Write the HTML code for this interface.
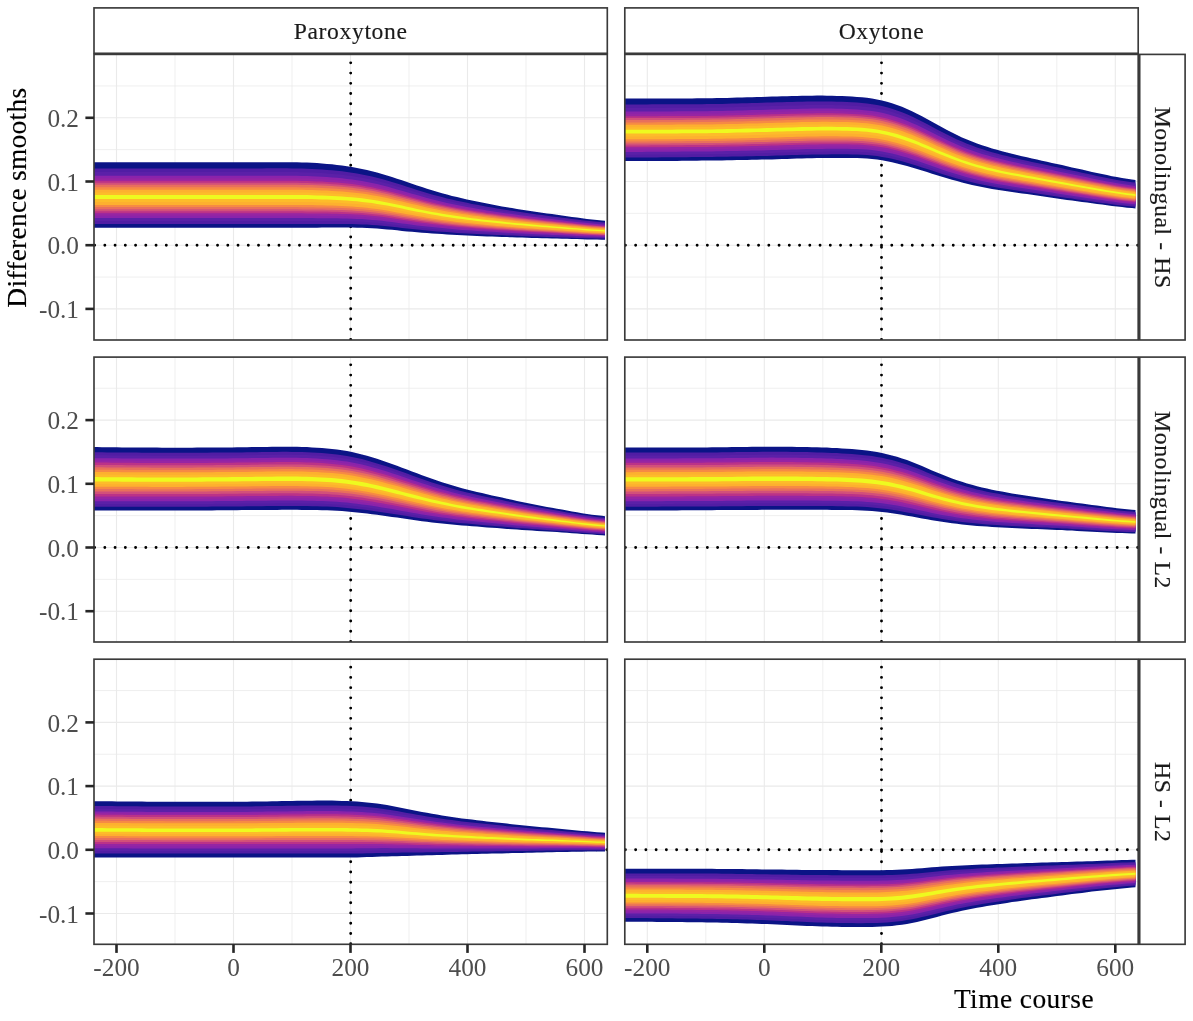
<!DOCTYPE html>
<html><head><meta charset="utf-8"><title>Difference smooths</title>
<style>html,body{margin:0;padding:0;background:#fff}svg{display:block;will-change:transform}text{font-family:"Liberation Serif",serif;stroke-width:0.15px}</style></head>
<body>
<svg width="1193" height="1021" viewBox="0 0 1193 1021">
<rect width="1193" height="1021" fill="#fff"/>
<defs>
<clipPath id="c00"><rect x="94.0" y="54.4" width="513.3" height="285.6"/></clipPath>
<clipPath id="c01"><rect x="624.8" y="54.4" width="513.4" height="285.6"/></clipPath>
<clipPath id="c10"><rect x="94.0" y="357.1" width="513.3" height="284.9"/></clipPath>
<clipPath id="c11"><rect x="624.8" y="357.1" width="513.4" height="284.9"/></clipPath>
<clipPath id="c20"><rect x="94.0" y="659.2" width="513.3" height="285.1"/></clipPath>
<clipPath id="c21"><rect x="624.8" y="659.2" width="513.4" height="285.1"/></clipPath>
</defs>
<g clip-path="url(#c00)">
<line x1="175" x2="175" y1="54.4" y2="340.0" stroke="#EAEAEA" stroke-width="0.75"/>
<line x1="292" x2="292" y1="54.4" y2="340.0" stroke="#EAEAEA" stroke-width="0.75"/>
<line x1="409" x2="409" y1="54.4" y2="340.0" stroke="#EAEAEA" stroke-width="0.75"/>
<line x1="526" x2="526" y1="54.4" y2="340.0" stroke="#EAEAEA" stroke-width="0.75"/>
<line x1="94.0" x2="607.3" y1="277.05" y2="277.05" stroke="#EAEAEA" stroke-width="0.75"/>
<line x1="94.0" x2="607.3" y1="213.35" y2="213.35" stroke="#EAEAEA" stroke-width="0.75"/>
<line x1="94.0" x2="607.3" y1="149.65" y2="149.65" stroke="#EAEAEA" stroke-width="0.75"/>
<line x1="94.0" x2="607.3" y1="85.95" y2="85.95" stroke="#EAEAEA" stroke-width="0.75"/>
<line x1="116.5" x2="116.5" y1="54.4" y2="340.0" stroke="#EAEAEA" stroke-width="1.1"/>
<line x1="233.5" x2="233.5" y1="54.4" y2="340.0" stroke="#EAEAEA" stroke-width="1.1"/>
<line x1="350.5" x2="350.5" y1="54.4" y2="340.0" stroke="#EAEAEA" stroke-width="1.1"/>
<line x1="467.5" x2="467.5" y1="54.4" y2="340.0" stroke="#EAEAEA" stroke-width="1.1"/>
<line x1="584.5" x2="584.5" y1="54.4" y2="340.0" stroke="#EAEAEA" stroke-width="1.1"/>
<line x1="94.0" x2="607.3" y1="308.9" y2="308.9" stroke="#EAEAEA" stroke-width="1.1"/>
<line x1="94.0" x2="607.3" y1="245.2" y2="245.2" stroke="#EAEAEA" stroke-width="1.1"/>
<line x1="94.0" x2="607.3" y1="181.5" y2="181.5" stroke="#EAEAEA" stroke-width="1.1"/>
<line x1="94.0" x2="607.3" y1="117.8" y2="117.8" stroke="#EAEAEA" stroke-width="1.1"/>
<line x1="350.7" x2="350.7" y1="339.45" y2="51.4" stroke="#000" stroke-width="2.9" stroke-linecap="round" stroke-dasharray="0 10.245"/>
<line x1="94.6" x2="610.3" y1="245.2" y2="245.2" stroke="#000" stroke-width="2.9" stroke-linecap="round" stroke-dasharray="0 10.245"/>
<path d="M92,162.3 L97,162.3 L102,162.3 L107,162.3 L112,162.3 L117,162.3 L122,162.3 L127,162.3 L132,162.3 L137,162.3 L142,162.3 L147,162.3 L152,162.3 L157,162.3 L162,162.3 L167,162.3 L172,162.3 L177,162.3 L182,162.3 L187,162.3 L192,162.3 L197,162.3 L202,162.3 L207,162.3 L212,162.3 L217,162.3 L222,162.3 L227,162.3 L232,162.3 L237,162.3 L242,162.3 L247,162.3 L252,162.2 L257,162.2 L262,162.2 L267,162.2 L272,162.2 L277,162.2 L282,162.2 L287,162.2 L292,162.2 L297,162.3 L302,162.4 L307,162.6 L312,162.8 L317,163.1 L322,163.5 L327,163.9 L332,164.3 L337,164.9 L342,165.5 L347,166.2 L352,167 L357,167.9 L362,168.9 L367,170 L372,171.2 L377,172.5 L382,173.9 L387,175.4 L392,177 L397,178.7 L402,180.3 L407,182 L412,183.8 L417,185.5 L422,187.1 L427,188.8 L432,190.3 L437,191.8 L442,193.3 L447,194.6 L452,195.9 L457,197.1 L462,198.3 L467,199.4 L472,200.5 L477,201.6 L482,202.6 L487,203.6 L492,204.6 L497,205.5 L502,206.4 L507,207.2 L512,208.1 L517,208.9 L522,209.7 L527,210.4 L532,211.2 L537,211.9 L542,212.7 L547,213.4 L552,214.1 L557,214.8 L562,215.5 L567,216.2 L572,216.9 L577,217.6 L582,218.2 L587,218.9 L592,219.5 L597,220 L602,220.4 L605,220.8 L605,239.7 L602,239.7 L597,239.6 L592,239.5 L587,239.4 L582,239.3 L577,239.1 L572,239 L567,238.8 L562,238.7 L557,238.6 L552,238.4 L547,238.3 L542,238.2 L537,238 L532,237.9 L527,237.8 L522,237.6 L517,237.4 L512,237.3 L507,237.1 L502,236.9 L497,236.7 L492,236.5 L487,236.4 L482,236.2 L477,236 L472,235.8 L467,235.6 L462,235.3 L457,235.1 L452,234.8 L447,234.5 L442,234.1 L437,233.8 L432,233.4 L427,233.1 L422,232.7 L417,232.3 L412,231.8 L407,231.4 L402,230.9 L397,230.3 L392,229.8 L387,229.4 L382,228.9 L377,228.5 L372,228.2 L367,228 L362,227.8 L357,227.7 L352,227.6 L347,227.5 L342,227.5 L337,227.5 L332,227.6 L327,227.6 L322,227.6 L317,227.7 L312,227.7 L307,227.7 L302,227.7 L297,227.7 L292,227.7 L287,227.7 L282,227.7 L277,227.7 L272,227.7 L267,227.7 L262,227.7 L257,227.7 L252,227.7 L247,227.7 L242,227.7 L237,227.7 L232,227.7 L227,227.7 L222,227.7 L217,227.7 L212,227.7 L207,227.7 L202,227.7 L197,227.7 L192,227.7 L187,227.7 L182,227.7 L177,227.7 L172,227.7 L167,227.7 L162,227.7 L157,227.7 L152,227.7 L147,227.7 L142,227.7 L137,227.7 L132,227.7 L127,227.7 L122,227.7 L117,227.7 L112,227.7 L107,227.7 L102,227.7 L97,227.7 L92,227.7Z" fill="#0B1486"/>
<path d="M92,168.4 L97,168.4 L102,168.4 L107,168.4 L112,168.4 L117,168.4 L122,168.4 L127,168.4 L132,168.4 L137,168.4 L142,168.4 L147,168.4 L152,168.4 L157,168.4 L162,168.4 L167,168.4 L172,168.4 L177,168.4 L182,168.4 L187,168.4 L192,168.4 L197,168.4 L202,168.4 L207,168.4 L212,168.4 L217,168.4 L222,168.4 L227,168.4 L232,168.4 L237,168.4 L242,168.4 L247,168.4 L252,168.4 L257,168.4 L262,168.4 L267,168.3 L272,168.3 L277,168.3 L282,168.3 L287,168.3 L292,168.4 L297,168.5 L302,168.6 L307,168.7 L312,168.9 L317,169.2 L322,169.5 L327,169.9 L332,170.3 L337,170.8 L342,171.3 L347,171.9 L352,172.7 L357,173.5 L362,174.4 L367,175.4 L372,176.6 L377,177.8 L382,179.1 L387,180.5 L392,182 L397,183.5 L402,185.1 L407,186.7 L412,188.3 L417,189.9 L422,191.4 L427,192.9 L432,194.4 L437,195.8 L442,197.1 L447,198.4 L452,199.6 L457,200.7 L462,201.8 L467,202.8 L472,203.9 L477,204.8 L482,205.8 L487,206.7 L492,207.6 L497,208.4 L502,209.2 L507,210 L512,210.8 L517,211.6 L522,212.3 L527,213 L532,213.7 L537,214.4 L542,215.1 L547,215.7 L552,216.4 L557,217 L562,217.7 L567,218.3 L572,219 L577,219.6 L582,220.2 L587,220.8 L592,221.3 L597,221.8 L602,222.3 L605,222.6 L605,238.6 L602,238.6 L597,238.5 L592,238.3 L587,238.2 L582,238.1 L577,237.9 L572,237.7 L567,237.5 L562,237.4 L557,237.2 L552,237 L547,236.9 L542,236.7 L537,236.5 L532,236.4 L527,236.2 L522,236 L517,235.8 L512,235.6 L507,235.4 L502,235.1 L497,234.9 L492,234.7 L487,234.5 L482,234.2 L477,234 L472,233.8 L467,233.5 L462,233.2 L457,232.9 L452,232.5 L447,232.1 L442,231.8 L437,231.4 L432,230.9 L427,230.5 L422,230 L417,229.6 L412,229.1 L407,228.5 L402,227.9 L397,227.3 L392,226.8 L387,226.2 L382,225.7 L377,225.3 L372,224.9 L367,224.6 L362,224.4 L357,224.2 L352,224.1 L347,224 L342,223.9 L337,223.9 L332,223.9 L327,223.9 L322,223.9 L317,223.9 L312,223.9 L307,223.9 L302,223.9 L297,223.9 L292,223.9 L287,223.9 L282,223.9 L277,223.9 L272,223.9 L267,223.9 L262,223.9 L257,223.9 L252,223.9 L247,223.9 L242,223.9 L237,223.9 L232,223.9 L227,223.9 L222,223.9 L217,223.9 L212,223.9 L207,223.9 L202,223.9 L197,223.9 L192,223.9 L187,223.9 L182,223.9 L177,223.9 L172,223.9 L167,223.9 L162,223.9 L157,223.9 L152,223.9 L147,223.9 L142,223.9 L137,223.9 L132,223.9 L127,223.9 L122,223.9 L117,223.9 L112,223.9 L107,223.9 L102,223.9 L97,223.9 L92,223.9Z" fill="#511DA4"/>
<path d="M92,172.1 L97,172.1 L102,172.1 L107,172.1 L112,172.1 L117,172.1 L122,172.1 L127,172.1 L132,172.1 L137,172.1 L142,172.1 L147,172.1 L152,172.1 L157,172.1 L162,172.1 L167,172.1 L172,172.1 L177,172.1 L182,172.1 L187,172.1 L192,172.1 L197,172.1 L202,172.1 L207,172.1 L212,172.1 L217,172.1 L222,172.1 L227,172.1 L232,172.1 L237,172.1 L242,172.1 L247,172.1 L252,172.1 L257,172.1 L262,172.1 L267,172 L272,172 L277,172 L282,172 L287,172 L292,172.1 L297,172.1 L302,172.3 L307,172.4 L312,172.6 L317,172.8 L322,173.1 L327,173.5 L332,173.9 L337,174.3 L342,174.8 L347,175.4 L352,176.1 L357,176.9 L362,177.7 L367,178.7 L372,179.8 L377,181 L382,182.2 L387,183.6 L392,185 L397,186.4 L402,187.9 L407,189.5 L412,191 L417,192.5 L422,194 L427,195.4 L432,196.8 L437,198.2 L442,199.4 L447,200.6 L452,201.8 L457,202.9 L462,203.9 L467,204.9 L472,205.8 L477,206.8 L482,207.7 L487,208.5 L492,209.4 L497,210.2 L502,211 L507,211.7 L512,212.5 L517,213.2 L522,213.9 L527,214.6 L532,215.2 L537,215.9 L542,216.5 L547,217.1 L552,217.8 L557,218.4 L562,219 L567,219.6 L572,220.2 L577,220.8 L582,221.4 L587,221.9 L592,222.5 L597,222.9 L602,223.3 L605,223.6 L605,237.8 L602,237.7 L597,237.6 L592,237.5 L587,237.3 L582,237.1 L577,236.9 L572,236.7 L567,236.5 L562,236.3 L557,236.1 L552,235.9 L547,235.7 L542,235.6 L537,235.4 L532,235.2 L527,235 L522,234.7 L517,234.5 L512,234.3 L507,234 L502,233.8 L497,233.5 L492,233.3 L487,233 L482,232.8 L477,232.5 L472,232.2 L467,231.9 L462,231.5 L457,231.2 L452,230.8 L447,230.4 L442,229.9 L437,229.5 L432,229 L427,228.5 L422,228 L417,227.5 L412,226.9 L407,226.3 L402,225.7 L397,225 L392,224.4 L387,223.8 L382,223.3 L377,222.8 L372,222.4 L367,222 L362,221.8 L357,221.5 L352,221.4 L347,221.2 L342,221.2 L337,221.1 L332,221.1 L327,221.1 L322,221.1 L317,221 L312,221 L307,221 L302,221 L297,221 L292,221 L287,221 L282,221 L277,221 L272,221 L267,221 L262,221 L257,221 L252,221 L247,221 L242,221 L237,221 L232,221 L227,221 L222,221 L217,221 L212,221 L207,221 L202,221 L197,221 L192,221 L187,221 L182,221 L177,221 L172,221 L167,221 L162,221 L157,221 L152,221 L147,221 L142,221 L137,221 L132,221 L127,221 L122,221 L117,221 L112,221 L107,221 L102,221 L97,221 L92,221Z" fill="#5B20A8"/>
<path d="M92,175.8 L97,175.8 L102,175.8 L107,175.8 L112,175.8 L117,175.8 L122,175.8 L127,175.8 L132,175.8 L137,175.8 L142,175.8 L147,175.8 L152,175.8 L157,175.8 L162,175.8 L167,175.8 L172,175.8 L177,175.8 L182,175.8 L187,175.8 L192,175.8 L197,175.8 L202,175.8 L207,175.8 L212,175.8 L217,175.8 L222,175.8 L227,175.8 L232,175.8 L237,175.8 L242,175.8 L247,175.8 L252,175.8 L257,175.8 L262,175.8 L267,175.7 L272,175.7 L277,175.7 L282,175.7 L287,175.7 L292,175.8 L297,175.8 L302,175.9 L307,176.1 L312,176.3 L317,176.5 L322,176.7 L327,177.1 L332,177.4 L337,177.8 L342,178.3 L347,178.9 L352,179.5 L357,180.2 L362,181.1 L367,182 L372,183 L377,184.1 L382,185.3 L387,186.6 L392,188 L397,189.4 L402,190.8 L407,192.3 L412,193.7 L417,195.1 L422,196.6 L427,197.9 L432,199.3 L437,200.5 L442,201.7 L447,202.9 L452,204 L457,205 L462,206 L467,206.9 L472,207.8 L477,208.7 L482,209.6 L487,210.4 L492,211.2 L497,211.9 L502,212.7 L507,213.4 L512,214.1 L517,214.8 L522,215.4 L527,216.1 L532,216.7 L537,217.3 L542,218 L547,218.6 L552,219.1 L557,219.7 L562,220.3 L567,220.9 L572,221.5 L577,222 L582,222.6 L587,223.1 L592,223.6 L597,224.1 L602,224.4 L605,224.7 L605,236.9 L602,236.8 L597,236.7 L592,236.6 L587,236.4 L582,236.2 L577,236 L572,235.7 L567,235.5 L562,235.3 L557,235.1 L552,234.9 L547,234.6 L542,234.4 L537,234.2 L532,234 L527,233.7 L522,233.5 L517,233.2 L512,233 L507,232.7 L502,232.4 L497,232.1 L492,231.8 L487,231.6 L482,231.3 L477,230.9 L472,230.6 L467,230.3 L462,229.9 L457,229.5 L452,229.1 L447,228.6 L442,228.1 L437,227.6 L432,227.1 L427,226.6 L422,226 L417,225.4 L412,224.8 L407,224.1 L402,223.4 L397,222.7 L392,222.1 L387,221.4 L382,220.8 L377,220.3 L372,219.9 L367,219.5 L362,219.1 L357,218.9 L352,218.7 L347,218.5 L342,218.4 L337,218.3 L332,218.3 L327,218.2 L322,218.2 L317,218.2 L312,218.1 L307,218.1 L302,218.1 L297,218.1 L292,218.1 L287,218.1 L282,218.1 L277,218.1 L272,218.1 L267,218.1 L262,218.1 L257,218.1 L252,218.1 L247,218.1 L242,218.1 L237,218.1 L232,218.1 L227,218.1 L222,218.1 L217,218.1 L212,218.1 L207,218.1 L202,218.1 L197,218.1 L192,218.1 L187,218.1 L182,218.1 L177,218.1 L172,218.1 L167,218.1 L162,218.1 L157,218.1 L152,218.1 L147,218.1 L142,218.1 L137,218.1 L132,218.1 L127,218.1 L122,218.1 L117,218.1 L112,218.1 L107,218.1 L102,218.1 L97,218.1 L92,218.1Z" fill="#8A23AB"/>
<path d="M92,178.3 L97,178.3 L102,178.3 L107,178.3 L112,178.3 L117,178.3 L122,178.3 L127,178.3 L132,178.3 L137,178.3 L142,178.3 L147,178.3 L152,178.3 L157,178.3 L162,178.3 L167,178.3 L172,178.3 L177,178.3 L182,178.3 L187,178.3 L192,178.3 L197,178.3 L202,178.3 L207,178.3 L212,178.3 L217,178.3 L222,178.3 L227,178.3 L232,178.3 L237,178.3 L242,178.3 L247,178.3 L252,178.3 L257,178.3 L262,178.2 L267,178.2 L272,178.2 L277,178.2 L282,178.2 L287,178.2 L292,178.3 L297,178.3 L302,178.4 L307,178.6 L312,178.7 L317,178.9 L322,179.2 L327,179.5 L332,179.8 L337,180.2 L342,180.7 L347,181.2 L352,181.8 L357,182.5 L362,183.3 L367,184.2 L372,185.2 L377,186.3 L382,187.4 L387,188.6 L392,190 L397,191.3 L402,192.7 L407,194.1 L412,195.5 L417,196.9 L422,198.3 L427,199.6 L432,200.9 L437,202.1 L442,203.3 L447,204.4 L452,205.4 L457,206.4 L462,207.4 L467,208.3 L472,209.2 L477,210 L482,210.8 L487,211.6 L492,212.4 L497,213.1 L502,213.9 L507,214.5 L512,215.2 L517,215.9 L522,216.5 L527,217.1 L532,217.7 L537,218.3 L542,218.9 L547,219.5 L552,220.1 L557,220.6 L562,221.2 L567,221.7 L572,222.3 L577,222.8 L582,223.4 L587,223.9 L592,224.4 L597,224.8 L602,225.2 L605,225.4 L605,236.2 L602,236.1 L597,236 L592,235.8 L587,235.6 L582,235.4 L577,235.2 L572,234.9 L567,234.7 L562,234.4 L557,234.2 L552,234 L547,233.7 L542,233.5 L537,233.3 L532,233 L527,232.8 L522,232.5 L517,232.2 L512,231.9 L507,231.6 L502,231.3 L497,231 L492,230.7 L487,230.4 L482,230 L477,229.7 L472,229.3 L467,229 L462,228.5 L457,228.1 L452,227.6 L447,227.1 L442,226.6 L437,226.1 L432,225.5 L427,224.9 L422,224.3 L417,223.7 L412,223 L407,222.3 L402,221.6 L397,220.9 L392,220.1 L387,219.5 L382,218.8 L377,218.3 L372,217.8 L367,217.3 L362,217 L357,216.7 L352,216.5 L347,216.3 L342,216.1 L337,216 L332,216 L327,215.9 L322,215.9 L317,215.8 L312,215.8 L307,215.7 L302,215.7 L297,215.7 L292,215.7 L287,215.7 L282,215.7 L277,215.7 L272,215.7 L267,215.7 L262,215.7 L257,215.7 L252,215.7 L247,215.7 L242,215.7 L237,215.7 L232,215.7 L227,215.7 L222,215.7 L217,215.7 L212,215.7 L207,215.7 L202,215.7 L197,215.7 L192,215.7 L187,215.7 L182,215.7 L177,215.7 L172,215.7 L167,215.7 L162,215.7 L157,215.7 L152,215.7 L147,215.7 L142,215.7 L137,215.7 L132,215.7 L127,215.7 L122,215.7 L117,215.7 L112,215.7 L107,215.7 L102,215.7 L97,215.7 L92,215.7Z" fill="#9625A3"/>
<path d="M92,180.8 L97,180.8 L102,180.8 L107,180.8 L112,180.8 L117,180.8 L122,180.8 L127,180.8 L132,180.8 L137,180.8 L142,180.8 L147,180.8 L152,180.8 L157,180.8 L162,180.8 L167,180.8 L172,180.8 L177,180.8 L182,180.8 L187,180.8 L192,180.8 L197,180.8 L202,180.8 L207,180.8 L212,180.8 L217,180.8 L222,180.8 L227,180.8 L232,180.8 L237,180.8 L242,180.8 L247,180.8 L252,180.8 L257,180.8 L262,180.7 L267,180.7 L272,180.7 L277,180.7 L282,180.7 L287,180.7 L292,180.8 L297,180.8 L302,180.9 L307,181 L312,181.2 L317,181.4 L322,181.6 L327,181.9 L332,182.2 L337,182.6 L342,183 L347,183.5 L352,184.1 L357,184.8 L362,185.5 L367,186.4 L372,187.3 L377,188.4 L382,189.5 L387,190.7 L392,192 L397,193.3 L402,194.6 L407,196 L412,197.4 L417,198.7 L422,200 L427,201.3 L432,202.5 L437,203.7 L442,204.8 L447,205.9 L452,206.9 L457,207.9 L462,208.8 L467,209.7 L472,210.5 L477,211.3 L482,212.1 L487,212.9 L492,213.6 L497,214.3 L502,215 L507,215.7 L512,216.3 L517,217 L522,217.6 L527,218.2 L532,218.8 L537,219.3 L542,219.9 L547,220.4 L552,221 L557,221.5 L562,222.1 L567,222.6 L572,223.1 L577,223.7 L582,224.2 L587,224.7 L592,225.1 L597,225.5 L602,225.9 L605,226.1 L605,235.6 L602,235.4 L597,235.3 L592,235.1 L587,234.9 L582,234.6 L577,234.4 L572,234.1 L567,233.9 L562,233.6 L557,233.3 L552,233.1 L547,232.8 L542,232.6 L537,232.3 L532,232 L527,231.8 L522,231.5 L517,231.2 L512,230.8 L507,230.5 L502,230.2 L497,229.9 L492,229.5 L487,229.2 L482,228.8 L477,228.4 L472,228 L467,227.6 L462,227.2 L457,226.7 L452,226.2 L447,225.7 L442,225.1 L437,224.6 L432,224 L427,223.3 L422,222.7 L417,222 L412,221.3 L407,220.5 L402,219.7 L397,219 L392,218.2 L387,217.5 L382,216.8 L377,216.2 L372,215.7 L367,215.2 L362,214.8 L357,214.5 L352,214.2 L347,214 L342,213.9 L337,213.8 L332,213.7 L327,213.6 L322,213.5 L317,213.5 L312,213.4 L307,213.4 L302,213.3 L297,213.3 L292,213.3 L287,213.3 L282,213.3 L277,213.3 L272,213.3 L267,213.3 L262,213.3 L257,213.3 L252,213.3 L247,213.3 L242,213.3 L237,213.3 L232,213.3 L227,213.3 L222,213.3 L217,213.3 L212,213.3 L207,213.3 L202,213.3 L197,213.3 L192,213.3 L187,213.3 L182,213.3 L177,213.3 L172,213.3 L167,213.3 L162,213.3 L157,213.3 L152,213.3 L147,213.3 L142,213.3 L137,213.3 L132,213.3 L127,213.3 L122,213.3 L117,213.3 L112,213.3 L107,213.3 L102,213.3 L97,213.3 L92,213.3Z" fill="#BB3288"/>
<path d="M92,182.8 L97,182.8 L102,182.8 L107,182.8 L112,182.8 L117,182.8 L122,182.8 L127,182.8 L132,182.8 L137,182.8 L142,182.8 L147,182.8 L152,182.8 L157,182.8 L162,182.8 L167,182.8 L172,182.8 L177,182.8 L182,182.8 L187,182.8 L192,182.8 L197,182.8 L202,182.8 L207,182.8 L212,182.8 L217,182.8 L222,182.8 L227,182.8 L232,182.8 L237,182.8 L242,182.8 L247,182.8 L252,182.8 L257,182.7 L262,182.7 L267,182.7 L272,182.7 L277,182.7 L282,182.7 L287,182.7 L292,182.8 L297,182.8 L302,182.9 L307,183 L312,183.2 L317,183.4 L322,183.6 L327,183.8 L332,184.2 L337,184.5 L342,184.9 L347,185.4 L352,186 L357,186.6 L362,187.3 L367,188.2 L372,189.1 L377,190.1 L382,191.2 L387,192.3 L392,193.6 L397,194.9 L402,196.2 L407,197.5 L412,198.8 L417,200.1 L422,201.4 L427,202.7 L432,203.9 L437,205 L442,206.1 L447,207.1 L452,208.1 L457,209 L462,209.9 L467,210.8 L472,211.6 L477,212.4 L482,213.1 L487,213.9 L492,214.6 L497,215.3 L502,215.9 L507,216.6 L512,217.2 L517,217.8 L522,218.4 L527,219 L532,219.6 L537,220.1 L542,220.7 L547,221.2 L552,221.7 L557,222.3 L562,222.8 L567,223.3 L572,223.8 L577,224.3 L582,224.8 L587,225.3 L592,225.7 L597,226.1 L602,226.5 L605,226.7 L605,235 L602,234.9 L597,234.7 L592,234.5 L587,234.3 L582,234 L577,233.7 L572,233.5 L567,233.2 L562,232.9 L557,232.6 L552,232.3 L547,232.1 L542,231.8 L537,231.5 L532,231.2 L527,230.9 L522,230.6 L517,230.3 L512,230 L507,229.6 L502,229.3 L497,228.9 L492,228.5 L487,228.2 L482,227.8 L477,227.4 L472,227 L467,226.5 L462,226.1 L457,225.6 L452,225 L447,224.5 L442,223.9 L437,223.3 L432,222.6 L427,222 L422,221.3 L417,220.6 L412,219.8 L407,219 L402,218.2 L397,217.4 L392,216.6 L387,215.8 L382,215.1 L377,214.5 L372,214 L367,213.5 L362,213 L357,212.7 L352,212.4 L347,212.2 L342,212 L337,211.8 L332,211.7 L327,211.6 L322,211.6 L317,211.5 L312,211.4 L307,211.4 L302,211.3 L297,211.3 L292,211.3 L287,211.3 L282,211.3 L277,211.3 L272,211.3 L267,211.3 L262,211.3 L257,211.3 L252,211.3 L247,211.3 L242,211.3 L237,211.3 L232,211.3 L227,211.3 L222,211.3 L217,211.3 L212,211.3 L207,211.3 L202,211.3 L197,211.3 L192,211.3 L187,211.3 L182,211.3 L177,211.3 L172,211.3 L167,211.3 L162,211.3 L157,211.3 L152,211.3 L147,211.3 L142,211.3 L137,211.3 L132,211.3 L127,211.3 L122,211.3 L117,211.3 L112,211.3 L107,211.3 L102,211.3 L97,211.3 L92,211.3Z" fill="#D2507A"/>
<path d="M92,184.8 L97,184.8 L102,184.8 L107,184.8 L112,184.8 L117,184.8 L122,184.8 L127,184.8 L132,184.8 L137,184.8 L142,184.8 L147,184.8 L152,184.8 L157,184.8 L162,184.8 L167,184.8 L172,184.8 L177,184.8 L182,184.8 L187,184.8 L192,184.8 L197,184.8 L202,184.8 L207,184.8 L212,184.8 L217,184.8 L222,184.8 L227,184.8 L232,184.8 L237,184.8 L242,184.8 L247,184.8 L252,184.8 L257,184.7 L262,184.7 L267,184.7 L272,184.7 L277,184.7 L282,184.7 L287,184.7 L292,184.7 L297,184.8 L302,184.9 L307,185 L312,185.1 L317,185.3 L322,185.5 L327,185.8 L332,186.1 L337,186.4 L342,186.8 L347,187.3 L352,187.8 L357,188.4 L362,189.1 L367,189.9 L372,190.8 L377,191.8 L382,192.9 L387,194 L392,195.2 L397,196.4 L402,197.7 L407,199 L412,200.3 L417,201.6 L422,202.8 L427,204 L432,205.2 L437,206.3 L442,207.3 L447,208.3 L452,209.3 L457,210.2 L462,211.1 L467,211.9 L472,212.7 L477,213.4 L482,214.2 L487,214.9 L492,215.6 L497,216.2 L502,216.9 L507,217.5 L512,218.1 L517,218.7 L522,219.3 L527,219.8 L532,220.4 L537,220.9 L542,221.4 L547,222 L552,222.5 L557,223 L562,223.5 L567,224 L572,224.5 L577,225 L582,225.5 L587,225.9 L592,226.4 L597,226.7 L602,227.1 L605,227.3 L605,234.4 L602,234.3 L597,234.1 L592,233.9 L587,233.6 L582,233.4 L577,233.1 L572,232.8 L567,232.5 L562,232.2 L557,231.9 L552,231.6 L547,231.3 L542,231 L537,230.7 L532,230.4 L527,230.1 L522,229.8 L517,229.4 L512,229.1 L507,228.7 L502,228.3 L497,227.9 L492,227.6 L487,227.2 L482,226.8 L477,226.3 L472,225.9 L467,225.4 L462,224.9 L457,224.4 L452,223.9 L447,223.3 L442,222.7 L437,222 L432,221.3 L427,220.6 L422,219.9 L417,219.1 L412,218.3 L407,217.5 L402,216.7 L397,215.8 L392,215 L387,214.2 L382,213.5 L377,212.8 L372,212.2 L367,211.7 L362,211.2 L357,210.9 L352,210.5 L347,210.3 L342,210.1 L337,209.9 L332,209.8 L327,209.7 L322,209.6 L317,209.5 L312,209.5 L307,209.4 L302,209.4 L297,209.3 L292,209.3 L287,209.3 L282,209.3 L277,209.3 L272,209.3 L267,209.3 L262,209.3 L257,209.3 L252,209.3 L247,209.3 L242,209.3 L237,209.3 L232,209.3 L227,209.3 L222,209.3 L217,209.3 L212,209.3 L207,209.3 L202,209.3 L197,209.3 L192,209.3 L187,209.3 L182,209.3 L177,209.3 L172,209.3 L167,209.3 L162,209.3 L157,209.3 L152,209.3 L147,209.3 L142,209.3 L137,209.3 L132,209.3 L127,209.3 L122,209.3 L117,209.3 L112,209.3 L107,209.3 L102,209.3 L97,209.3 L92,209.3Z" fill="#E8705C"/>
<path d="M92,187.3 L97,187.3 L102,187.3 L107,187.3 L112,187.3 L117,187.3 L122,187.3 L127,187.3 L132,187.3 L137,187.3 L142,187.3 L147,187.3 L152,187.3 L157,187.3 L162,187.3 L167,187.3 L172,187.3 L177,187.3 L182,187.3 L187,187.3 L192,187.3 L197,187.3 L202,187.3 L207,187.3 L212,187.3 L217,187.3 L222,187.3 L227,187.3 L232,187.3 L237,187.3 L242,187.3 L247,187.3 L252,187.2 L257,187.2 L262,187.2 L267,187.2 L272,187.2 L277,187.2 L282,187.2 L287,187.2 L292,187.2 L297,187.3 L302,187.4 L307,187.5 L312,187.6 L317,187.8 L322,188 L327,188.2 L332,188.5 L337,188.8 L342,189.2 L347,189.6 L352,190.1 L357,190.7 L362,191.4 L367,192.1 L372,193 L377,193.9 L382,194.9 L387,196 L392,197.2 L397,198.4 L402,199.6 L407,200.9 L412,202.1 L417,203.3 L422,204.5 L427,205.7 L432,206.8 L437,207.9 L442,208.9 L447,209.8 L452,210.8 L457,211.6 L462,212.5 L467,213.3 L472,214 L477,214.7 L482,215.4 L487,216.1 L492,216.8 L497,217.4 L502,218 L507,218.6 L512,219.2 L517,219.8 L522,220.3 L527,220.9 L532,221.4 L537,221.9 L542,222.4 L547,222.9 L552,223.4 L557,223.9 L562,224.4 L567,224.9 L572,225.3 L577,225.8 L582,226.3 L587,226.7 L592,227.1 L597,227.5 L602,227.8 L605,228 L605,233.8 L602,233.6 L597,233.4 L592,233.2 L587,232.9 L582,232.7 L577,232.3 L572,232 L567,231.7 L562,231.4 L557,231.1 L552,230.8 L547,230.5 L542,230.2 L537,229.8 L532,229.5 L527,229.2 L522,228.8 L517,228.5 L512,228.1 L507,227.7 L502,227.3 L497,226.9 L492,226.5 L487,226.1 L482,225.6 L477,225.2 L472,224.7 L467,224.2 L462,223.7 L457,223.1 L452,222.6 L447,221.9 L442,221.3 L437,220.6 L432,219.9 L427,219.1 L422,218.4 L417,217.6 L412,216.7 L407,215.9 L402,215 L397,214.1 L392,213.2 L387,212.4 L382,211.6 L377,210.9 L372,210.3 L367,209.7 L362,209.3 L357,208.9 L352,208.5 L347,208.2 L342,208 L337,207.8 L332,207.7 L327,207.6 L322,207.5 L317,207.4 L312,207.3 L307,207.2 L302,207.2 L297,207.1 L292,207.1 L287,207.1 L282,207.1 L277,207.1 L272,207.1 L267,207.1 L262,207.1 L257,207.1 L252,207.1 L247,207.1 L242,207.1 L237,207.1 L232,207.1 L227,207.1 L222,207.1 L217,207.1 L212,207.1 L207,207.1 L202,207.1 L197,207.1 L192,207.1 L187,207.1 L182,207.1 L177,207.1 L172,207.1 L167,207.1 L162,207.1 L157,207.1 L152,207.1 L147,207.1 L142,207.1 L137,207.1 L132,207.1 L127,207.1 L122,207.1 L117,207.1 L112,207.1 L107,207.1 L102,207.1 L97,207.1 L92,207.1Z" fill="#F68A44"/>
<path d="M92,189.8 L97,189.8 L102,189.8 L107,189.8 L112,189.8 L117,189.8 L122,189.8 L127,189.8 L132,189.8 L137,189.8 L142,189.8 L147,189.8 L152,189.8 L157,189.8 L162,189.8 L167,189.8 L172,189.8 L177,189.8 L182,189.8 L187,189.8 L192,189.8 L197,189.8 L202,189.8 L207,189.8 L212,189.8 L217,189.8 L222,189.8 L227,189.8 L232,189.8 L237,189.8 L242,189.8 L247,189.7 L252,189.7 L257,189.7 L262,189.7 L267,189.7 L272,189.7 L277,189.7 L282,189.7 L287,189.7 L292,189.7 L297,189.8 L302,189.8 L307,189.9 L312,190.1 L317,190.2 L322,190.4 L327,190.6 L332,190.9 L337,191.2 L342,191.5 L347,191.9 L352,192.4 L357,193 L362,193.6 L367,194.3 L372,195.2 L377,196.1 L382,197 L387,198.1 L392,199.2 L397,200.4 L402,201.6 L407,202.8 L412,203.9 L417,205.1 L422,206.3 L427,207.4 L432,208.4 L437,209.5 L442,210.4 L447,211.4 L452,212.2 L457,213.1 L462,213.9 L467,214.6 L472,215.4 L477,216 L482,216.7 L487,217.4 L492,218 L497,218.6 L502,219.2 L507,219.8 L512,220.3 L517,220.9 L522,221.4 L527,221.9 L532,222.4 L537,222.9 L542,223.4 L547,223.9 L552,224.3 L557,224.8 L562,225.3 L567,225.7 L572,226.2 L577,226.6 L582,227.1 L587,227.5 L592,227.9 L597,228.2 L602,228.5 L605,228.7 L605,233.1 L602,233 L597,232.8 L592,232.5 L587,232.2 L582,231.9 L577,231.6 L572,231.3 L567,231 L562,230.6 L557,230.3 L552,230 L547,229.6 L542,229.3 L537,229 L532,228.6 L527,228.3 L522,227.9 L517,227.5 L512,227.1 L507,226.7 L502,226.3 L497,225.9 L492,225.4 L487,225 L482,224.5 L477,224 L472,223.5 L467,223 L462,222.5 L457,221.9 L452,221.2 L447,220.6 L442,219.9 L437,219.2 L432,218.4 L427,217.7 L422,216.8 L417,216 L412,215.1 L407,214.2 L402,213.3 L397,212.4 L392,211.5 L387,210.6 L382,209.8 L377,209.1 L372,208.4 L367,207.8 L362,207.3 L357,206.9 L352,206.5 L347,206.2 L342,205.9 L337,205.7 L332,205.6 L327,205.4 L322,205.3 L317,205.2 L312,205.1 L307,205 L302,205 L297,204.9 L292,204.9 L287,204.9 L282,204.9 L277,204.9 L272,204.9 L267,204.9 L262,204.9 L257,204.9 L252,204.9 L247,204.9 L242,204.9 L237,204.9 L232,204.9 L227,204.9 L222,204.9 L217,204.9 L212,204.9 L207,204.9 L202,204.9 L197,204.9 L192,204.9 L187,204.9 L182,204.9 L177,204.9 L172,204.9 L167,204.9 L162,204.9 L157,204.9 L152,204.9 L147,204.9 L142,204.9 L137,204.9 L132,204.9 L127,204.9 L122,204.9 L117,204.9 L112,204.9 L107,204.9 L102,204.9 L97,204.9 L92,204.9Z" fill="#FDB02F"/>
<path d="M92,192.4 L97,192.4 L102,192.4 L107,192.4 L112,192.4 L117,192.4 L122,192.4 L127,192.4 L132,192.4 L137,192.4 L142,192.4 L147,192.4 L152,192.4 L157,192.4 L162,192.4 L167,192.4 L172,192.4 L177,192.4 L182,192.4 L187,192.4 L192,192.4 L197,192.4 L202,192.4 L207,192.4 L212,192.4 L217,192.4 L222,192.4 L227,192.4 L232,192.4 L237,192.4 L242,192.4 L247,192.4 L252,192.4 L257,192.3 L262,192.3 L267,192.3 L272,192.3 L277,192.3 L282,192.3 L287,192.3 L292,192.3 L297,192.4 L302,192.5 L307,192.5 L312,192.7 L317,192.8 L322,193 L327,193.2 L332,193.4 L337,193.7 L342,194 L347,194.4 L352,194.8 L357,195.4 L362,196 L367,196.7 L372,197.4 L377,198.3 L382,199.2 L387,200.2 L392,201.3 L397,202.4 L402,203.6 L407,204.7 L412,205.9 L417,207 L422,208.1 L427,209.1 L432,210.2 L437,211.1 L442,212.1 L447,213 L452,213.8 L457,214.6 L462,215.3 L467,216.1 L472,216.8 L477,217.4 L482,218.1 L487,218.7 L492,219.3 L497,219.9 L502,220.4 L507,221 L512,221.5 L517,222 L522,222.5 L527,223 L532,223.5 L537,223.9 L542,224.4 L547,224.9 L552,225.3 L557,225.7 L562,226.2 L567,226.6 L572,227.1 L577,227.5 L582,227.9 L587,228.3 L592,228.7 L597,229 L602,229.3 L605,229.5 L605,232.3 L602,232.1 L597,231.9 L592,231.6 L587,231.3 L582,231 L577,230.6 L572,230.3 L567,229.9 L562,229.6 L557,229.2 L552,228.8 L547,228.5 L542,228.1 L537,227.8 L532,227.4 L527,227 L522,226.6 L517,226.2 L512,225.8 L507,225.3 L502,224.9 L497,224.4 L492,223.9 L487,223.5 L482,223 L477,222.4 L472,221.9 L467,221.3 L462,220.7 L457,220.1 L452,219.5 L447,218.8 L442,218 L437,217.3 L432,216.5 L427,215.6 L422,214.7 L417,213.8 L412,212.9 L407,211.9 L402,211 L397,210 L392,209 L387,208.1 L382,207.3 L377,206.5 L372,205.8 L367,205.1 L362,204.6 L357,204.1 L352,203.7 L347,203.4 L342,203.1 L337,202.8 L332,202.7 L327,202.5 L322,202.4 L317,202.2 L312,202.1 L307,202 L302,202 L297,201.9 L292,201.9 L287,201.9 L282,201.9 L277,201.9 L272,201.9 L267,201.9 L262,201.9 L257,201.9 L252,201.9 L247,201.9 L242,201.9 L237,201.9 L232,201.9 L227,201.9 L222,201.9 L217,201.9 L212,201.9 L207,201.9 L202,201.9 L197,201.9 L192,201.9 L187,201.9 L182,201.9 L177,201.9 L172,201.9 L167,201.9 L162,201.9 L157,201.9 L152,201.9 L147,201.9 L142,201.9 L137,201.9 L132,201.9 L127,201.9 L122,201.9 L117,201.9 L112,201.9 L107,201.9 L102,201.9 L97,201.9 L92,201.9Z" fill="#FDBC2A"/>
<path d="M92,195 L97,195 L102,195 L107,195 L112,195 L117,195 L122,195 L127,195 L132,195 L137,195 L142,195 L147,195 L152,195 L157,195 L162,195 L167,195 L172,195 L177,195 L182,195 L187,195 L192,195 L197,195 L202,195 L207,195 L212,195 L217,195 L222,195 L227,195 L232,195 L237,195 L242,195 L247,195 L252,195 L257,195 L262,195 L267,194.9 L272,194.9 L277,194.9 L282,194.9 L287,194.9 L292,195 L297,195 L302,195.1 L307,195.1 L312,195.3 L317,195.4 L322,195.5 L327,195.7 L332,196 L337,196.2 L342,196.5 L347,196.9 L352,197.3 L357,197.8 L362,198.3 L367,199 L372,199.7 L377,200.5 L382,201.4 L387,202.4 L392,203.4 L397,204.5 L402,205.6 L407,206.7 L412,207.8 L417,208.9 L422,209.9 L427,210.9 L432,211.9 L437,212.8 L442,213.7 L447,214.5 L452,215.3 L457,216.1 L462,216.8 L467,217.5 L472,218.2 L477,218.8 L482,219.4 L487,220 L492,220.6 L497,221.1 L502,221.6 L507,222.2 L512,222.7 L517,223.2 L522,223.6 L527,224.1 L532,224.6 L537,225 L542,225.4 L547,225.8 L552,226.3 L557,226.7 L562,227.1 L567,227.5 L572,227.9 L577,228.3 L582,228.7 L587,229.1 L592,229.5 L597,229.8 L602,230.1 L605,230.3 L605,231.4 L602,231.2 L597,231 L592,230.7 L587,230.4 L582,230 L577,229.6 L572,229.3 L567,228.9 L562,228.5 L557,228.1 L552,227.7 L547,227.3 L542,227 L537,226.6 L532,226.2 L527,225.7 L522,225.3 L517,224.9 L512,224.4 L507,223.9 L502,223.5 L497,223 L492,222.5 L487,222 L482,221.4 L477,220.9 L472,220.3 L467,219.7 L462,219 L457,218.4 L452,217.7 L447,216.9 L442,216.2 L437,215.3 L432,214.5 L427,213.6 L422,212.6 L417,211.7 L412,210.7 L407,209.7 L402,208.6 L397,207.6 L392,206.6 L387,205.6 L382,204.7 L377,203.9 L372,203.1 L367,202.5 L362,201.9 L357,201.3 L352,200.9 L347,200.5 L342,200.2 L337,200 L332,199.7 L327,199.6 L322,199.4 L317,199.3 L312,199.1 L307,199.1 L302,199 L297,198.9 L292,198.9 L287,198.9 L282,198.9 L277,198.9 L272,198.9 L267,198.9 L262,198.9 L257,198.9 L252,198.9 L247,198.9 L242,198.9 L237,198.9 L232,198.9 L227,198.9 L222,198.9 L217,198.9 L212,198.9 L207,198.9 L202,198.9 L197,198.9 L192,198.9 L187,198.9 L182,198.9 L177,198.9 L172,198.9 L167,198.9 L162,198.9 L157,198.9 L152,198.9 L147,198.9 L142,198.9 L137,198.9 L132,198.9 L127,198.9 L122,198.9 L117,198.9 L112,198.9 L107,198.9 L102,198.9 L97,198.9 L92,198.9Z" fill="#EEFA1F"/>
</g>
<rect x="94.0" y="54.4" width="513.3" height="285.6" fill="none" stroke="#3a3a3a" stroke-width="1.65"/>
<g clip-path="url(#c01)">
<line x1="705.8" x2="705.8" y1="54.4" y2="340.0" stroke="#EAEAEA" stroke-width="0.75"/>
<line x1="822.8" x2="822.8" y1="54.4" y2="340.0" stroke="#EAEAEA" stroke-width="0.75"/>
<line x1="939.8" x2="939.8" y1="54.4" y2="340.0" stroke="#EAEAEA" stroke-width="0.75"/>
<line x1="1056.8" x2="1056.8" y1="54.4" y2="340.0" stroke="#EAEAEA" stroke-width="0.75"/>
<line x1="624.8" x2="1138.2" y1="277.05" y2="277.05" stroke="#EAEAEA" stroke-width="0.75"/>
<line x1="624.8" x2="1138.2" y1="213.35" y2="213.35" stroke="#EAEAEA" stroke-width="0.75"/>
<line x1="624.8" x2="1138.2" y1="149.65" y2="149.65" stroke="#EAEAEA" stroke-width="0.75"/>
<line x1="624.8" x2="1138.2" y1="85.95" y2="85.95" stroke="#EAEAEA" stroke-width="0.75"/>
<line x1="647.3" x2="647.3" y1="54.4" y2="340.0" stroke="#EAEAEA" stroke-width="1.1"/>
<line x1="764.3" x2="764.3" y1="54.4" y2="340.0" stroke="#EAEAEA" stroke-width="1.1"/>
<line x1="881.3" x2="881.3" y1="54.4" y2="340.0" stroke="#EAEAEA" stroke-width="1.1"/>
<line x1="998.3" x2="998.3" y1="54.4" y2="340.0" stroke="#EAEAEA" stroke-width="1.1"/>
<line x1="1115.3" x2="1115.3" y1="54.4" y2="340.0" stroke="#EAEAEA" stroke-width="1.1"/>
<line x1="624.8" x2="1138.2" y1="308.9" y2="308.9" stroke="#EAEAEA" stroke-width="1.1"/>
<line x1="624.8" x2="1138.2" y1="245.2" y2="245.2" stroke="#EAEAEA" stroke-width="1.1"/>
<line x1="624.8" x2="1138.2" y1="181.5" y2="181.5" stroke="#EAEAEA" stroke-width="1.1"/>
<line x1="624.8" x2="1138.2" y1="117.8" y2="117.8" stroke="#EAEAEA" stroke-width="1.1"/>
<line x1="881.5" x2="881.5" y1="339.45" y2="51.4" stroke="#000" stroke-width="2.9" stroke-linecap="round" stroke-dasharray="0 10.245"/>
<line x1="625.4" x2="1141.2" y1="245.2" y2="245.2" stroke="#000" stroke-width="2.9" stroke-linecap="round" stroke-dasharray="0 10.245"/>
<path d="M622,98.5 L627,98.5 L632,98.5 L637,98.5 L642,98.5 L647,98.5 L652,98.5 L657,98.5 L662,98.5 L667,98.4 L672,98.4 L677,98.4 L682,98.4 L687,98.4 L692,98.4 L697,98.3 L702,98.3 L707,98.3 L712,98.2 L717,98.1 L722,98 L727,97.9 L732,97.8 L737,97.6 L742,97.5 L747,97.3 L752,97.2 L757,97 L762,96.9 L767,96.7 L772,96.6 L777,96.4 L782,96.3 L787,96.2 L792,96 L797,95.9 L802,95.8 L807,95.7 L812,95.7 L817,95.6 L822,95.6 L827,95.7 L832,95.7 L837,95.9 L842,96 L847,96.2 L852,96.5 L857,96.9 L862,97.3 L867,97.8 L872,98.5 L877,99.4 L882,100.4 L887,101.7 L892,103.2 L897,104.9 L902,106.8 L907,108.9 L912,111.2 L917,113.7 L922,116.3 L927,119.1 L932,121.8 L937,124.6 L942,127.3 L947,130 L952,132.6 L957,135 L962,137.4 L967,139.5 L972,141.6 L977,143.4 L982,145.2 L987,146.8 L992,148.4 L997,149.8 L1002,151.2 L1007,152.5 L1012,153.8 L1017,155 L1022,156.2 L1027,157.3 L1032,158.5 L1037,159.6 L1042,160.7 L1047,161.8 L1052,162.9 L1057,164 L1062,165.1 L1067,166.3 L1072,167.4 L1077,168.5 L1082,169.6 L1087,170.7 L1092,171.9 L1097,173 L1102,174.1 L1107,175.1 L1112,176.2 L1117,177.1 L1122,178 L1127,178.8 L1132,179.5 L1135.5,180 L1135.5,208.5 L1132,208.1 L1127,207.7 L1122,207.1 L1117,206.6 L1112,205.9 L1107,205.3 L1102,204.6 L1097,204 L1092,203.3 L1087,202.6 L1082,201.9 L1077,201.3 L1072,200.6 L1067,199.9 L1062,199.2 L1057,198.4 L1052,197.7 L1047,197 L1042,196.2 L1037,195.5 L1032,194.8 L1027,194.1 L1022,193.4 L1017,192.7 L1012,192 L1007,191.3 L1002,190.6 L997,189.8 L992,188.9 L987,188 L982,187 L977,186 L972,184.9 L967,183.7 L962,182.4 L957,181.1 L952,179.7 L947,178.2 L942,176.7 L937,175.2 L932,173.7 L927,172.1 L922,170.5 L917,169 L912,167.5 L907,166 L902,164.7 L897,163.4 L892,162.3 L887,161.2 L882,160.3 L877,159.6 L872,159 L867,158.6 L862,158.3 L857,158.1 L852,157.9 L847,157.9 L842,157.9 L837,157.9 L832,157.9 L827,158 L822,158.1 L817,158.1 L812,158.2 L807,158.3 L802,158.5 L797,158.6 L792,158.8 L787,158.9 L782,159.1 L777,159.2 L772,159.4 L767,159.5 L762,159.6 L757,159.7 L752,159.8 L747,159.9 L742,160 L737,160.1 L732,160.2 L727,160.3 L722,160.4 L717,160.5 L712,160.5 L707,160.6 L702,160.6 L697,160.7 L692,160.7 L687,160.8 L682,160.8 L677,160.9 L672,160.9 L667,160.9 L662,161 L657,161 L652,161 L647,161 L642,161.1 L637,161.1 L632,161.1 L627,161.1 L622,161.1Z" fill="#0B1486"/>
<path d="M622,104.4 L627,104.4 L632,104.4 L637,104.4 L642,104.4 L647,104.4 L652,104.3 L657,104.3 L662,104.3 L667,104.3 L672,104.3 L677,104.3 L682,104.3 L687,104.2 L692,104.2 L697,104.2 L702,104.2 L707,104.1 L712,104 L717,104 L722,103.9 L727,103.8 L732,103.6 L737,103.5 L742,103.3 L747,103.2 L752,103.1 L757,102.9 L762,102.8 L767,102.6 L772,102.5 L777,102.3 L782,102.2 L787,102.1 L792,101.9 L797,101.8 L802,101.7 L807,101.6 L812,101.5 L817,101.5 L822,101.5 L827,101.5 L832,101.6 L837,101.7 L842,101.8 L847,102 L852,102.3 L857,102.6 L862,103 L867,103.5 L872,104.2 L877,105 L882,106 L887,107.3 L892,108.7 L897,110.4 L902,112.2 L907,114.3 L912,116.5 L917,118.9 L922,121.4 L927,124 L932,126.7 L937,129.4 L942,132 L947,134.5 L952,137 L957,139.4 L962,141.6 L967,143.7 L972,145.6 L977,147.4 L982,149.1 L987,150.7 L992,152.2 L997,153.6 L1002,154.9 L1007,156.1 L1012,157.4 L1017,158.5 L1022,159.7 L1027,160.8 L1032,161.9 L1037,163 L1042,164 L1047,165.1 L1052,166.2 L1057,167.3 L1062,168.3 L1067,169.4 L1072,170.5 L1077,171.6 L1082,172.7 L1087,173.7 L1092,174.8 L1097,175.9 L1102,176.9 L1107,178 L1112,179 L1117,179.9 L1122,180.8 L1127,181.5 L1132,182.2 L1135.5,182.6 L1135.5,206.8 L1132,206.5 L1127,206 L1122,205.5 L1117,204.9 L1112,204.2 L1107,203.5 L1102,202.9 L1097,202.2 L1092,201.5 L1087,200.8 L1082,200.1 L1077,199.4 L1072,198.6 L1067,197.9 L1062,197.2 L1057,196.4 L1052,195.7 L1047,194.9 L1042,194.2 L1037,193.4 L1032,192.7 L1027,191.9 L1022,191.2 L1017,190.5 L1012,189.8 L1007,189.1 L1002,188.3 L997,187.5 L992,186.6 L987,185.6 L982,184.6 L977,183.5 L972,182.3 L967,181.1 L962,179.8 L957,178.4 L952,177 L947,175.4 L942,173.9 L937,172.3 L932,170.6 L927,169 L922,167.4 L917,165.8 L912,164.2 L907,162.7 L902,161.3 L897,160 L892,158.8 L887,157.8 L882,156.9 L877,156.1 L872,155.5 L867,155 L862,154.7 L857,154.5 L852,154.4 L847,154.3 L842,154.3 L837,154.3 L832,154.3 L827,154.4 L822,154.4 L817,154.5 L812,154.6 L807,154.7 L802,154.8 L797,155 L792,155.1 L787,155.3 L782,155.4 L777,155.6 L772,155.7 L767,155.9 L762,156 L757,156.1 L752,156.2 L747,156.3 L742,156.4 L737,156.5 L732,156.6 L727,156.7 L722,156.8 L717,156.8 L712,156.9 L707,157 L702,157 L697,157.1 L692,157.1 L687,157.2 L682,157.2 L677,157.2 L672,157.3 L667,157.3 L662,157.3 L657,157.4 L652,157.4 L647,157.4 L642,157.4 L637,157.4 L632,157.4 L627,157.5 L622,157.5Z" fill="#511DA4"/>
<path d="M622,107.9 L627,107.9 L632,107.9 L637,107.9 L642,107.9 L647,107.9 L652,107.9 L657,107.9 L662,107.9 L667,107.8 L672,107.8 L677,107.8 L682,107.8 L687,107.8 L692,107.7 L697,107.7 L702,107.7 L707,107.6 L712,107.6 L717,107.5 L722,107.4 L727,107.3 L732,107.2 L737,107 L742,106.9 L747,106.7 L752,106.6 L757,106.4 L762,106.3 L767,106.2 L772,106 L777,105.9 L782,105.7 L787,105.6 L792,105.5 L797,105.4 L802,105.2 L807,105.1 L812,105.1 L817,105 L822,105 L827,105 L832,105.1 L837,105.2 L842,105.3 L847,105.5 L852,105.8 L857,106.1 L862,106.5 L867,107 L872,107.6 L877,108.4 L882,109.4 L887,110.6 L892,112.1 L897,113.7 L902,115.5 L907,117.5 L912,119.7 L917,122 L922,124.5 L927,127 L932,129.6 L937,132.2 L942,134.8 L947,137.3 L952,139.7 L957,142 L962,144.1 L967,146.2 L972,148.1 L977,149.8 L982,151.5 L987,153 L992,154.5 L997,155.8 L1002,157.1 L1007,158.3 L1012,159.5 L1017,160.7 L1022,161.8 L1027,162.9 L1032,163.9 L1037,165 L1042,166.1 L1047,167.1 L1052,168.2 L1057,169.2 L1062,170.3 L1067,171.3 L1072,172.4 L1077,173.4 L1082,174.5 L1087,175.5 L1092,176.6 L1097,177.6 L1102,178.7 L1107,179.7 L1112,180.6 L1117,181.6 L1122,182.4 L1127,183.2 L1132,183.8 L1135.5,184.3 L1135.5,205.6 L1132,205.2 L1127,204.7 L1122,204.2 L1117,203.5 L1112,202.9 L1107,202.2 L1102,201.5 L1097,200.8 L1092,200.1 L1087,199.4 L1082,198.6 L1077,197.9 L1072,197.2 L1067,196.4 L1062,195.7 L1057,194.9 L1052,194.1 L1047,193.4 L1042,192.6 L1037,191.8 L1032,191.1 L1027,190.3 L1022,189.6 L1017,188.8 L1012,188.1 L1007,187.3 L1002,186.5 L997,185.7 L992,184.8 L987,183.8 L982,182.7 L977,181.6 L972,180.4 L967,179.1 L962,177.8 L957,176.4 L952,174.9 L947,173.3 L942,171.7 L937,170 L932,168.3 L927,166.6 L922,164.9 L917,163.3 L912,161.7 L907,160.2 L902,158.7 L897,157.4 L892,156.2 L887,155.1 L882,154.2 L877,153.4 L872,152.8 L867,152.3 L862,152 L857,151.8 L852,151.6 L847,151.6 L842,151.6 L837,151.6 L832,151.6 L827,151.6 L822,151.7 L817,151.7 L812,151.8 L807,151.9 L802,152 L797,152.2 L792,152.3 L787,152.5 L782,152.6 L777,152.8 L772,152.9 L767,153.1 L762,153.2 L757,153.3 L752,153.4 L747,153.5 L742,153.6 L737,153.7 L732,153.8 L727,153.9 L722,154 L717,154.1 L712,154.1 L707,154.2 L702,154.2 L697,154.3 L692,154.3 L687,154.4 L682,154.4 L677,154.5 L672,154.5 L667,154.5 L662,154.5 L657,154.6 L652,154.6 L647,154.6 L642,154.6 L637,154.7 L632,154.7 L627,154.7 L622,154.7Z" fill="#5B20A8"/>
<path d="M622,111.5 L627,111.5 L632,111.4 L637,111.4 L642,111.4 L647,111.4 L652,111.4 L657,111.4 L662,111.4 L667,111.4 L672,111.4 L677,111.3 L682,111.3 L687,111.3 L692,111.3 L697,111.2 L702,111.2 L707,111.2 L712,111.1 L717,111 L722,110.9 L727,110.8 L732,110.7 L737,110.6 L742,110.4 L747,110.3 L752,110.1 L757,110 L762,109.9 L767,109.7 L772,109.6 L777,109.4 L782,109.3 L787,109.2 L792,109 L797,108.9 L802,108.8 L807,108.7 L812,108.6 L817,108.6 L822,108.5 L827,108.6 L832,108.6 L837,108.7 L842,108.8 L847,109 L852,109.2 L857,109.5 L862,109.9 L867,110.4 L872,111 L877,111.8 L882,112.8 L887,114 L892,115.4 L897,117 L902,118.8 L907,120.7 L912,122.9 L917,125.1 L922,127.5 L927,130 L932,132.6 L937,135.1 L942,137.6 L947,140 L952,142.3 L957,144.6 L962,146.7 L967,148.7 L972,150.5 L977,152.2 L982,153.9 L987,155.3 L992,156.8 L997,158.1 L1002,159.3 L1007,160.5 L1012,161.7 L1017,162.8 L1022,163.9 L1027,164.9 L1032,166 L1037,167 L1042,168.1 L1047,169.1 L1052,170.1 L1057,171.2 L1062,172.2 L1067,173.2 L1072,174.2 L1077,175.3 L1082,176.3 L1087,177.3 L1092,178.4 L1097,179.4 L1102,180.4 L1107,181.4 L1112,182.3 L1117,183.2 L1122,184.1 L1127,184.8 L1132,185.4 L1135.5,185.9 L1135.5,204.3 L1132,203.9 L1127,203.4 L1122,202.9 L1117,202.2 L1112,201.6 L1107,200.9 L1102,200.1 L1097,199.4 L1092,198.7 L1087,197.9 L1082,197.2 L1077,196.4 L1072,195.7 L1067,194.9 L1062,194.2 L1057,193.4 L1052,192.6 L1047,191.8 L1042,191 L1037,190.2 L1032,189.4 L1027,188.7 L1022,187.9 L1017,187.2 L1012,186.4 L1007,185.6 L1002,184.8 L997,183.9 L992,183 L987,182 L982,180.9 L977,179.7 L972,178.5 L967,177.2 L962,175.8 L957,174.3 L952,172.8 L947,171.2 L942,169.5 L937,167.8 L932,166 L927,164.3 L922,162.5 L917,160.8 L912,159.2 L907,157.6 L902,156.2 L897,154.8 L892,153.6 L887,152.5 L882,151.5 L877,150.8 L872,150.1 L867,149.6 L862,149.3 L857,149.1 L852,148.9 L847,148.8 L842,148.8 L837,148.8 L832,148.8 L827,148.8 L822,148.9 L817,148.9 L812,149 L807,149.1 L802,149.3 L797,149.4 L792,149.5 L787,149.7 L782,149.8 L777,150 L772,150.1 L767,150.3 L762,150.4 L757,150.5 L752,150.6 L747,150.7 L742,150.8 L737,151 L732,151 L727,151.1 L722,151.2 L717,151.3 L712,151.4 L707,151.4 L702,151.5 L697,151.5 L692,151.6 L687,151.6 L682,151.6 L677,151.7 L672,151.7 L667,151.7 L662,151.8 L657,151.8 L652,151.8 L647,151.8 L642,151.9 L637,151.9 L632,151.9 L627,151.9 L622,151.9Z" fill="#8A23AB"/>
<path d="M622,113.8 L627,113.8 L632,113.8 L637,113.8 L642,113.8 L647,113.8 L652,113.8 L657,113.8 L662,113.8 L667,113.7 L672,113.7 L677,113.7 L682,113.7 L687,113.7 L692,113.6 L697,113.6 L702,113.6 L707,113.5 L712,113.5 L717,113.4 L722,113.3 L727,113.2 L732,113.1 L737,112.9 L742,112.8 L747,112.7 L752,112.5 L757,112.4 L762,112.2 L767,112.1 L772,112 L777,111.8 L782,111.7 L787,111.5 L792,111.4 L797,111.3 L802,111.2 L807,111.1 L812,111 L817,110.9 L822,110.9 L827,110.9 L832,111 L837,111.1 L842,111.2 L847,111.4 L852,111.6 L857,111.8 L862,112.2 L867,112.7 L872,113.3 L877,114.1 L882,115.1 L887,116.3 L892,117.6 L897,119.2 L902,121 L907,122.9 L912,125 L917,127.2 L922,129.6 L927,132 L932,134.5 L937,137 L942,139.4 L947,141.8 L952,144.1 L957,146.3 L962,148.4 L967,150.4 L972,152.2 L977,153.9 L982,155.4 L987,156.9 L992,158.3 L997,159.6 L1002,160.8 L1007,162 L1012,163.1 L1017,164.2 L1022,165.3 L1027,166.3 L1032,167.4 L1037,168.4 L1042,169.4 L1047,170.4 L1052,171.4 L1057,172.5 L1062,173.5 L1067,174.5 L1072,175.5 L1077,176.5 L1082,177.5 L1087,178.5 L1092,179.6 L1097,180.6 L1102,181.5 L1107,182.5 L1112,183.5 L1117,184.3 L1122,185.2 L1127,185.9 L1132,186.5 L1135.5,186.9 L1135.5,203.2 L1132,202.9 L1127,202.4 L1122,201.8 L1117,201.2 L1112,200.5 L1107,199.8 L1102,199 L1097,198.3 L1092,197.5 L1087,196.8 L1082,196 L1077,195.2 L1072,194.5 L1067,193.7 L1062,192.9 L1057,192.1 L1052,191.3 L1047,190.5 L1042,189.7 L1037,188.9 L1032,188.1 L1027,187.3 L1022,186.6 L1017,185.8 L1012,185 L1007,184.2 L1002,183.3 L997,182.4 L992,181.5 L987,180.5 L982,179.4 L977,178.2 L972,176.9 L967,175.6 L962,174.1 L957,172.6 L952,171 L947,169.4 L942,167.7 L937,165.9 L932,164.1 L927,162.3 L922,160.6 L917,158.8 L912,157.1 L907,155.5 L902,154 L897,152.7 L892,151.4 L887,150.3 L882,149.3 L877,148.6 L872,147.9 L867,147.4 L862,147.1 L857,146.8 L852,146.7 L847,146.6 L842,146.5 L837,146.5 L832,146.5 L827,146.6 L822,146.6 L817,146.7 L812,146.7 L807,146.9 L802,147 L797,147.1 L792,147.3 L787,147.4 L782,147.6 L777,147.7 L772,147.8 L767,148 L762,148.1 L757,148.2 L752,148.3 L747,148.5 L742,148.6 L737,148.7 L732,148.8 L727,148.9 L722,148.9 L717,149 L712,149.1 L707,149.1 L702,149.2 L697,149.2 L692,149.3 L687,149.3 L682,149.4 L677,149.4 L672,149.4 L667,149.5 L662,149.5 L657,149.5 L652,149.5 L647,149.6 L642,149.6 L637,149.6 L632,149.6 L627,149.6 L622,149.6Z" fill="#9625A3"/>
<path d="M622,116.2 L627,116.2 L632,116.2 L637,116.2 L642,116.2 L647,116.2 L652,116.2 L657,116.2 L662,116.1 L667,116.1 L672,116.1 L677,116.1 L682,116.1 L687,116 L692,116 L697,116 L702,115.9 L707,115.9 L712,115.8 L717,115.8 L722,115.7 L727,115.6 L732,115.4 L737,115.3 L742,115.2 L747,115 L752,114.9 L757,114.8 L762,114.6 L767,114.5 L772,114.3 L777,114.2 L782,114.1 L787,113.9 L792,113.8 L797,113.7 L802,113.5 L807,113.4 L812,113.4 L817,113.3 L822,113.3 L827,113.3 L832,113.3 L837,113.4 L842,113.5 L847,113.7 L852,113.9 L857,114.2 L862,114.5 L867,115 L872,115.6 L877,116.4 L882,117.4 L887,118.5 L892,119.9 L897,121.4 L902,123.2 L907,125.1 L912,127.1 L917,129.3 L922,131.7 L927,134.1 L932,136.5 L937,138.9 L942,141.3 L947,143.7 L952,145.9 L957,148.1 L962,150.1 L967,152 L972,153.8 L977,155.5 L982,157 L987,158.5 L992,159.8 L997,161.1 L1002,162.3 L1007,163.5 L1012,164.6 L1017,165.7 L1022,166.7 L1027,167.7 L1032,168.7 L1037,169.8 L1042,170.8 L1047,171.8 L1052,172.8 L1057,173.8 L1062,174.8 L1067,175.8 L1072,176.8 L1077,177.8 L1082,178.8 L1087,179.8 L1092,180.7 L1097,181.7 L1102,182.7 L1107,183.7 L1112,184.6 L1117,185.5 L1122,186.3 L1127,187 L1132,187.6 L1135.5,188 L1135.5,202.2 L1132,201.8 L1127,201.3 L1122,200.7 L1117,200.1 L1112,199.4 L1107,198.7 L1102,197.9 L1097,197.1 L1092,196.4 L1087,195.6 L1082,194.8 L1077,194 L1072,193.3 L1067,192.5 L1062,191.7 L1057,190.9 L1052,190.1 L1047,189.2 L1042,188.4 L1037,187.6 L1032,186.8 L1027,186 L1022,185.2 L1017,184.4 L1012,183.6 L1007,182.8 L1002,181.9 L997,181 L992,180 L987,179 L982,177.8 L977,176.6 L972,175.3 L967,174 L962,172.5 L957,170.9 L952,169.3 L947,167.6 L942,165.9 L937,164.1 L932,162.2 L927,160.4 L922,158.6 L917,156.8 L912,155.1 L907,153.5 L902,151.9 L897,150.5 L892,149.3 L887,148.1 L882,147.2 L877,146.4 L872,145.7 L867,145.2 L862,144.8 L857,144.6 L852,144.4 L847,144.3 L842,144.3 L837,144.3 L832,144.3 L827,144.3 L822,144.3 L817,144.4 L812,144.5 L807,144.6 L802,144.7 L797,144.8 L792,145 L787,145.1 L782,145.3 L777,145.4 L772,145.5 L767,145.7 L762,145.8 L757,145.9 L752,146.1 L747,146.2 L742,146.3 L737,146.4 L732,146.5 L727,146.6 L722,146.7 L717,146.7 L712,146.8 L707,146.9 L702,146.9 L697,147 L692,147 L687,147 L682,147.1 L677,147.1 L672,147.1 L667,147.2 L662,147.2 L657,147.2 L652,147.3 L647,147.3 L642,147.3 L637,147.3 L632,147.3 L627,147.3 L622,147.3Z" fill="#BB3288"/>
<path d="M622,118.1 L627,118.1 L632,118.1 L637,118.1 L642,118.1 L647,118.1 L652,118.1 L657,118.1 L662,118 L667,118 L672,118 L677,118 L682,118 L687,117.9 L692,117.9 L697,117.9 L702,117.8 L707,117.8 L712,117.7 L717,117.7 L722,117.6 L727,117.5 L732,117.3 L737,117.2 L742,117.1 L747,116.9 L752,116.8 L757,116.7 L762,116.5 L767,116.4 L772,116.3 L777,116.1 L782,116 L787,115.8 L792,115.7 L797,115.6 L802,115.5 L807,115.4 L812,115.3 L817,115.2 L822,115.2 L827,115.2 L832,115.2 L837,115.3 L842,115.4 L847,115.6 L852,115.8 L857,116 L862,116.4 L867,116.9 L872,117.5 L877,118.2 L882,119.2 L887,120.3 L892,121.7 L897,123.2 L902,124.9 L907,126.8 L912,128.8 L917,131 L922,133.3 L927,135.7 L932,138.1 L937,140.5 L942,142.8 L947,145.1 L952,147.3 L957,149.5 L962,151.5 L967,153.4 L972,155.1 L977,156.8 L982,158.3 L987,159.7 L992,161.1 L997,162.3 L1002,163.5 L1007,164.7 L1012,165.8 L1017,166.8 L1022,167.8 L1027,168.8 L1032,169.9 L1037,170.8 L1042,171.8 L1047,172.8 L1052,173.8 L1057,174.8 L1062,175.8 L1067,176.8 L1072,177.8 L1077,178.8 L1082,179.7 L1087,180.7 L1092,181.7 L1097,182.7 L1102,183.6 L1107,184.6 L1112,185.5 L1117,186.4 L1122,187.2 L1127,187.9 L1132,188.5 L1135.5,188.9 L1135.5,201.3 L1132,200.9 L1127,200.5 L1122,199.9 L1117,199.2 L1112,198.5 L1107,197.7 L1102,197 L1097,196.2 L1092,195.4 L1087,194.6 L1082,193.8 L1077,193 L1072,192.2 L1067,191.4 L1062,190.6 L1057,189.8 L1052,189 L1047,188.2 L1042,187.3 L1037,186.5 L1032,185.7 L1027,184.9 L1022,184.1 L1017,183.3 L1012,182.4 L1007,181.6 L1002,180.7 L997,179.8 L992,178.8 L987,177.7 L982,176.6 L977,175.3 L972,174 L967,172.6 L962,171.1 L957,169.5 L952,167.9 L947,166.2 L942,164.4 L937,162.5 L932,160.7 L927,158.8 L922,156.9 L917,155.1 L912,153.4 L907,151.7 L902,150.2 L897,148.7 L892,147.5 L887,146.3 L882,145.3 L877,144.5 L872,143.9 L867,143.4 L862,143 L857,142.7 L852,142.6 L847,142.5 L842,142.4 L837,142.4 L832,142.4 L827,142.4 L822,142.4 L817,142.5 L812,142.6 L807,142.7 L802,142.8 L797,142.9 L792,143 L787,143.2 L782,143.3 L777,143.5 L772,143.6 L767,143.8 L762,143.9 L757,144 L752,144.1 L747,144.3 L742,144.4 L737,144.5 L732,144.6 L727,144.7 L722,144.8 L717,144.8 L712,144.9 L707,145 L702,145 L697,145.1 L692,145.1 L687,145.1 L682,145.2 L677,145.2 L672,145.2 L667,145.3 L662,145.3 L657,145.3 L652,145.3 L647,145.4 L642,145.4 L637,145.4 L632,145.4 L627,145.4 L622,145.4Z" fill="#D2507A"/>
<path d="M622,120 L627,120 L632,120 L637,120 L642,120 L647,120 L652,120 L657,120 L662,120 L667,119.9 L672,119.9 L677,119.9 L682,119.9 L687,119.8 L692,119.8 L697,119.8 L702,119.7 L707,119.7 L712,119.6 L717,119.6 L722,119.5 L727,119.4 L732,119.3 L737,119.1 L742,119 L747,118.9 L752,118.7 L757,118.6 L762,118.5 L767,118.3 L772,118.2 L777,118 L782,117.9 L787,117.8 L792,117.6 L797,117.5 L802,117.4 L807,117.3 L812,117.2 L817,117.1 L822,117.1 L827,117.1 L832,117.1 L837,117.2 L842,117.3 L847,117.5 L852,117.6 L857,117.9 L862,118.3 L867,118.7 L872,119.3 L877,120.1 L882,121 L887,122.2 L892,123.5 L897,125 L902,126.7 L907,128.6 L912,130.6 L917,132.7 L922,135 L927,137.3 L932,139.7 L937,142 L942,144.3 L947,146.6 L952,148.8 L957,150.9 L962,152.9 L967,154.7 L972,156.5 L977,158.1 L982,159.6 L987,161 L992,162.3 L997,163.6 L1002,164.7 L1007,165.8 L1012,166.9 L1017,168 L1022,169 L1027,170 L1032,171 L1037,171.9 L1042,172.9 L1047,173.9 L1052,174.9 L1057,175.9 L1062,176.8 L1067,177.8 L1072,178.8 L1077,179.8 L1082,180.7 L1087,181.7 L1092,182.7 L1097,183.6 L1102,184.6 L1107,185.5 L1112,186.4 L1117,187.3 L1122,188.1 L1127,188.8 L1132,189.3 L1135.5,189.8 L1135.5,200.5 L1132,200.1 L1127,199.6 L1122,199 L1117,198.3 L1112,197.6 L1107,196.8 L1102,196 L1097,195.3 L1092,194.5 L1087,193.7 L1082,192.9 L1077,192 L1072,191.2 L1067,190.4 L1062,189.6 L1057,188.8 L1052,187.9 L1047,187.1 L1042,186.2 L1037,185.4 L1032,184.6 L1027,183.7 L1022,182.9 L1017,182.1 L1012,181.3 L1007,180.4 L1002,179.5 L997,178.5 L992,177.5 L987,176.4 L982,175.3 L977,174 L972,172.7 L967,171.3 L962,169.7 L957,168.1 L952,166.5 L947,164.7 L942,162.9 L937,161 L932,159.1 L927,157.2 L922,155.3 L917,153.4 L912,151.7 L907,150 L902,148.4 L897,147 L892,145.7 L887,144.5 L882,143.5 L877,142.7 L872,142 L867,141.5 L862,141.1 L857,140.9 L852,140.7 L847,140.6 L842,140.5 L837,140.5 L832,140.5 L827,140.5 L822,140.5 L817,140.6 L812,140.6 L807,140.7 L802,140.9 L797,141 L792,141.1 L787,141.3 L782,141.4 L777,141.6 L772,141.7 L767,141.9 L762,142 L757,142.1 L752,142.2 L747,142.3 L742,142.5 L737,142.6 L732,142.7 L727,142.8 L722,142.9 L717,142.9 L712,143 L707,143.1 L702,143.1 L697,143.2 L692,143.2 L687,143.2 L682,143.3 L677,143.3 L672,143.3 L667,143.4 L662,143.4 L657,143.4 L652,143.4 L647,143.5 L642,143.5 L637,143.5 L632,143.5 L627,143.5 L622,143.5Z" fill="#E8705C"/>
<path d="M622,122.4 L627,122.4 L632,122.4 L637,122.4 L642,122.4 L647,122.4 L652,122.4 L657,122.3 L662,122.3 L667,122.3 L672,122.3 L677,122.3 L682,122.2 L687,122.2 L692,122.2 L697,122.1 L702,122.1 L707,122.1 L712,122 L717,121.9 L722,121.8 L727,121.7 L732,121.6 L737,121.5 L742,121.4 L747,121.2 L752,121.1 L757,121 L762,120.8 L767,120.7 L772,120.6 L777,120.4 L782,120.3 L787,120.1 L792,120 L797,119.9 L802,119.7 L807,119.6 L812,119.6 L817,119.5 L822,119.5 L827,119.5 L832,119.5 L837,119.6 L842,119.7 L847,119.8 L852,120 L857,120.2 L862,120.6 L867,121 L872,121.6 L877,122.4 L882,123.3 L887,124.4 L892,125.7 L897,127.2 L902,128.9 L907,130.7 L912,132.7 L917,134.8 L922,137 L927,139.3 L932,141.6 L937,143.9 L942,146.2 L947,148.4 L952,150.6 L957,152.6 L962,154.6 L967,156.4 L972,158.1 L977,159.7 L982,161.2 L987,162.6 L992,163.9 L997,165.1 L1002,166.2 L1007,167.3 L1012,168.4 L1017,169.4 L1022,170.4 L1027,171.4 L1032,172.3 L1037,173.3 L1042,174.3 L1047,175.2 L1052,176.2 L1057,177.2 L1062,178.1 L1067,179.1 L1072,180.1 L1077,181 L1082,182 L1087,182.9 L1092,183.9 L1097,184.8 L1102,185.7 L1107,186.6 L1112,187.5 L1117,188.4 L1122,189.2 L1127,189.8 L1132,190.4 L1135.5,190.9 L1135.5,199.5 L1132,199.1 L1127,198.6 L1122,198 L1117,197.3 L1112,196.6 L1107,195.8 L1102,195 L1097,194.2 L1092,193.4 L1087,192.6 L1082,191.8 L1077,191 L1072,190.1 L1067,189.3 L1062,188.5 L1057,187.6 L1052,186.8 L1047,185.9 L1042,185.1 L1037,184.2 L1032,183.4 L1027,182.5 L1022,181.7 L1017,180.8 L1012,180 L1007,179.1 L1002,178.2 L997,177.2 L992,176.2 L987,175.1 L982,173.9 L977,172.6 L972,171.2 L967,169.8 L962,168.2 L957,166.6 L952,164.9 L947,163.1 L942,161.2 L937,159.3 L932,157.4 L927,155.4 L922,153.5 L917,151.6 L912,149.8 L907,148.1 L902,146.5 L897,145 L892,143.7 L887,142.5 L882,141.5 L877,140.7 L872,140 L867,139.5 L862,139.1 L857,138.8 L852,138.6 L847,138.5 L842,138.4 L837,138.4 L832,138.4 L827,138.4 L822,138.4 L817,138.5 L812,138.5 L807,138.6 L802,138.8 L797,138.9 L792,139 L787,139.2 L782,139.3 L777,139.5 L772,139.6 L767,139.8 L762,139.9 L757,140 L752,140.1 L747,140.2 L742,140.4 L737,140.5 L732,140.6 L727,140.7 L722,140.8 L717,140.9 L712,140.9 L707,141 L702,141 L697,141.1 L692,141.1 L687,141.1 L682,141.2 L677,141.2 L672,141.2 L667,141.3 L662,141.3 L657,141.3 L652,141.3 L647,141.4 L642,141.4 L637,141.4 L632,141.4 L627,141.4 L622,141.4Z" fill="#F68A44"/>
<path d="M622,124.8 L627,124.8 L632,124.8 L637,124.8 L642,124.8 L647,124.8 L652,124.7 L657,124.7 L662,124.7 L667,124.7 L672,124.7 L677,124.6 L682,124.6 L687,124.6 L692,124.6 L697,124.5 L702,124.5 L707,124.4 L712,124.4 L717,124.3 L722,124.2 L727,124.1 L732,124 L737,123.9 L742,123.8 L747,123.6 L752,123.5 L757,123.4 L762,123.2 L767,123.1 L772,122.9 L777,122.8 L782,122.7 L787,122.5 L792,122.4 L797,122.2 L802,122.1 L807,122 L812,121.9 L817,121.9 L822,121.8 L827,121.8 L832,121.9 L837,121.9 L842,122 L847,122.1 L852,122.3 L857,122.6 L862,122.9 L867,123.3 L872,123.9 L877,124.7 L882,125.6 L887,126.7 L892,128 L897,129.5 L902,131.1 L907,132.9 L912,134.8 L917,136.9 L922,139.1 L927,141.3 L932,143.6 L937,145.9 L942,148.1 L947,150.3 L952,152.4 L957,154.4 L962,156.3 L967,158.1 L972,159.7 L977,161.3 L982,162.8 L987,164.1 L992,165.4 L997,166.6 L1002,167.7 L1007,168.8 L1012,169.8 L1017,170.8 L1022,171.8 L1027,172.8 L1032,173.7 L1037,174.7 L1042,175.6 L1047,176.6 L1052,177.5 L1057,178.5 L1062,179.4 L1067,180.4 L1072,181.3 L1077,182.3 L1082,183.2 L1087,184.1 L1092,185.1 L1097,186 L1102,186.9 L1107,187.8 L1112,188.7 L1117,189.5 L1122,190.3 L1127,190.9 L1132,191.5 L1135.5,191.9 L1135.5,198.6 L1132,198.2 L1127,197.6 L1122,197 L1117,196.3 L1112,195.6 L1107,194.8 L1102,194 L1097,193.2 L1092,192.4 L1087,191.5 L1082,190.7 L1077,189.9 L1072,189 L1067,188.2 L1062,187.3 L1057,186.5 L1052,185.6 L1047,184.7 L1042,183.9 L1037,183 L1032,182.1 L1027,181.3 L1022,180.4 L1017,179.6 L1012,178.7 L1007,177.8 L1002,176.9 L997,175.9 L992,174.8 L987,173.7 L982,172.5 L977,171.2 L972,169.8 L967,168.3 L962,166.7 L957,165.1 L952,163.3 L947,161.5 L942,159.6 L937,157.6 L932,155.6 L927,153.6 L922,151.6 L917,149.7 L912,147.9 L907,146.1 L902,144.5 L897,143 L892,141.7 L887,140.5 L882,139.5 L877,138.6 L872,138 L867,137.4 L862,137 L857,136.8 L852,136.6 L847,136.4 L842,136.4 L837,136.3 L832,136.3 L827,136.3 L822,136.3 L817,136.4 L812,136.5 L807,136.5 L802,136.7 L797,136.8 L792,136.9 L787,137.1 L782,137.2 L777,137.4 L772,137.5 L767,137.6 L762,137.8 L757,137.9 L752,138 L747,138.2 L742,138.3 L737,138.4 L732,138.5 L727,138.6 L722,138.7 L717,138.8 L712,138.8 L707,138.9 L702,138.9 L697,139 L692,139 L687,139.1 L682,139.1 L677,139.1 L672,139.2 L667,139.2 L662,139.2 L657,139.2 L652,139.2 L647,139.3 L642,139.3 L637,139.3 L632,139.3 L627,139.3 L622,139.3Z" fill="#FDB02F"/>
<path d="M622,127.3 L627,127.3 L632,127.3 L637,127.3 L642,127.3 L647,127.3 L652,127.2 L657,127.2 L662,127.2 L667,127.2 L672,127.2 L677,127.1 L682,127.1 L687,127.1 L692,127 L697,127 L702,127 L707,126.9 L712,126.9 L717,126.8 L722,126.7 L727,126.6 L732,126.5 L737,126.4 L742,126.3 L747,126.1 L752,126 L757,125.9 L762,125.7 L767,125.6 L772,125.5 L777,125.3 L782,125.2 L787,125 L792,124.9 L797,124.8 L802,124.6 L807,124.5 L812,124.4 L817,124.4 L822,124.3 L827,124.3 L832,124.4 L837,124.4 L842,124.5 L847,124.6 L852,124.8 L857,125 L862,125.3 L867,125.8 L872,126.3 L877,127.1 L882,128 L887,129.1 L892,130.3 L897,131.8 L902,133.4 L907,135.2 L912,137.1 L917,139.1 L922,141.2 L927,143.4 L932,145.7 L937,147.9 L942,150.1 L947,152.2 L952,154.2 L957,156.2 L962,158.1 L967,159.8 L972,161.5 L977,163 L982,164.4 L987,165.8 L992,167 L997,168.2 L1002,169.3 L1007,170.4 L1012,171.4 L1017,172.3 L1022,173.3 L1027,174.2 L1032,175.2 L1037,176.1 L1042,177 L1047,178 L1052,178.9 L1057,179.9 L1062,180.8 L1067,181.7 L1072,182.6 L1077,183.6 L1082,184.5 L1087,185.4 L1092,186.3 L1097,187.2 L1102,188.1 L1107,189 L1112,189.9 L1117,190.7 L1122,191.4 L1127,192.1 L1132,192.7 L1135.5,193.1 L1135.5,197.2 L1132,196.8 L1127,196.3 L1122,195.7 L1117,195 L1112,194.2 L1107,193.4 L1102,192.6 L1097,191.7 L1092,190.9 L1087,190.1 L1082,189.2 L1077,188.3 L1072,187.5 L1067,186.6 L1062,185.8 L1057,184.9 L1052,184 L1047,183.1 L1042,182.2 L1037,181.4 L1032,180.5 L1027,179.6 L1022,178.7 L1017,177.8 L1012,176.9 L1007,176 L1002,175.1 L997,174 L992,172.9 L987,171.8 L982,170.5 L977,169.2 L972,167.8 L967,166.3 L962,164.7 L957,162.9 L952,161.1 L947,159.2 L942,157.3 L937,155.3 L932,153.2 L927,151.2 L922,149.2 L917,147.2 L912,145.3 L907,143.5 L902,141.9 L897,140.3 L892,139 L887,137.8 L882,136.7 L877,135.9 L872,135.2 L867,134.6 L862,134.2 L857,133.9 L852,133.7 L847,133.6 L842,133.5 L837,133.5 L832,133.4 L827,133.4 L822,133.5 L817,133.5 L812,133.6 L807,133.7 L802,133.8 L797,133.9 L792,134 L787,134.2 L782,134.3 L777,134.5 L772,134.6 L767,134.8 L762,134.9 L757,135 L752,135.1 L747,135.3 L742,135.4 L737,135.5 L732,135.6 L727,135.7 L722,135.8 L717,135.9 L712,136 L707,136 L702,136.1 L697,136.1 L692,136.2 L687,136.2 L682,136.2 L677,136.2 L672,136.3 L667,136.3 L662,136.3 L657,136.3 L652,136.4 L647,136.4 L642,136.4 L637,136.4 L632,136.4 L627,136.4 L622,136.4Z" fill="#FDBC2A"/>
<path d="M622,129.8 L627,129.8 L632,129.8 L637,129.8 L642,129.8 L647,129.8 L652,129.7 L657,129.7 L662,129.7 L667,129.7 L672,129.7 L677,129.6 L682,129.6 L687,129.6 L692,129.5 L697,129.5 L702,129.5 L707,129.4 L712,129.4 L717,129.3 L722,129.2 L727,129.1 L732,129 L737,128.9 L742,128.8 L747,128.6 L752,128.5 L757,128.4 L762,128.2 L767,128.1 L772,128 L777,127.8 L782,127.7 L787,127.5 L792,127.4 L797,127.3 L802,127.1 L807,127 L812,126.9 L817,126.9 L822,126.8 L827,126.8 L832,126.8 L837,126.9 L842,127 L847,127.1 L852,127.2 L857,127.5 L862,127.8 L867,128.2 L872,128.8 L877,129.5 L882,130.4 L887,131.5 L892,132.7 L897,134.1 L902,135.7 L907,137.5 L912,139.3 L917,141.3 L922,143.4 L927,145.6 L932,147.7 L937,149.9 L942,152 L947,154.1 L952,156.1 L957,158.1 L962,159.9 L967,161.6 L972,163.2 L977,164.7 L982,166.1 L987,167.4 L992,168.6 L997,169.8 L1002,170.9 L1007,171.9 L1012,172.9 L1017,173.8 L1022,174.8 L1027,175.7 L1032,176.6 L1037,177.5 L1042,178.5 L1047,179.4 L1052,180.3 L1057,181.2 L1062,182.1 L1067,183.1 L1072,184 L1077,184.9 L1082,185.8 L1087,186.7 L1092,187.6 L1097,188.5 L1102,189.3 L1107,190.2 L1112,191 L1117,191.8 L1122,192.6 L1127,193.3 L1132,193.8 L1135.5,194.2 L1135.5,195.9 L1132,195.5 L1127,195 L1122,194.3 L1117,193.6 L1112,192.8 L1107,192 L1102,191.2 L1097,190.3 L1092,189.5 L1087,188.6 L1082,187.7 L1077,186.8 L1072,186 L1067,185.1 L1062,184.2 L1057,183.3 L1052,182.4 L1047,181.5 L1042,180.6 L1037,179.7 L1032,178.8 L1027,177.9 L1022,177 L1017,176.1 L1012,175.2 L1007,174.2 L1002,173.2 L997,172.2 L992,171.1 L987,169.9 L982,168.6 L977,167.3 L972,165.8 L967,164.3 L962,162.6 L957,160.8 L952,159 L947,157 L942,155 L937,152.9 L932,150.8 L927,148.7 L922,146.7 L917,144.6 L912,142.7 L907,140.9 L902,139.2 L897,137.7 L892,136.3 L887,135 L882,134 L877,133.1 L872,132.4 L867,131.8 L862,131.4 L857,131.1 L852,130.9 L847,130.8 L842,130.7 L837,130.6 L832,130.6 L827,130.6 L822,130.6 L817,130.6 L812,130.7 L807,130.8 L802,130.9 L797,131 L792,131.2 L787,131.3 L782,131.5 L777,131.6 L772,131.7 L767,131.9 L762,132 L757,132.1 L752,132.3 L747,132.4 L742,132.5 L737,132.6 L732,132.7 L727,132.9 L722,132.9 L717,133 L712,133.1 L707,133.2 L702,133.2 L697,133.2 L692,133.3 L687,133.3 L682,133.3 L677,133.4 L672,133.4 L667,133.4 L662,133.5 L657,133.5 L652,133.5 L647,133.5 L642,133.5 L637,133.5 L632,133.5 L627,133.5 L622,133.6Z" fill="#EEFA1F"/>
</g>
<rect x="624.8" y="54.4" width="513.4" height="285.6" fill="none" stroke="#3a3a3a" stroke-width="1.65"/>
<g clip-path="url(#c10)">
<line x1="175" x2="175" y1="357.1" y2="642.0" stroke="#EAEAEA" stroke-width="0.75"/>
<line x1="292" x2="292" y1="357.1" y2="642.0" stroke="#EAEAEA" stroke-width="0.75"/>
<line x1="409" x2="409" y1="357.1" y2="642.0" stroke="#EAEAEA" stroke-width="0.75"/>
<line x1="526" x2="526" y1="357.1" y2="642.0" stroke="#EAEAEA" stroke-width="0.75"/>
<line x1="94.0" x2="607.3" y1="579.35" y2="579.35" stroke="#EAEAEA" stroke-width="0.75"/>
<line x1="94.0" x2="607.3" y1="515.65" y2="515.65" stroke="#EAEAEA" stroke-width="0.75"/>
<line x1="94.0" x2="607.3" y1="451.95" y2="451.95" stroke="#EAEAEA" stroke-width="0.75"/>
<line x1="94.0" x2="607.3" y1="388.25" y2="388.25" stroke="#EAEAEA" stroke-width="0.75"/>
<line x1="116.5" x2="116.5" y1="357.1" y2="642.0" stroke="#EAEAEA" stroke-width="1.1"/>
<line x1="233.5" x2="233.5" y1="357.1" y2="642.0" stroke="#EAEAEA" stroke-width="1.1"/>
<line x1="350.5" x2="350.5" y1="357.1" y2="642.0" stroke="#EAEAEA" stroke-width="1.1"/>
<line x1="467.5" x2="467.5" y1="357.1" y2="642.0" stroke="#EAEAEA" stroke-width="1.1"/>
<line x1="584.5" x2="584.5" y1="357.1" y2="642.0" stroke="#EAEAEA" stroke-width="1.1"/>
<line x1="94.0" x2="607.3" y1="611.2" y2="611.2" stroke="#EAEAEA" stroke-width="1.1"/>
<line x1="94.0" x2="607.3" y1="547.5" y2="547.5" stroke="#EAEAEA" stroke-width="1.1"/>
<line x1="94.0" x2="607.3" y1="483.8" y2="483.8" stroke="#EAEAEA" stroke-width="1.1"/>
<line x1="94.0" x2="607.3" y1="420.1" y2="420.1" stroke="#EAEAEA" stroke-width="1.1"/>
<line x1="350.7" x2="350.7" y1="641.45" y2="354.1" stroke="#000" stroke-width="2.9" stroke-linecap="round" stroke-dasharray="0 10.245"/>
<line x1="94.6" x2="610.3" y1="547.5" y2="547.5" stroke="#000" stroke-width="2.9" stroke-linecap="round" stroke-dasharray="0 10.245"/>
<path d="M92,447.1 L97,447.1 L102,447.2 L107,447.2 L112,447.3 L117,447.3 L122,447.4 L127,447.4 L132,447.5 L137,447.5 L142,447.6 L147,447.6 L152,447.6 L157,447.6 L162,447.7 L167,447.7 L172,447.7 L177,447.7 L182,447.7 L187,447.7 L192,447.7 L197,447.6 L202,447.6 L207,447.6 L212,447.6 L217,447.5 L222,447.5 L227,447.4 L232,447.4 L237,447.3 L242,447.3 L247,447.2 L252,447.1 L257,447.1 L262,447 L267,446.9 L272,446.8 L277,446.8 L282,446.7 L287,446.7 L292,446.7 L297,446.8 L302,447 L307,447.1 L312,447.4 L317,447.7 L322,448 L327,448.5 L332,449 L337,449.6 L342,450.3 L347,451.1 L352,452.1 L357,453.2 L362,454.4 L367,455.8 L372,457.3 L377,458.8 L382,460.5 L387,462.2 L392,464 L397,465.8 L402,467.7 L407,469.6 L412,471.5 L417,473.3 L422,475.2 L427,477 L432,478.8 L437,480.5 L442,482.2 L447,483.8 L452,485.3 L457,486.8 L462,488.2 L467,489.5 L472,490.8 L477,492 L482,493.1 L487,494.3 L492,495.4 L497,496.5 L502,497.6 L507,498.7 L512,499.8 L517,500.9 L522,502 L527,503 L532,504 L537,505 L542,505.9 L547,506.9 L552,507.8 L557,508.7 L562,509.6 L567,510.6 L572,511.5 L577,512.3 L582,513.2 L587,514 L592,514.7 L597,515.3 L602,515.8 L605,516.2 L605,535.4 L602,535.2 L597,534.9 L592,534.6 L587,534.3 L582,533.9 L577,533.6 L572,533.2 L567,532.8 L562,532.5 L557,532.1 L552,531.8 L547,531.5 L542,531.2 L537,530.9 L532,530.6 L527,530.3 L522,529.9 L517,529.6 L512,529.2 L507,528.9 L502,528.5 L497,528.1 L492,527.7 L487,527.4 L482,527 L477,526.6 L472,526.2 L467,525.8 L462,525.4 L457,525 L452,524.5 L447,524.1 L442,523.6 L437,523 L432,522.4 L427,521.8 L422,521.2 L417,520.5 L412,519.8 L407,519.1 L402,518.3 L397,517.6 L392,516.9 L387,516.2 L382,515.5 L377,514.8 L372,514.2 L367,513.6 L362,513 L357,512.5 L352,512 L347,511.5 L342,511.1 L337,510.8 L332,510.5 L327,510.3 L322,510.2 L317,510 L312,510 L307,509.9 L302,509.9 L297,509.8 L292,509.8 L287,509.8 L282,509.8 L277,509.9 L272,509.9 L267,509.9 L262,510 L257,510 L252,510 L247,510.1 L242,510.1 L237,510.2 L232,510.2 L227,510.3 L222,510.3 L217,510.3 L212,510.4 L207,510.4 L202,510.5 L197,510.5 L192,510.5 L187,510.6 L182,510.6 L177,510.6 L172,510.6 L167,510.6 L162,510.6 L157,510.6 L152,510.6 L147,510.6 L142,510.6 L137,510.6 L132,510.6 L127,510.6 L122,510.6 L117,510.6 L112,510.6 L107,510.6 L102,510.6 L97,510.6 L92,510.6Z" fill="#0B1486"/>
<path d="M92,452.2 L97,452.3 L102,452.3 L107,452.4 L112,452.4 L117,452.5 L122,452.5 L127,452.6 L132,452.6 L137,452.6 L142,452.7 L147,452.7 L152,452.7 L157,452.7 L162,452.8 L167,452.8 L172,452.8 L177,452.8 L182,452.8 L187,452.8 L192,452.7 L197,452.7 L202,452.7 L207,452.7 L212,452.6 L217,452.6 L222,452.6 L227,452.5 L232,452.5 L237,452.4 L242,452.4 L247,452.3 L252,452.2 L257,452.2 L262,452.1 L267,452 L272,451.9 L277,451.9 L282,451.8 L287,451.8 L292,451.9 L297,451.9 L302,452.1 L307,452.2 L312,452.5 L317,452.7 L322,453.1 L327,453.5 L332,454 L337,454.5 L342,455.2 L347,456 L352,456.9 L357,458 L362,459.1 L367,460.5 L372,461.9 L377,463.4 L382,464.9 L387,466.6 L392,468.3 L397,470 L402,471.8 L407,473.6 L412,475.4 L417,477.2 L422,478.9 L427,480.7 L432,482.4 L437,484 L442,485.6 L447,487.1 L452,488.5 L457,489.9 L462,491.2 L467,492.5 L472,493.6 L477,494.8 L482,495.9 L487,497 L492,498 L497,499.1 L502,500.1 L507,501.2 L512,502.2 L517,503.2 L522,504.2 L527,505.2 L532,506.1 L537,507.1 L542,508 L547,508.8 L552,509.7 L557,510.6 L562,511.5 L567,512.4 L572,513.2 L577,514.1 L582,514.9 L587,515.6 L592,516.3 L597,516.9 L602,517.4 L605,517.7 L605,534.2 L602,534 L597,533.8 L592,533.4 L587,533.1 L582,532.7 L577,532.3 L572,531.9 L567,531.5 L562,531.1 L557,530.7 L552,530.4 L547,530 L542,529.7 L537,529.3 L532,529 L527,528.6 L522,528.3 L517,527.9 L512,527.5 L507,527 L502,526.6 L497,526.2 L492,525.8 L487,525.4 L482,524.9 L477,524.5 L472,524.1 L467,523.6 L462,523.2 L457,522.7 L452,522.2 L447,521.6 L442,521.1 L437,520.5 L432,519.8 L427,519.1 L422,518.4 L417,517.7 L412,516.9 L407,516.1 L402,515.3 L397,514.5 L392,513.7 L387,512.9 L382,512.2 L377,511.4 L372,510.7 L367,510.1 L362,509.5 L357,508.9 L352,508.4 L347,507.9 L342,507.5 L337,507.1 L332,506.8 L327,506.6 L322,506.4 L317,506.3 L312,506.2 L307,506.1 L302,506.1 L297,506.1 L292,506.1 L287,506 L282,506.1 L277,506.1 L272,506.1 L267,506.1 L262,506.2 L257,506.2 L252,506.3 L247,506.3 L242,506.4 L237,506.4 L232,506.4 L227,506.5 L222,506.5 L217,506.6 L212,506.6 L207,506.7 L202,506.7 L197,506.7 L192,506.8 L187,506.8 L182,506.8 L177,506.8 L172,506.8 L167,506.8 L162,506.8 L157,506.8 L152,506.8 L147,506.8 L142,506.8 L137,506.8 L132,506.8 L127,506.8 L122,506.8 L117,506.8 L112,506.8 L107,506.8 L102,506.8 L97,506.8 L92,506.8Z" fill="#511DA4"/>
<path d="M92,455.2 L97,455.2 L102,455.3 L107,455.3 L112,455.4 L117,455.4 L122,455.5 L127,455.5 L132,455.5 L137,455.6 L142,455.6 L147,455.6 L152,455.7 L157,455.7 L162,455.7 L167,455.7 L172,455.7 L177,455.7 L182,455.7 L187,455.7 L192,455.7 L197,455.7 L202,455.6 L207,455.6 L212,455.6 L217,455.5 L222,455.5 L227,455.5 L232,455.4 L237,455.4 L242,455.3 L247,455.2 L252,455.2 L257,455.1 L262,455 L267,454.9 L272,454.9 L277,454.8 L282,454.8 L287,454.8 L292,454.8 L297,454.9 L302,455 L307,455.1 L312,455.4 L317,455.6 L322,456 L327,456.4 L332,456.8 L337,457.4 L342,458 L347,458.8 L352,459.7 L357,460.7 L362,461.9 L367,463.1 L372,464.5 L377,466 L382,467.5 L387,469.1 L392,470.7 L397,472.4 L402,474.2 L407,475.9 L412,477.6 L417,479.4 L422,481.1 L427,482.7 L432,484.4 L437,486 L442,487.5 L447,488.9 L452,490.3 L457,491.7 L462,492.9 L467,494.1 L472,495.3 L477,496.4 L482,497.5 L487,498.5 L492,499.5 L497,500.5 L502,501.6 L507,502.6 L512,503.6 L517,504.6 L522,505.5 L527,506.5 L532,507.4 L537,508.3 L542,509.1 L547,510 L552,510.8 L557,511.7 L562,512.5 L567,513.4 L572,514.2 L577,515.1 L582,515.8 L587,516.6 L592,517.2 L597,517.8 L602,518.3 L605,518.6 L605,533.4 L602,533.2 L597,532.9 L592,532.6 L587,532.2 L582,531.8 L577,531.4 L572,530.9 L567,530.5 L562,530.1 L557,529.7 L552,529.3 L547,528.9 L542,528.6 L537,528.2 L532,527.8 L527,527.4 L522,527 L517,526.6 L512,526.2 L507,525.7 L502,525.3 L497,524.8 L492,524.4 L487,523.9 L482,523.5 L477,523 L472,522.5 L467,522.1 L462,521.6 L457,521 L452,520.5 L447,519.9 L442,519.3 L437,518.6 L432,517.9 L427,517.2 L422,516.4 L417,515.6 L412,514.8 L407,514 L402,513.1 L397,512.2 L392,511.4 L387,510.6 L382,509.8 L377,509 L372,508.3 L367,507.6 L362,506.9 L357,506.3 L352,505.8 L347,505.3 L342,504.8 L337,504.5 L332,504.2 L327,503.9 L322,503.7 L317,503.6 L312,503.5 L307,503.4 L302,503.4 L297,503.3 L292,503.3 L287,503.3 L282,503.3 L277,503.3 L272,503.4 L267,503.4 L262,503.4 L257,503.5 L252,503.5 L247,503.6 L242,503.6 L237,503.7 L232,503.7 L227,503.8 L222,503.8 L217,503.8 L212,503.9 L207,503.9 L202,504 L197,504 L192,504 L187,504 L182,504.1 L177,504.1 L172,504.1 L167,504.1 L162,504.1 L157,504.1 L152,504.1 L147,504.1 L142,504.1 L137,504.1 L132,504.1 L127,504.1 L122,504.1 L117,504.1 L112,504 L107,504 L102,504 L97,504 L92,504Z" fill="#5B20A8"/>
<path d="M92,458.1 L97,458.2 L102,458.2 L107,458.2 L112,458.3 L117,458.3 L122,458.4 L127,458.4 L132,458.5 L137,458.5 L142,458.5 L147,458.6 L152,458.6 L157,458.6 L162,458.6 L167,458.6 L172,458.6 L177,458.6 L182,458.6 L187,458.6 L192,458.6 L197,458.6 L202,458.5 L207,458.5 L212,458.5 L217,458.5 L222,458.4 L227,458.4 L232,458.3 L237,458.3 L242,458.2 L247,458.2 L252,458.1 L257,458 L262,457.9 L267,457.9 L272,457.8 L277,457.7 L282,457.7 L287,457.7 L292,457.7 L297,457.8 L302,457.9 L307,458.1 L312,458.3 L317,458.5 L322,458.9 L327,459.2 L332,459.7 L337,460.2 L342,460.9 L347,461.6 L352,462.5 L357,463.5 L362,464.6 L367,465.8 L372,467.2 L377,468.6 L382,470 L387,471.6 L392,473.2 L397,474.8 L402,476.5 L407,478.2 L412,479.9 L417,481.6 L422,483.2 L427,484.8 L432,486.4 L437,487.9 L442,489.4 L447,490.8 L452,492.2 L457,493.4 L462,494.7 L467,495.8 L472,496.9 L477,498 L482,499 L487,500 L492,501 L497,502 L502,503 L507,504 L512,504.9 L517,505.9 L522,506.8 L527,507.7 L532,508.6 L537,509.5 L542,510.3 L547,511.1 L552,512 L557,512.8 L562,513.6 L567,514.4 L572,515.2 L577,516 L582,516.8 L587,517.5 L592,518.2 L597,518.7 L602,519.2 L605,519.5 L605,532.6 L602,532.4 L597,532.1 L592,531.7 L587,531.3 L582,530.9 L577,530.4 L572,530 L567,529.5 L562,529.1 L557,528.7 L552,528.3 L547,527.9 L542,527.5 L537,527.1 L532,526.7 L527,526.3 L522,525.8 L517,525.4 L512,524.9 L507,524.4 L502,523.9 L497,523.5 L492,523 L487,522.5 L482,522 L477,521.5 L472,521 L467,520.5 L462,519.9 L457,519.4 L452,518.8 L447,518.1 L442,517.5 L437,516.8 L432,516 L427,515.2 L422,514.4 L417,513.6 L412,512.7 L407,511.8 L402,510.9 L397,510 L392,509.1 L387,508.2 L382,507.4 L377,506.6 L372,505.8 L367,505.1 L362,504.4 L357,503.8 L352,503.2 L347,502.6 L342,502.2 L337,501.8 L332,501.5 L327,501.2 L322,501 L317,500.9 L312,500.8 L307,500.7 L302,500.6 L297,500.6 L292,500.6 L287,500.6 L282,500.6 L277,500.6 L272,500.6 L267,500.7 L262,500.7 L257,500.8 L252,500.8 L247,500.8 L242,500.9 L237,500.9 L232,501 L227,501 L222,501.1 L217,501.1 L212,501.2 L207,501.2 L202,501.2 L197,501.3 L192,501.3 L187,501.3 L182,501.3 L177,501.3 L172,501.3 L167,501.3 L162,501.3 L157,501.3 L152,501.3 L147,501.3 L142,501.3 L137,501.3 L132,501.3 L127,501.3 L122,501.3 L117,501.3 L112,501.3 L107,501.3 L102,501.3 L97,501.3 L92,501.3Z" fill="#8A23AB"/>
<path d="M92,460.3 L97,460.3 L102,460.4 L107,460.4 L112,460.5 L117,460.5 L122,460.6 L127,460.6 L132,460.6 L137,460.7 L142,460.7 L147,460.7 L152,460.8 L157,460.8 L162,460.8 L167,460.8 L172,460.8 L177,460.8 L182,460.8 L187,460.8 L192,460.8 L197,460.7 L202,460.7 L207,460.7 L212,460.7 L217,460.6 L222,460.6 L227,460.5 L232,460.5 L237,460.4 L242,460.4 L247,460.3 L252,460.3 L257,460.2 L262,460.1 L267,460 L272,460 L277,459.9 L282,459.9 L287,459.9 L292,459.9 L297,460 L302,460.1 L307,460.2 L312,460.4 L317,460.7 L322,461 L327,461.4 L332,461.8 L337,462.3 L342,463 L347,463.7 L352,464.5 L357,465.5 L362,466.6 L367,467.8 L372,469.1 L377,470.5 L382,471.9 L387,473.5 L392,475 L397,476.6 L402,478.3 L407,479.9 L412,481.5 L417,483.2 L422,484.8 L427,486.4 L432,487.9 L437,489.4 L442,490.8 L447,492.2 L452,493.5 L457,494.8 L462,495.9 L467,497.1 L472,498.2 L477,499.2 L482,500.2 L487,501.2 L492,502.1 L497,503.1 L502,504.1 L507,505 L512,506 L517,506.9 L522,507.8 L527,508.7 L532,509.5 L537,510.4 L542,511.2 L547,512 L552,512.8 L557,513.6 L562,514.4 L567,515.2 L572,516 L577,516.8 L582,517.5 L587,518.2 L592,518.8 L597,519.4 L602,519.8 L605,520.2 L605,531.9 L602,531.6 L597,531.3 L592,531 L587,530.5 L582,530.1 L577,529.6 L572,529.2 L567,528.7 L562,528.3 L557,527.8 L552,527.4 L547,526.9 L542,526.5 L537,526.1 L532,525.7 L527,525.2 L522,524.8 L517,524.3 L512,523.8 L507,523.3 L502,522.8 L497,522.3 L492,521.8 L487,521.3 L482,520.7 L477,520.2 L472,519.7 L467,519.1 L462,518.5 L457,517.9 L452,517.3 L447,516.6 L442,515.9 L437,515.2 L432,514.4 L427,513.6 L422,512.7 L417,511.8 L412,510.9 L407,509.9 L402,509 L397,508.1 L392,507.1 L387,506.2 L382,505.3 L377,504.5 L372,503.7 L367,502.9 L362,502.2 L357,501.5 L352,500.9 L347,500.4 L342,499.9 L337,499.5 L332,499.2 L327,498.9 L322,498.7 L317,498.5 L312,498.4 L307,498.3 L302,498.3 L297,498.2 L292,498.2 L287,498.2 L282,498.2 L277,498.2 L272,498.3 L267,498.3 L262,498.3 L257,498.4 L252,498.4 L247,498.5 L242,498.5 L237,498.6 L232,498.6 L227,498.7 L222,498.7 L217,498.8 L212,498.8 L207,498.8 L202,498.9 L197,498.9 L192,498.9 L187,499 L182,499 L177,499 L172,499 L167,499 L162,499 L157,499 L152,499 L147,499 L142,499 L137,499 L132,499 L127,498.9 L122,498.9 L117,498.9 L112,498.9 L107,498.9 L102,498.9 L97,498.9 L92,498.9Z" fill="#9625A3"/>
<path d="M92,462.5 L97,462.5 L102,462.6 L107,462.6 L112,462.7 L117,462.7 L122,462.8 L127,462.8 L132,462.8 L137,462.9 L142,462.9 L147,462.9 L152,462.9 L157,462.9 L162,463 L167,463 L172,463 L177,463 L182,463 L187,463 L192,462.9 L197,462.9 L202,462.9 L207,462.9 L212,462.8 L217,462.8 L222,462.7 L227,462.7 L232,462.7 L237,462.6 L242,462.6 L247,462.5 L252,462.4 L257,462.4 L262,462.3 L267,462.2 L272,462.2 L277,462.1 L282,462.1 L287,462.1 L292,462.1 L297,462.1 L302,462.2 L307,462.4 L312,462.6 L317,462.8 L322,463.1 L327,463.5 L332,463.9 L337,464.4 L342,465.1 L347,465.8 L352,466.6 L357,467.6 L362,468.6 L367,469.8 L372,471.1 L377,472.4 L382,473.8 L387,475.3 L392,476.8 L397,478.4 L402,480 L407,481.6 L412,483.2 L417,484.8 L422,486.4 L427,487.9 L432,489.4 L437,490.9 L442,492.3 L447,493.6 L452,494.9 L457,496.1 L462,497.2 L467,498.3 L472,499.4 L477,500.4 L482,501.4 L487,502.3 L492,503.3 L497,504.2 L502,505.1 L507,506 L512,507 L517,507.9 L522,508.8 L527,509.6 L532,510.5 L537,511.3 L542,512.1 L547,512.8 L552,513.6 L557,514.4 L562,515.2 L567,516 L572,516.7 L577,517.5 L582,518.2 L587,518.9 L592,519.5 L597,520.1 L602,520.5 L605,520.8 L605,531.1 L602,530.9 L597,530.6 L592,530.2 L587,529.8 L582,529.3 L577,528.8 L572,528.4 L567,527.9 L562,527.4 L557,526.9 L552,526.5 L547,526 L542,525.6 L537,525.1 L532,524.7 L527,524.2 L522,523.7 L517,523.2 L512,522.7 L507,522.2 L502,521.6 L497,521.1 L492,520.6 L487,520 L482,519.5 L477,518.9 L472,518.3 L467,517.8 L462,517.1 L457,516.5 L452,515.8 L447,515.1 L442,514.4 L437,513.6 L432,512.8 L427,511.9 L422,511 L417,510 L412,509.1 L407,508.1 L402,507.1 L397,506.1 L392,505.1 L387,504.2 L382,503.3 L377,502.4 L372,501.5 L367,500.7 L362,500 L357,499.3 L352,498.7 L347,498.1 L342,497.6 L337,497.2 L332,496.9 L327,496.6 L322,496.4 L317,496.2 L312,496.1 L307,496 L302,495.9 L297,495.9 L292,495.8 L287,495.8 L282,495.8 L277,495.9 L272,495.9 L267,495.9 L262,496 L257,496 L252,496.1 L247,496.1 L242,496.2 L237,496.2 L232,496.3 L227,496.3 L222,496.4 L217,496.4 L212,496.4 L207,496.5 L202,496.5 L197,496.5 L192,496.6 L187,496.6 L182,496.6 L177,496.6 L172,496.6 L167,496.6 L162,496.6 L157,496.6 L152,496.6 L147,496.6 L142,496.6 L137,496.6 L132,496.6 L127,496.6 L122,496.6 L117,496.6 L112,496.5 L107,496.5 L102,496.5 L97,496.5 L92,496.5Z" fill="#BB3288"/>
<path d="M92,464.9 L97,464.9 L102,465 L107,465 L112,465 L117,465.1 L122,465.1 L127,465.2 L132,465.2 L137,465.2 L142,465.2 L147,465.3 L152,465.3 L157,465.3 L162,465.3 L167,465.3 L172,465.3 L177,465.3 L182,465.3 L187,465.3 L192,465.3 L197,465.3 L202,465.2 L207,465.2 L212,465.2 L217,465.1 L222,465.1 L227,465.1 L232,465 L237,465 L242,464.9 L247,464.9 L252,464.8 L257,464.7 L262,464.6 L267,464.6 L272,464.5 L277,464.5 L282,464.4 L287,464.4 L292,464.4 L297,464.5 L302,464.6 L307,464.7 L312,464.9 L317,465.2 L322,465.5 L327,465.8 L332,466.2 L337,466.7 L342,467.3 L347,468 L352,468.9 L357,469.8 L362,470.8 L367,472 L372,473.2 L377,474.5 L382,475.9 L387,477.3 L392,478.8 L397,480.4 L402,481.9 L407,483.5 L412,485 L417,486.6 L422,488.1 L427,489.6 L432,491.1 L437,492.5 L442,493.8 L447,495.1 L452,496.3 L457,497.5 L462,498.6 L467,499.7 L472,500.7 L477,501.7 L482,502.6 L487,503.6 L492,504.5 L497,505.4 L502,506.3 L507,507.2 L512,508.1 L517,508.9 L522,509.8 L527,510.6 L532,511.5 L537,512.2 L542,513 L547,513.8 L552,514.5 L557,515.3 L562,516 L567,516.8 L572,517.6 L577,518.3 L582,519 L587,519.7 L592,520.3 L597,520.8 L602,521.2 L605,521.6 L605,530.4 L602,530.1 L597,529.8 L592,529.4 L587,529 L582,528.5 L577,528 L572,527.5 L567,527 L562,526.5 L557,526 L552,525.5 L547,525 L542,524.6 L537,524.1 L532,523.6 L527,523.1 L522,522.6 L517,522.1 L512,521.5 L507,520.9 L502,520.4 L497,519.8 L492,519.2 L487,518.7 L482,518.1 L477,517.5 L472,516.9 L467,516.3 L462,515.6 L457,515 L452,514.2 L447,513.5 L442,512.7 L437,511.9 L432,511 L427,510.1 L422,509.1 L417,508.1 L412,507.1 L407,506.1 L402,505 L397,504 L392,503 L387,502 L382,501 L377,500.1 L372,499.2 L367,498.4 L362,497.6 L357,496.9 L352,496.2 L347,495.7 L342,495.2 L337,494.7 L332,494.4 L327,494.1 L322,493.9 L317,493.7 L312,493.5 L307,493.4 L302,493.4 L297,493.3 L292,493.3 L287,493.3 L282,493.3 L277,493.3 L272,493.3 L267,493.4 L262,493.4 L257,493.5 L252,493.5 L247,493.6 L242,493.6 L237,493.7 L232,493.7 L227,493.8 L222,493.8 L217,493.9 L212,493.9 L207,493.9 L202,494 L197,494 L192,494 L187,494 L182,494.1 L177,494.1 L172,494.1 L167,494.1 L162,494.1 L157,494.1 L152,494.1 L147,494.1 L142,494.1 L137,494 L132,494 L127,494 L122,494 L117,494 L112,494 L107,494 L102,493.9 L97,493.9 L92,493.9Z" fill="#D2507A"/>
<path d="M92,467.3 L97,467.3 L102,467.3 L107,467.4 L112,467.4 L117,467.5 L122,467.5 L127,467.5 L132,467.6 L137,467.6 L142,467.6 L147,467.6 L152,467.7 L157,467.7 L162,467.7 L167,467.7 L172,467.7 L177,467.7 L182,467.7 L187,467.7 L192,467.7 L197,467.6 L202,467.6 L207,467.6 L212,467.5 L217,467.5 L222,467.5 L227,467.4 L232,467.4 L237,467.3 L242,467.3 L247,467.2 L252,467.1 L257,467.1 L262,467 L267,466.9 L272,466.9 L277,466.8 L282,466.8 L287,466.8 L292,466.8 L297,466.9 L302,467 L307,467.1 L312,467.3 L317,467.5 L322,467.8 L327,468.1 L332,468.5 L337,469 L342,469.6 L347,470.3 L352,471.1 L357,472 L362,473 L367,474.1 L372,475.3 L377,476.6 L382,478 L387,479.4 L392,480.8 L397,482.3 L402,483.8 L407,485.3 L412,486.8 L417,488.3 L422,489.8 L427,491.3 L432,492.7 L437,494.1 L442,495.4 L447,496.6 L452,497.8 L457,498.9 L462,500 L467,501.1 L472,502 L477,503 L482,503.9 L487,504.8 L492,505.7 L497,506.6 L502,507.4 L507,508.3 L512,509.2 L517,510 L522,510.9 L527,511.7 L532,512.4 L537,513.2 L542,514 L547,514.7 L552,515.4 L557,516.2 L562,516.9 L567,517.6 L572,518.4 L577,519.1 L582,519.8 L587,520.4 L592,521 L597,521.5 L602,522 L605,522.3 L605,529.6 L602,529.3 L597,529 L592,528.6 L587,528.1 L582,527.6 L577,527.1 L572,526.6 L567,526.1 L562,525.5 L557,525 L552,524.5 L547,524 L542,523.5 L537,523 L532,522.5 L527,522 L522,521.5 L517,520.9 L512,520.3 L507,519.7 L502,519.1 L497,518.5 L492,517.9 L487,517.3 L482,516.7 L477,516.1 L472,515.5 L467,514.8 L462,514.1 L457,513.4 L452,512.7 L447,511.9 L442,511 L437,510.2 L432,509.2 L427,508.3 L422,507.2 L417,506.2 L412,505.2 L407,504.1 L402,503 L397,501.9 L392,500.8 L387,499.8 L382,498.8 L377,497.8 L372,496.9 L367,496.1 L362,495.2 L357,494.5 L352,493.8 L347,493.2 L342,492.7 L337,492.2 L332,491.9 L327,491.6 L322,491.3 L317,491.1 L312,491 L307,490.9 L302,490.8 L297,490.8 L292,490.7 L287,490.7 L282,490.7 L277,490.7 L272,490.8 L267,490.8 L262,490.9 L257,490.9 L252,491 L247,491 L242,491.1 L237,491.1 L232,491.2 L227,491.2 L222,491.3 L217,491.3 L212,491.3 L207,491.4 L202,491.4 L197,491.5 L192,491.5 L187,491.5 L182,491.5 L177,491.5 L172,491.5 L167,491.5 L162,491.5 L157,491.5 L152,491.5 L147,491.5 L142,491.5 L137,491.5 L132,491.5 L127,491.5 L122,491.4 L117,491.4 L112,491.4 L107,491.4 L102,491.4 L97,491.4 L92,491.4Z" fill="#E8705C"/>
<path d="M92,469.6 L97,469.7 L102,469.7 L107,469.7 L112,469.8 L117,469.8 L122,469.8 L127,469.9 L132,469.9 L137,469.9 L142,469.9 L147,470 L152,470 L157,470 L162,470 L167,470 L172,470 L177,470 L182,470 L187,470 L192,470 L197,470 L202,469.9 L207,469.9 L212,469.9 L217,469.8 L222,469.8 L227,469.7 L232,469.7 L237,469.6 L242,469.6 L247,469.5 L252,469.5 L257,469.4 L262,469.3 L267,469.3 L272,469.2 L277,469.2 L282,469.1 L287,469.1 L292,469.1 L297,469.2 L302,469.3 L307,469.4 L312,469.6 L317,469.8 L322,470.1 L327,470.4 L332,470.8 L337,471.3 L342,471.9 L347,472.5 L352,473.3 L357,474.2 L362,475.2 L367,476.3 L372,477.5 L377,478.7 L382,480 L387,481.4 L392,482.8 L397,484.2 L402,485.7 L407,487.1 L412,488.6 L417,490.1 L422,491.5 L427,492.9 L432,494.3 L437,495.6 L442,496.9 L447,498.1 L452,499.3 L457,500.4 L462,501.4 L467,502.4 L472,503.4 L477,504.3 L482,505.2 L487,506 L492,506.9 L497,507.7 L502,508.6 L507,509.4 L512,510.3 L517,511.1 L522,511.9 L527,512.7 L532,513.4 L537,514.2 L542,514.9 L547,515.6 L552,516.3 L557,517 L562,517.7 L567,518.5 L572,519.2 L577,519.9 L582,520.6 L587,521.2 L592,521.8 L597,522.3 L602,522.7 L605,523 L605,528.9 L602,528.6 L597,528.3 L592,527.9 L587,527.4 L582,526.9 L577,526.3 L572,525.8 L567,525.3 L562,524.7 L557,524.2 L552,523.6 L547,523.1 L542,522.6 L537,522.1 L532,521.5 L527,521 L522,520.4 L517,519.8 L512,519.2 L507,518.6 L502,518 L497,517.4 L492,516.7 L487,516.1 L482,515.5 L477,514.8 L472,514.2 L467,513.5 L462,512.8 L457,512 L452,511.2 L447,510.4 L442,509.5 L437,508.6 L432,507.6 L427,506.6 L422,505.5 L417,504.5 L412,503.4 L407,502.2 L402,501.1 L397,500 L392,498.9 L387,497.8 L382,496.8 L377,495.8 L372,494.8 L367,493.9 L362,493.1 L357,492.3 L352,491.6 L347,491 L342,490.4 L337,490 L332,489.6 L327,489.3 L322,489 L317,488.8 L312,488.7 L307,488.6 L302,488.5 L297,488.4 L292,488.4 L287,488.4 L282,488.4 L277,488.4 L272,488.5 L267,488.5 L262,488.6 L257,488.6 L252,488.7 L247,488.7 L242,488.8 L237,488.8 L232,488.9 L227,488.9 L222,488.9 L217,489 L212,489 L207,489.1 L202,489.1 L197,489.1 L192,489.2 L187,489.2 L182,489.2 L177,489.2 L172,489.2 L167,489.2 L162,489.2 L157,489.2 L152,489.2 L147,489.2 L142,489.2 L137,489.2 L132,489.1 L127,489.1 L122,489.1 L117,489.1 L112,489.1 L107,489.1 L102,489 L97,489 L92,489Z" fill="#F68A44"/>
<path d="M92,472 L97,472 L102,472 L107,472.1 L112,472.1 L117,472.1 L122,472.2 L127,472.2 L132,472.2 L137,472.3 L142,472.3 L147,472.3 L152,472.3 L157,472.3 L162,472.3 L167,472.3 L172,472.3 L177,472.3 L182,472.3 L187,472.3 L192,472.3 L197,472.3 L202,472.3 L207,472.2 L212,472.2 L217,472.1 L222,472.1 L227,472.1 L232,472 L237,472 L242,471.9 L247,471.9 L252,471.8 L257,471.7 L262,471.7 L267,471.6 L272,471.5 L277,471.5 L282,471.5 L287,471.5 L292,471.5 L297,471.5 L302,471.6 L307,471.7 L312,471.9 L317,472.1 L322,472.4 L327,472.7 L332,473.1 L337,473.6 L342,474.1 L347,474.8 L352,475.5 L357,476.4 L362,477.4 L367,478.4 L372,479.6 L377,480.8 L382,482 L387,483.4 L392,484.7 L397,486.1 L402,487.5 L407,489 L412,490.4 L417,491.8 L422,493.2 L427,494.6 L432,495.9 L437,497.2 L442,498.4 L447,499.6 L452,500.7 L457,501.8 L462,502.8 L467,503.7 L472,504.7 L477,505.6 L482,506.4 L487,507.2 L492,508.1 L497,508.9 L502,509.7 L507,510.5 L512,511.3 L517,512.1 L522,512.9 L527,513.7 L532,514.4 L537,515.1 L542,515.8 L547,516.5 L552,517.2 L557,517.9 L562,518.6 L567,519.3 L572,520 L577,520.7 L582,521.3 L587,521.9 L592,522.5 L597,523 L602,523.4 L605,523.7 L605,528.1 L602,527.9 L597,527.5 L592,527.1 L587,526.6 L582,526.1 L577,525.6 L572,525 L567,524.4 L562,523.9 L557,523.3 L552,522.7 L547,522.2 L542,521.7 L537,521.1 L532,520.6 L527,520 L522,519.4 L517,518.8 L512,518.1 L507,517.5 L502,516.8 L497,516.2 L492,515.5 L487,514.9 L482,514.2 L477,513.5 L472,512.9 L467,512.1 L462,511.4 L457,510.6 L452,509.8 L447,508.9 L442,508 L437,507 L432,506 L427,504.9 L422,503.8 L417,502.7 L412,501.6 L407,500.4 L402,499.2 L397,498.1 L392,496.9 L387,495.8 L382,494.7 L377,493.7 L372,492.7 L367,491.8 L362,490.9 L357,490.1 L352,489.4 L347,488.7 L342,488.2 L337,487.7 L332,487.3 L327,487 L322,486.7 L317,486.5 L312,486.4 L307,486.2 L302,486.2 L297,486.1 L292,486.1 L287,486 L282,486.1 L277,486.1 L272,486.1 L267,486.2 L262,486.2 L257,486.3 L252,486.3 L247,486.4 L242,486.4 L237,486.5 L232,486.5 L227,486.6 L222,486.6 L217,486.7 L212,486.7 L207,486.7 L202,486.8 L197,486.8 L192,486.8 L187,486.8 L182,486.9 L177,486.9 L172,486.9 L167,486.9 L162,486.9 L157,486.9 L152,486.9 L147,486.8 L142,486.8 L137,486.8 L132,486.8 L127,486.8 L122,486.8 L117,486.7 L112,486.7 L107,486.7 L102,486.7 L97,486.7 L92,486.6Z" fill="#FDB02F"/>
<path d="M92,474.5 L97,474.6 L102,474.6 L107,474.6 L112,474.7 L117,474.7 L122,474.7 L127,474.8 L132,474.8 L137,474.8 L142,474.8 L147,474.8 L152,474.9 L157,474.9 L162,474.9 L167,474.9 L172,474.9 L177,474.9 L182,474.9 L187,474.9 L192,474.8 L197,474.8 L202,474.8 L207,474.8 L212,474.7 L217,474.7 L222,474.7 L227,474.6 L232,474.6 L237,474.5 L242,474.5 L247,474.4 L252,474.3 L257,474.3 L262,474.2 L267,474.2 L272,474.1 L277,474.1 L282,474 L287,474 L292,474 L297,474.1 L302,474.2 L307,474.3 L312,474.5 L317,474.7 L322,474.9 L327,475.2 L332,475.6 L337,476 L342,476.6 L347,477.2 L352,478 L357,478.8 L362,479.7 L367,480.8 L372,481.9 L377,483 L382,484.3 L387,485.5 L392,486.9 L397,488.2 L402,489.6 L407,491 L412,492.4 L417,493.7 L422,495.1 L427,496.4 L432,497.7 L437,498.9 L442,500.1 L447,501.2 L452,502.3 L457,503.3 L462,504.3 L467,505.2 L472,506.1 L477,507 L482,507.8 L487,508.6 L492,509.4 L497,510.2 L502,511 L507,511.8 L512,512.5 L517,513.3 L522,514.1 L527,514.8 L532,515.5 L537,516.2 L542,516.8 L547,517.5 L552,518.2 L557,518.8 L562,519.5 L567,520.2 L572,520.9 L577,521.5 L582,522.2 L587,522.8 L592,523.3 L597,523.8 L602,524.2 L605,524.5 L605,527.4 L602,527.1 L597,526.7 L592,526.3 L587,525.8 L582,525.3 L577,524.7 L572,524.1 L567,523.5 L562,522.9 L557,522.4 L552,521.8 L547,521.2 L542,520.6 L537,520.1 L532,519.5 L527,518.9 L522,518.3 L517,517.6 L512,516.9 L507,516.3 L502,515.6 L497,514.9 L492,514.2 L487,513.5 L482,512.9 L477,512.1 L472,511.4 L467,510.7 L462,509.9 L457,509 L452,508.2 L447,507.3 L442,506.3 L437,505.3 L432,504.2 L427,503.1 L422,502 L417,500.8 L412,499.6 L407,498.4 L402,497.2 L397,496 L392,494.8 L387,493.6 L382,492.5 L377,491.4 L372,490.4 L367,489.4 L362,488.5 L357,487.7 L352,487 L347,486.3 L342,485.7 L337,485.2 L332,484.8 L327,484.5 L322,484.2 L317,484 L312,483.8 L307,483.7 L302,483.6 L297,483.5 L292,483.5 L287,483.5 L282,483.5 L277,483.5 L272,483.6 L267,483.6 L262,483.7 L257,483.7 L252,483.8 L247,483.8 L242,483.9 L237,483.9 L232,484 L227,484 L222,484.1 L217,484.1 L212,484.2 L207,484.2 L202,484.2 L197,484.3 L192,484.3 L187,484.3 L182,484.3 L177,484.3 L172,484.3 L167,484.3 L162,484.3 L157,484.3 L152,484.3 L147,484.3 L142,484.3 L137,484.3 L132,484.3 L127,484.2 L122,484.2 L117,484.2 L112,484.2 L107,484.1 L102,484.1 L97,484.1 L92,484.1Z" fill="#FDBC2A"/>
<path d="M92,477.1 L97,477.1 L102,477.2 L107,477.2 L112,477.2 L117,477.3 L122,477.3 L127,477.3 L132,477.3 L137,477.4 L142,477.4 L147,477.4 L152,477.4 L157,477.4 L162,477.4 L167,477.4 L172,477.4 L177,477.4 L182,477.4 L187,477.4 L192,477.4 L197,477.4 L202,477.3 L207,477.3 L212,477.3 L217,477.2 L222,477.2 L227,477.2 L232,477.1 L237,477.1 L242,477 L247,477 L252,476.9 L257,476.8 L262,476.8 L267,476.7 L272,476.7 L277,476.6 L282,476.6 L287,476.6 L292,476.6 L297,476.6 L302,476.7 L307,476.8 L312,477 L317,477.2 L322,477.4 L327,477.7 L332,478.1 L337,478.5 L342,479.1 L347,479.7 L352,480.4 L357,481.2 L362,482.1 L367,483.1 L372,484.2 L377,485.3 L382,486.5 L387,487.7 L392,489 L397,490.3 L402,491.7 L407,493 L412,494.3 L417,495.6 L422,497 L427,498.2 L432,499.5 L437,500.6 L442,501.8 L447,502.8 L452,503.9 L457,504.9 L462,505.8 L467,506.7 L472,507.5 L477,508.4 L482,509.1 L487,509.9 L492,510.7 L497,511.5 L502,512.2 L507,513 L512,513.7 L517,514.5 L522,515.2 L527,515.9 L532,516.6 L537,517.2 L542,517.9 L547,518.5 L552,519.1 L557,519.8 L562,520.4 L567,521.1 L572,521.7 L577,522.4 L582,523 L587,523.6 L592,524.1 L597,524.6 L602,525 L605,525.3 L605,526.6 L602,526.3 L597,525.9 L592,525.5 L587,525 L582,524.4 L577,523.8 L572,523.2 L567,522.6 L562,522 L557,521.4 L552,520.8 L547,520.2 L542,519.6 L537,519 L532,518.4 L527,517.8 L522,517.1 L517,516.4 L512,515.8 L507,515.1 L502,514.3 L497,513.6 L492,512.9 L487,512.2 L482,511.5 L477,510.7 L472,510 L467,509.2 L462,508.4 L457,507.5 L452,506.6 L447,505.6 L442,504.6 L437,503.6 L432,502.5 L427,501.3 L422,500.1 L417,498.9 L412,497.7 L407,496.4 L402,495.1 L397,493.9 L392,492.7 L387,491.4 L382,490.3 L377,489.2 L372,488.1 L367,487.1 L362,486.2 L357,485.3 L352,484.5 L347,483.8 L342,483.3 L337,482.8 L332,482.3 L327,482 L322,481.7 L317,481.5 L312,481.3 L307,481.2 L302,481.1 L297,481 L292,480.9 L287,480.9 L282,480.9 L277,481 L272,481 L267,481.1 L262,481.1 L257,481.2 L252,481.2 L247,481.3 L242,481.3 L237,481.4 L232,481.4 L227,481.5 L222,481.5 L217,481.6 L212,481.6 L207,481.6 L202,481.7 L197,481.7 L192,481.7 L187,481.8 L182,481.8 L177,481.8 L172,481.8 L167,481.8 L162,481.8 L157,481.8 L152,481.8 L147,481.7 L142,481.7 L137,481.7 L132,481.7 L127,481.7 L122,481.7 L117,481.6 L112,481.6 L107,481.6 L102,481.5 L97,481.5 L92,481.5Z" fill="#EEFA1F"/>
</g>
<rect x="94.0" y="357.1" width="513.3" height="284.9" fill="none" stroke="#3a3a3a" stroke-width="1.65"/>
<g clip-path="url(#c11)">
<line x1="705.8" x2="705.8" y1="357.1" y2="642.0" stroke="#EAEAEA" stroke-width="0.75"/>
<line x1="822.8" x2="822.8" y1="357.1" y2="642.0" stroke="#EAEAEA" stroke-width="0.75"/>
<line x1="939.8" x2="939.8" y1="357.1" y2="642.0" stroke="#EAEAEA" stroke-width="0.75"/>
<line x1="1056.8" x2="1056.8" y1="357.1" y2="642.0" stroke="#EAEAEA" stroke-width="0.75"/>
<line x1="624.8" x2="1138.2" y1="579.35" y2="579.35" stroke="#EAEAEA" stroke-width="0.75"/>
<line x1="624.8" x2="1138.2" y1="515.65" y2="515.65" stroke="#EAEAEA" stroke-width="0.75"/>
<line x1="624.8" x2="1138.2" y1="451.95" y2="451.95" stroke="#EAEAEA" stroke-width="0.75"/>
<line x1="624.8" x2="1138.2" y1="388.25" y2="388.25" stroke="#EAEAEA" stroke-width="0.75"/>
<line x1="647.3" x2="647.3" y1="357.1" y2="642.0" stroke="#EAEAEA" stroke-width="1.1"/>
<line x1="764.3" x2="764.3" y1="357.1" y2="642.0" stroke="#EAEAEA" stroke-width="1.1"/>
<line x1="881.3" x2="881.3" y1="357.1" y2="642.0" stroke="#EAEAEA" stroke-width="1.1"/>
<line x1="998.3" x2="998.3" y1="357.1" y2="642.0" stroke="#EAEAEA" stroke-width="1.1"/>
<line x1="1115.3" x2="1115.3" y1="357.1" y2="642.0" stroke="#EAEAEA" stroke-width="1.1"/>
<line x1="624.8" x2="1138.2" y1="611.2" y2="611.2" stroke="#EAEAEA" stroke-width="1.1"/>
<line x1="624.8" x2="1138.2" y1="547.5" y2="547.5" stroke="#EAEAEA" stroke-width="1.1"/>
<line x1="624.8" x2="1138.2" y1="483.8" y2="483.8" stroke="#EAEAEA" stroke-width="1.1"/>
<line x1="624.8" x2="1138.2" y1="420.1" y2="420.1" stroke="#EAEAEA" stroke-width="1.1"/>
<line x1="881.5" x2="881.5" y1="641.45" y2="354.1" stroke="#000" stroke-width="2.9" stroke-linecap="round" stroke-dasharray="0 10.245"/>
<line x1="625.4" x2="1141.2" y1="547.5" y2="547.5" stroke="#000" stroke-width="2.9" stroke-linecap="round" stroke-dasharray="0 10.245"/>
<path d="M622,447.4 L627,447.4 L632,447.4 L637,447.4 L642,447.4 L647,447.4 L652,447.4 L657,447.4 L662,447.4 L667,447.4 L672,447.4 L677,447.4 L682,447.4 L687,447.4 L692,447.4 L697,447.4 L702,447.4 L707,447.4 L712,447.3 L717,447.3 L722,447.3 L727,447.2 L732,447.1 L737,447 L742,447 L747,446.9 L752,446.8 L757,446.8 L762,446.7 L767,446.7 L772,446.7 L777,446.7 L782,446.7 L787,446.7 L792,446.8 L797,446.9 L802,447 L807,447.1 L812,447.2 L817,447.3 L822,447.5 L827,447.6 L832,447.9 L837,448.1 L842,448.4 L847,448.7 L852,449.1 L857,449.5 L862,450 L867,450.6 L872,451.3 L877,452.1 L882,453.1 L887,454.2 L892,455.4 L897,456.8 L902,458.4 L907,460.1 L912,462 L917,464 L922,466.1 L927,468.2 L932,470.4 L937,472.5 L942,474.6 L947,476.6 L952,478.4 L957,480.2 L962,481.8 L967,483.4 L972,484.8 L977,486.2 L982,487.4 L987,488.6 L992,489.7 L997,490.7 L1002,491.6 L1007,492.5 L1012,493.4 L1017,494.2 L1022,495 L1027,495.8 L1032,496.5 L1037,497.3 L1042,498.1 L1047,498.8 L1052,499.5 L1057,500.2 L1062,500.9 L1067,501.6 L1072,502.3 L1077,502.9 L1082,503.6 L1087,504.2 L1092,504.9 L1097,505.6 L1102,506.2 L1107,506.9 L1112,507.5 L1117,508.2 L1122,508.7 L1127,509.3 L1132,509.7 L1135.5,510.1 L1135.5,533.5 L1132,533.4 L1127,533.3 L1122,533.1 L1117,532.9 L1112,532.7 L1107,532.5 L1102,532.2 L1097,532 L1092,531.7 L1087,531.4 L1082,531.2 L1077,530.9 L1072,530.6 L1067,530.4 L1062,530.1 L1057,529.9 L1052,529.7 L1047,529.5 L1042,529.3 L1037,529.1 L1032,528.9 L1027,528.7 L1022,528.5 L1017,528.3 L1012,528 L1007,527.8 L1002,527.6 L997,527.3 L992,527 L987,526.6 L982,526.3 L977,525.9 L972,525.4 L967,524.9 L962,524.4 L957,523.8 L952,523.2 L947,522.5 L942,521.8 L937,521 L932,520.2 L927,519.3 L922,518.4 L917,517.5 L912,516.6 L907,515.7 L902,514.8 L897,514 L892,513.2 L887,512.5 L882,511.9 L877,511.4 L872,511 L867,510.7 L862,510.5 L857,510.3 L852,510.1 L847,510 L842,510 L837,509.9 L832,509.9 L827,509.8 L822,509.8 L817,509.8 L812,509.8 L807,509.8 L802,509.8 L797,509.8 L792,509.8 L787,509.8 L782,509.8 L777,509.8 L772,509.8 L767,509.8 L762,509.8 L757,509.9 L752,509.9 L747,509.9 L742,509.9 L737,510 L732,510 L727,510.1 L722,510.1 L717,510.1 L712,510.2 L707,510.2 L702,510.2 L697,510.3 L692,510.3 L687,510.3 L682,510.3 L677,510.4 L672,510.4 L667,510.4 L662,510.4 L657,510.4 L652,510.5 L647,510.5 L642,510.5 L637,510.5 L632,510.6 L627,510.6 L622,510.6Z" fill="#0B1486"/>
<path d="M622,452.5 L627,452.5 L632,452.5 L637,452.5 L642,452.5 L647,452.5 L652,452.5 L657,452.5 L662,452.5 L667,452.5 L672,452.5 L677,452.5 L682,452.5 L687,452.5 L692,452.5 L697,452.5 L702,452.5 L707,452.5 L712,452.4 L717,452.4 L722,452.3 L727,452.3 L732,452.2 L737,452.1 L742,452.1 L747,452 L752,451.9 L757,451.9 L762,451.8 L767,451.8 L772,451.8 L777,451.8 L782,451.8 L787,451.8 L792,451.9 L797,452 L802,452 L807,452.1 L812,452.2 L817,452.4 L822,452.5 L827,452.7 L832,452.9 L837,453.1 L842,453.4 L847,453.7 L852,454 L857,454.5 L862,454.9 L867,455.5 L872,456.1 L877,456.9 L882,457.8 L887,458.9 L892,460.1 L897,461.5 L902,463 L907,464.6 L912,466.4 L917,468.3 L922,470.3 L927,472.4 L932,474.4 L937,476.5 L942,478.4 L947,480.3 L952,482 L957,483.7 L962,485.3 L967,486.8 L972,488.1 L977,489.4 L982,490.6 L987,491.7 L992,492.7 L997,493.6 L1002,494.5 L1007,495.4 L1012,496.2 L1017,497 L1022,497.7 L1027,498.4 L1032,499.2 L1037,499.9 L1042,500.6 L1047,501.3 L1052,502 L1057,502.6 L1062,503.3 L1067,503.9 L1072,504.6 L1077,505.2 L1082,505.8 L1087,506.4 L1092,507.1 L1097,507.7 L1102,508.3 L1107,509 L1112,509.6 L1117,510.2 L1122,510.7 L1127,511.2 L1132,511.6 L1135.5,512 L1135.5,532.1 L1132,532 L1127,531.9 L1122,531.7 L1117,531.4 L1112,531.2 L1107,530.9 L1102,530.7 L1097,530.4 L1092,530.1 L1087,529.8 L1082,529.5 L1077,529.2 L1072,528.9 L1067,528.6 L1062,528.4 L1057,528.1 L1052,527.9 L1047,527.6 L1042,527.4 L1037,527.2 L1032,526.9 L1027,526.7 L1022,526.5 L1017,526.2 L1012,526 L1007,525.7 L1002,525.4 L997,525.1 L992,524.7 L987,524.4 L982,523.9 L977,523.5 L972,523 L967,522.4 L962,521.9 L957,521.2 L952,520.5 L947,519.8 L942,519 L937,518.1 L932,517.2 L927,516.3 L922,515.3 L917,514.3 L912,513.3 L907,512.4 L902,511.5 L897,510.6 L892,509.8 L887,509 L882,508.4 L877,507.9 L872,507.4 L867,507.1 L862,506.8 L857,506.6 L852,506.5 L847,506.4 L842,506.3 L837,506.2 L832,506.1 L827,506.1 L822,506.1 L817,506.1 L812,506 L807,506 L802,506 L797,506 L792,506 L787,506 L782,506 L777,506 L772,506 L767,506 L762,506.1 L757,506.1 L752,506.1 L747,506.1 L742,506.2 L737,506.2 L732,506.2 L727,506.3 L722,506.3 L717,506.4 L712,506.4 L707,506.4 L702,506.5 L697,506.5 L692,506.5 L687,506.5 L682,506.6 L677,506.6 L672,506.6 L667,506.6 L662,506.6 L657,506.7 L652,506.7 L647,506.7 L642,506.7 L637,506.7 L632,506.8 L627,506.8 L622,506.8Z" fill="#511DA4"/>
<path d="M622,455.5 L627,455.5 L632,455.5 L637,455.4 L642,455.4 L647,455.4 L652,455.4 L657,455.4 L662,455.4 L667,455.4 L672,455.4 L677,455.4 L682,455.4 L687,455.4 L692,455.4 L697,455.4 L702,455.4 L707,455.4 L712,455.4 L717,455.3 L722,455.3 L727,455.2 L732,455.1 L737,455.1 L742,455 L747,454.9 L752,454.9 L757,454.8 L762,454.8 L767,454.7 L772,454.7 L777,454.7 L782,454.7 L787,454.8 L792,454.8 L797,454.9 L802,455 L807,455.1 L812,455.2 L817,455.3 L822,455.4 L827,455.6 L832,455.8 L837,456 L842,456.2 L847,456.5 L852,456.9 L857,457.3 L862,457.7 L867,458.3 L872,458.9 L877,459.7 L882,460.6 L887,461.6 L892,462.8 L897,464.1 L902,465.6 L907,467.2 L912,468.9 L917,470.8 L922,472.8 L927,474.8 L932,476.8 L937,478.7 L942,480.6 L947,482.4 L952,484.1 L957,485.7 L962,487.3 L967,488.7 L972,490 L977,491.2 L982,492.4 L987,493.4 L992,494.4 L997,495.3 L1002,496.2 L1007,497 L1012,497.8 L1017,498.5 L1022,499.3 L1027,500 L1032,500.7 L1037,501.4 L1042,502 L1047,502.7 L1052,503.4 L1057,504 L1062,504.6 L1067,505.3 L1072,505.9 L1077,506.5 L1082,507.1 L1087,507.7 L1092,508.3 L1097,508.9 L1102,509.5 L1107,510.1 L1112,510.7 L1117,511.3 L1122,511.9 L1127,512.3 L1132,512.8 L1135.5,513.1 L1135.5,531.1 L1132,531 L1127,530.8 L1122,530.6 L1117,530.4 L1112,530.1 L1107,529.8 L1102,529.5 L1097,529.2 L1092,528.9 L1087,528.6 L1082,528.3 L1077,528 L1072,527.7 L1067,527.4 L1062,527.1 L1057,526.8 L1052,526.5 L1047,526.3 L1042,526 L1037,525.8 L1032,525.5 L1027,525.3 L1022,525 L1017,524.7 L1012,524.5 L1007,524.2 L1002,523.8 L997,523.5 L992,523.1 L987,522.7 L982,522.2 L977,521.8 L972,521.2 L967,520.6 L962,520 L957,519.3 L952,518.6 L947,517.8 L942,516.9 L937,516 L932,515.1 L927,514.1 L922,513 L917,512 L912,511 L907,510 L902,509 L897,508.1 L892,507.2 L887,506.5 L882,505.8 L877,505.3 L872,504.8 L867,504.5 L862,504.2 L857,504 L852,503.8 L847,503.7 L842,503.6 L837,503.5 L832,503.4 L827,503.4 L822,503.4 L817,503.3 L812,503.3 L807,503.3 L802,503.3 L797,503.3 L792,503.3 L787,503.3 L782,503.3 L777,503.3 L772,503.3 L767,503.3 L762,503.3 L757,503.3 L752,503.4 L747,503.4 L742,503.4 L737,503.5 L732,503.5 L727,503.6 L722,503.6 L717,503.6 L712,503.7 L707,503.7 L702,503.7 L697,503.7 L692,503.8 L687,503.8 L682,503.8 L677,503.8 L672,503.9 L667,503.9 L662,503.9 L657,503.9 L652,503.9 L647,504 L642,504 L637,504 L632,504 L627,504 L622,504Z" fill="#5B20A8"/>
<path d="M622,458.4 L627,458.4 L632,458.4 L637,458.4 L642,458.4 L647,458.4 L652,458.4 L657,458.4 L662,458.4 L667,458.4 L672,458.4 L677,458.4 L682,458.3 L687,458.3 L692,458.3 L697,458.3 L702,458.3 L707,458.3 L712,458.3 L717,458.2 L722,458.2 L727,458.1 L732,458.1 L737,458 L742,457.9 L747,457.9 L752,457.8 L757,457.7 L762,457.7 L767,457.7 L772,457.6 L777,457.7 L782,457.7 L787,457.7 L792,457.8 L797,457.8 L802,457.9 L807,458 L812,458.1 L817,458.2 L822,458.3 L827,458.5 L832,458.6 L837,458.9 L842,459.1 L847,459.4 L852,459.7 L857,460.1 L862,460.5 L867,461.1 L872,461.7 L877,462.4 L882,463.3 L887,464.3 L892,465.5 L897,466.8 L902,468.2 L907,469.8 L912,471.5 L917,473.3 L922,475.2 L927,477.1 L932,479.1 L937,481 L942,482.8 L947,484.6 L952,486.2 L957,487.8 L962,489.2 L967,490.6 L972,491.9 L977,493.1 L982,494.2 L987,495.2 L992,496.2 L997,497 L1002,497.9 L1007,498.7 L1012,499.4 L1017,500.1 L1022,500.8 L1027,501.5 L1032,502.2 L1037,502.8 L1042,503.5 L1047,504.1 L1052,504.8 L1057,505.4 L1062,506 L1067,506.6 L1072,507.2 L1077,507.8 L1082,508.4 L1087,509 L1092,509.6 L1097,510.2 L1102,510.7 L1107,511.3 L1112,511.9 L1117,512.5 L1122,513 L1127,513.5 L1132,513.9 L1135.5,514.2 L1135.5,530.1 L1132,530 L1127,529.8 L1122,529.5 L1117,529.3 L1112,529 L1107,528.7 L1102,528.4 L1097,528.1 L1092,527.8 L1087,527.4 L1082,527.1 L1077,526.8 L1072,526.5 L1067,526.1 L1062,525.8 L1057,525.5 L1052,525.2 L1047,524.9 L1042,524.7 L1037,524.4 L1032,524.1 L1027,523.8 L1022,523.6 L1017,523.3 L1012,523 L1007,522.6 L1002,522.3 L997,521.9 L992,521.5 L987,521 L982,520.6 L977,520 L972,519.5 L967,518.8 L962,518.2 L957,517.4 L952,516.6 L947,515.8 L942,514.9 L937,513.9 L932,512.9 L927,511.8 L922,510.7 L917,509.7 L912,508.6 L907,507.5 L902,506.5 L897,505.6 L892,504.7 L887,504 L882,503.3 L877,502.7 L872,502.2 L867,501.9 L862,501.6 L857,501.3 L852,501.2 L847,501 L842,500.9 L837,500.8 L832,500.8 L827,500.7 L822,500.7 L817,500.6 L812,500.6 L807,500.6 L802,500.6 L797,500.5 L792,500.5 L787,500.5 L782,500.5 L777,500.5 L772,500.5 L767,500.5 L762,500.6 L757,500.6 L752,500.6 L747,500.6 L742,500.7 L737,500.7 L732,500.8 L727,500.8 L722,500.9 L717,500.9 L712,500.9 L707,501 L702,501 L697,501 L692,501 L687,501.1 L682,501.1 L677,501.1 L672,501.1 L667,501.1 L662,501.2 L657,501.2 L652,501.2 L647,501.2 L642,501.2 L637,501.3 L632,501.3 L627,501.3 L622,501.3Z" fill="#8A23AB"/>
<path d="M622,460.6 L627,460.6 L632,460.6 L637,460.6 L642,460.6 L647,460.6 L652,460.6 L657,460.5 L662,460.5 L667,460.5 L672,460.5 L677,460.5 L682,460.5 L687,460.5 L692,460.5 L697,460.5 L702,460.5 L707,460.5 L712,460.4 L717,460.4 L722,460.4 L727,460.3 L732,460.2 L737,460.2 L742,460.1 L747,460 L752,460 L757,459.9 L762,459.9 L767,459.8 L772,459.8 L777,459.8 L782,459.8 L787,459.9 L792,459.9 L797,460 L802,460.1 L807,460.1 L812,460.2 L817,460.3 L822,460.5 L827,460.6 L832,460.8 L837,461 L842,461.2 L847,461.5 L852,461.8 L857,462.2 L862,462.6 L867,463.1 L872,463.8 L877,464.5 L882,465.3 L887,466.3 L892,467.5 L897,468.7 L902,470.2 L907,471.7 L912,473.4 L917,475.1 L922,477 L927,478.9 L932,480.8 L937,482.6 L942,484.4 L947,486.1 L952,487.8 L957,489.3 L962,490.7 L967,492 L972,493.3 L977,494.4 L982,495.5 L987,496.5 L992,497.4 L997,498.3 L1002,499.1 L1007,499.9 L1012,500.6 L1017,501.3 L1022,502 L1027,502.6 L1032,503.3 L1037,503.9 L1042,504.6 L1047,505.2 L1052,505.8 L1057,506.4 L1062,507 L1067,507.6 L1072,508.2 L1077,508.8 L1082,509.3 L1087,509.9 L1092,510.5 L1097,511.1 L1102,511.6 L1107,512.2 L1112,512.8 L1117,513.3 L1122,513.8 L1127,514.3 L1132,514.7 L1135.5,515 L1135.5,529.2 L1132,529.1 L1127,528.9 L1122,528.6 L1117,528.4 L1112,528.1 L1107,527.7 L1102,527.4 L1097,527.1 L1092,526.8 L1087,526.4 L1082,526.1 L1077,525.7 L1072,525.4 L1067,525.1 L1062,524.7 L1057,524.4 L1052,524.1 L1047,523.8 L1042,523.5 L1037,523.2 L1032,522.9 L1027,522.6 L1022,522.3 L1017,522 L1012,521.7 L1007,521.3 L1002,520.9 L997,520.5 L992,520.1 L987,519.6 L982,519.1 L977,518.5 L972,517.9 L967,517.3 L962,516.6 L957,515.8 L952,515 L947,514.1 L942,513.1 L937,512.1 L932,511 L927,509.9 L922,508.8 L917,507.6 L912,506.5 L907,505.5 L902,504.4 L897,503.5 L892,502.6 L887,501.8 L882,501.1 L877,500.5 L872,500 L867,499.6 L862,499.3 L857,499.1 L852,498.9 L847,498.7 L842,498.6 L837,498.5 L832,498.4 L827,498.4 L822,498.3 L817,498.3 L812,498.2 L807,498.2 L802,498.2 L797,498.2 L792,498.2 L787,498.2 L782,498.2 L777,498.2 L772,498.2 L767,498.2 L762,498.2 L757,498.2 L752,498.2 L747,498.3 L742,498.3 L737,498.4 L732,498.4 L727,498.5 L722,498.5 L717,498.5 L712,498.6 L707,498.6 L702,498.6 L697,498.7 L692,498.7 L687,498.7 L682,498.7 L677,498.7 L672,498.8 L667,498.8 L662,498.8 L657,498.8 L652,498.8 L647,498.9 L642,498.9 L637,498.9 L632,498.9 L627,498.9 L622,498.9Z" fill="#9625A3"/>
<path d="M622,462.8 L627,462.7 L632,462.7 L637,462.7 L642,462.7 L647,462.7 L652,462.7 L657,462.7 L662,462.7 L667,462.7 L672,462.7 L677,462.7 L682,462.7 L687,462.7 L692,462.7 L697,462.7 L702,462.7 L707,462.6 L712,462.6 L717,462.6 L722,462.5 L727,462.5 L732,462.4 L737,462.3 L742,462.3 L747,462.2 L752,462.1 L757,462.1 L762,462 L767,462 L772,462 L777,462 L782,462 L787,462.1 L792,462.1 L797,462.2 L802,462.2 L807,462.3 L812,462.4 L817,462.5 L822,462.6 L827,462.8 L832,462.9 L837,463.1 L842,463.4 L847,463.6 L852,463.9 L857,464.3 L862,464.7 L867,465.2 L872,465.8 L877,466.5 L882,467.4 L887,468.3 L892,469.5 L897,470.7 L902,472.1 L907,473.6 L912,475.3 L917,477 L922,478.8 L927,480.7 L932,482.5 L937,484.3 L942,486.1 L947,487.7 L952,489.3 L957,490.8 L962,492.2 L967,493.5 L972,494.7 L977,495.8 L982,496.9 L987,497.8 L992,498.7 L997,499.6 L1002,500.4 L1007,501.1 L1012,501.8 L1017,502.5 L1022,503.1 L1027,503.8 L1032,504.4 L1037,505 L1042,505.6 L1047,506.2 L1052,506.8 L1057,507.4 L1062,508 L1067,508.6 L1072,509.2 L1077,509.7 L1082,510.3 L1087,510.9 L1092,511.4 L1097,512 L1102,512.5 L1107,513.1 L1112,513.6 L1117,514.2 L1122,514.7 L1127,515.1 L1132,515.5 L1135.5,515.8 L1135.5,528.3 L1132,528.2 L1127,528 L1122,527.7 L1117,527.4 L1112,527.1 L1107,526.8 L1102,526.5 L1097,526.1 L1092,525.8 L1087,525.4 L1082,525 L1077,524.7 L1072,524.3 L1067,524 L1062,523.6 L1057,523.3 L1052,523 L1047,522.6 L1042,522.3 L1037,522 L1032,521.7 L1027,521.4 L1022,521 L1017,520.7 L1012,520.4 L1007,520 L1002,519.6 L997,519.2 L992,518.7 L987,518.2 L982,517.6 L977,517.1 L972,516.4 L967,515.7 L962,515 L957,514.1 L952,513.3 L947,512.3 L942,511.3 L937,510.3 L932,509.2 L927,508 L922,506.8 L917,505.6 L912,504.5 L907,503.4 L902,502.3 L897,501.3 L892,500.4 L887,499.6 L882,498.9 L877,498.3 L872,497.8 L867,497.4 L862,497 L857,496.8 L852,496.6 L847,496.4 L842,496.3 L837,496.2 L832,496.1 L827,496 L822,496 L817,495.9 L812,495.9 L807,495.9 L802,495.8 L797,495.8 L792,495.8 L787,495.8 L782,495.8 L777,495.8 L772,495.8 L767,495.8 L762,495.8 L757,495.8 L752,495.9 L747,495.9 L742,496 L737,496 L732,496.1 L727,496.1 L722,496.1 L717,496.2 L712,496.2 L707,496.2 L702,496.3 L697,496.3 L692,496.3 L687,496.3 L682,496.4 L677,496.4 L672,496.4 L667,496.4 L662,496.4 L657,496.5 L652,496.5 L647,496.5 L642,496.5 L637,496.5 L632,496.5 L627,496.5 L622,496.6Z" fill="#BB3288"/>
<path d="M622,465.1 L627,465.1 L632,465.1 L637,465.1 L642,465.1 L647,465.1 L652,465.1 L657,465.1 L662,465.1 L667,465.1 L672,465.1 L677,465.1 L682,465.1 L687,465 L692,465 L697,465 L702,465 L707,465 L712,465 L717,464.9 L722,464.9 L727,464.8 L732,464.8 L737,464.7 L742,464.6 L747,464.6 L752,464.5 L757,464.5 L762,464.4 L767,464.4 L772,464.4 L777,464.4 L782,464.4 L787,464.4 L792,464.5 L797,464.5 L802,464.6 L807,464.7 L812,464.7 L817,464.8 L822,465 L827,465.1 L832,465.2 L837,465.4 L842,465.7 L847,465.9 L852,466.2 L857,466.6 L862,467 L867,467.5 L872,468.1 L877,468.8 L882,469.6 L887,470.5 L892,471.6 L897,472.9 L902,474.2 L907,475.7 L912,477.3 L917,479 L922,480.8 L927,482.6 L932,484.4 L937,486.1 L942,487.8 L947,489.5 L952,491 L957,492.4 L962,493.8 L967,495 L972,496.2 L977,497.3 L982,498.3 L987,499.3 L992,500.1 L997,500.9 L1002,501.7 L1007,502.4 L1012,503.1 L1017,503.8 L1022,504.4 L1027,505 L1032,505.6 L1037,506.2 L1042,506.8 L1047,507.4 L1052,508 L1057,508.5 L1062,509.1 L1067,509.7 L1072,510.2 L1077,510.8 L1082,511.3 L1087,511.9 L1092,512.4 L1097,513 L1102,513.5 L1107,514.1 L1112,514.6 L1117,515.1 L1122,515.6 L1127,516 L1132,516.4 L1135.5,516.7 L1135.5,527.4 L1132,527.2 L1127,527 L1122,526.7 L1117,526.4 L1112,526.1 L1107,525.8 L1102,525.4 L1097,525 L1092,524.7 L1087,524.3 L1082,523.9 L1077,523.6 L1072,523.2 L1067,522.8 L1062,522.5 L1057,522.1 L1052,521.7 L1047,521.4 L1042,521.1 L1037,520.7 L1032,520.4 L1027,520 L1022,519.7 L1017,519.3 L1012,518.9 L1007,518.5 L1002,518.1 L997,517.7 L992,517.2 L987,516.6 L982,516.1 L977,515.4 L972,514.8 L967,514 L962,513.2 L957,512.4 L952,511.5 L947,510.5 L942,509.4 L937,508.3 L932,507.1 L927,505.9 L922,504.7 L917,503.5 L912,502.3 L907,501.1 L902,500 L897,499 L892,498.1 L887,497.2 L882,496.5 L877,495.9 L872,495.3 L867,494.9 L862,494.6 L857,494.3 L852,494.1 L847,493.9 L842,493.8 L837,493.7 L832,493.6 L827,493.5 L822,493.5 L817,493.4 L812,493.4 L807,493.3 L802,493.3 L797,493.3 L792,493.3 L787,493.2 L782,493.2 L777,493.2 L772,493.2 L767,493.2 L762,493.3 L757,493.3 L752,493.3 L747,493.4 L742,493.4 L737,493.5 L732,493.5 L727,493.6 L722,493.6 L717,493.6 L712,493.7 L707,493.7 L702,493.7 L697,493.8 L692,493.8 L687,493.8 L682,493.8 L677,493.8 L672,493.8 L667,493.9 L662,493.9 L657,493.9 L652,493.9 L647,493.9 L642,493.9 L637,494 L632,494 L627,494 L622,494Z" fill="#D2507A"/>
<path d="M622,467.5 L627,467.5 L632,467.5 L637,467.5 L642,467.5 L647,467.5 L652,467.5 L657,467.4 L662,467.4 L667,467.4 L672,467.4 L677,467.4 L682,467.4 L687,467.4 L692,467.4 L697,467.4 L702,467.4 L707,467.3 L712,467.3 L717,467.3 L722,467.2 L727,467.2 L732,467.1 L737,467.1 L742,467 L747,466.9 L752,466.9 L757,466.8 L762,466.8 L767,466.8 L772,466.7 L777,466.7 L782,466.8 L787,466.8 L792,466.8 L797,466.9 L802,466.9 L807,467 L812,467.1 L817,467.2 L822,467.3 L827,467.4 L832,467.6 L837,467.8 L842,468 L847,468.2 L852,468.5 L857,468.8 L862,469.2 L867,469.7 L872,470.3 L877,471 L882,471.8 L887,472.7 L892,473.8 L897,475 L902,476.3 L907,477.8 L912,479.4 L917,481 L922,482.7 L927,484.5 L932,486.2 L937,488 L942,489.6 L947,491.2 L952,492.7 L957,494.1 L962,495.4 L967,496.6 L972,497.7 L977,498.8 L982,499.8 L987,500.7 L992,501.5 L997,502.3 L1002,503.1 L1007,503.7 L1012,504.4 L1017,505 L1022,505.6 L1027,506.2 L1032,506.8 L1037,507.4 L1042,508 L1047,508.5 L1052,509.1 L1057,509.7 L1062,510.2 L1067,510.7 L1072,511.3 L1077,511.8 L1082,512.4 L1087,512.9 L1092,513.4 L1097,514 L1102,514.5 L1107,515 L1112,515.5 L1117,516 L1122,516.5 L1127,516.9 L1132,517.3 L1135.5,517.5 L1135.5,526.4 L1132,526.3 L1127,526 L1122,525.7 L1117,525.4 L1112,525.1 L1107,524.7 L1102,524.3 L1097,524 L1092,523.6 L1087,523.2 L1082,522.8 L1077,522.4 L1072,522 L1067,521.6 L1062,521.3 L1057,520.9 L1052,520.5 L1047,520.2 L1042,519.8 L1037,519.4 L1032,519.1 L1027,518.7 L1022,518.3 L1017,517.9 L1012,517.5 L1007,517.1 L1002,516.7 L997,516.2 L992,515.7 L987,515.1 L982,514.5 L977,513.8 L972,513.1 L967,512.3 L962,511.5 L957,510.6 L952,509.6 L947,508.6 L942,507.5 L937,506.3 L932,505.1 L927,503.9 L922,502.6 L917,501.3 L912,500.1 L907,498.9 L902,497.7 L897,496.7 L892,495.7 L887,494.8 L882,494.1 L877,493.5 L872,492.9 L867,492.5 L862,492.1 L857,491.9 L852,491.6 L847,491.5 L842,491.3 L837,491.2 L832,491.1 L827,491 L822,490.9 L817,490.9 L812,490.8 L807,490.8 L802,490.8 L797,490.7 L792,490.7 L787,490.7 L782,490.7 L777,490.7 L772,490.7 L767,490.7 L762,490.7 L757,490.7 L752,490.8 L747,490.8 L742,490.9 L737,490.9 L732,491 L727,491 L722,491.1 L717,491.1 L712,491.1 L707,491.2 L702,491.2 L697,491.2 L692,491.2 L687,491.2 L682,491.3 L677,491.3 L672,491.3 L667,491.3 L662,491.3 L657,491.3 L652,491.4 L647,491.4 L642,491.4 L637,491.4 L632,491.4 L627,491.4 L622,491.4Z" fill="#E8705C"/>
<path d="M622,469.8 L627,469.8 L632,469.8 L637,469.8 L642,469.8 L647,469.8 L652,469.8 L657,469.8 L662,469.8 L667,469.8 L672,469.8 L677,469.7 L682,469.7 L687,469.7 L692,469.7 L697,469.7 L702,469.7 L707,469.7 L712,469.6 L717,469.6 L722,469.6 L727,469.5 L732,469.5 L737,469.4 L742,469.3 L747,469.3 L752,469.2 L757,469.2 L762,469.1 L767,469.1 L772,469.1 L777,469.1 L782,469.1 L787,469.1 L792,469.2 L797,469.2 L802,469.3 L807,469.3 L812,469.4 L817,469.5 L822,469.6 L827,469.7 L832,469.9 L837,470 L842,470.2 L847,470.5 L852,470.8 L857,471.1 L862,471.5 L867,471.9 L872,472.5 L877,473.2 L882,474 L887,474.9 L892,475.9 L897,477.1 L902,478.4 L907,479.8 L912,481.4 L917,483 L922,484.7 L927,486.4 L932,488.1 L937,489.8 L942,491.4 L947,492.9 L952,494.3 L957,495.7 L962,497 L967,498.1 L972,499.2 L977,500.3 L982,501.2 L987,502.1 L992,502.9 L997,503.7 L1002,504.4 L1007,505.1 L1012,505.7 L1017,506.3 L1022,506.9 L1027,507.5 L1032,508 L1037,508.6 L1042,509.1 L1047,509.7 L1052,510.2 L1057,510.7 L1062,511.3 L1067,511.8 L1072,512.3 L1077,512.9 L1082,513.4 L1087,513.9 L1092,514.4 L1097,514.9 L1102,515.5 L1107,516 L1112,516.5 L1117,516.9 L1122,517.4 L1127,517.8 L1132,518.1 L1135.5,518.4 L1135.5,525.6 L1132,525.4 L1127,525.1 L1122,524.8 L1117,524.5 L1112,524.1 L1107,523.8 L1102,523.4 L1097,523 L1092,522.6 L1087,522.2 L1082,521.8 L1077,521.4 L1072,521 L1067,520.6 L1062,520.2 L1057,519.8 L1052,519.4 L1047,519 L1042,518.6 L1037,518.3 L1032,517.9 L1027,517.5 L1022,517.1 L1017,516.7 L1012,516.3 L1007,515.8 L1002,515.3 L997,514.8 L992,514.3 L987,513.7 L982,513.1 L977,512.4 L972,511.6 L967,510.8 L962,509.9 L957,509 L952,508 L947,506.9 L942,505.8 L937,504.5 L932,503.3 L927,502 L922,500.6 L917,499.3 L912,498 L907,496.8 L902,495.6 L897,494.6 L892,493.6 L887,492.7 L882,491.9 L877,491.3 L872,490.7 L867,490.3 L862,489.9 L857,489.6 L852,489.4 L847,489.2 L842,489 L837,488.9 L832,488.8 L827,488.7 L822,488.6 L817,488.6 L812,488.5 L807,488.5 L802,488.4 L797,488.4 L792,488.4 L787,488.4 L782,488.3 L777,488.3 L772,488.3 L767,488.4 L762,488.4 L757,488.4 L752,488.4 L747,488.5 L742,488.5 L737,488.6 L732,488.6 L727,488.7 L722,488.7 L717,488.8 L712,488.8 L707,488.8 L702,488.9 L697,488.9 L692,488.9 L687,488.9 L682,488.9 L677,488.9 L672,489 L667,489 L662,489 L657,489 L652,489 L647,489 L642,489.1 L637,489.1 L632,489.1 L627,489.1 L622,489.1Z" fill="#F68A44"/>
<path d="M622,472.2 L627,472.2 L632,472.2 L637,472.1 L642,472.1 L647,472.1 L652,472.1 L657,472.1 L662,472.1 L667,472.1 L672,472.1 L677,472.1 L682,472.1 L687,472.1 L692,472 L697,472 L702,472 L707,472 L712,472 L717,471.9 L722,471.9 L727,471.8 L732,471.8 L737,471.7 L742,471.7 L747,471.6 L752,471.5 L757,471.5 L762,471.5 L767,471.4 L772,471.4 L777,471.4 L782,471.4 L787,471.5 L792,471.5 L797,471.5 L802,471.6 L807,471.7 L812,471.7 L817,471.8 L822,471.9 L827,472 L832,472.2 L837,472.3 L842,472.5 L847,472.8 L852,473 L857,473.3 L862,473.7 L867,474.2 L872,474.7 L877,475.4 L882,476.1 L887,477 L892,478.1 L897,479.2 L902,480.5 L907,481.9 L912,483.4 L917,485 L922,486.6 L927,488.3 L932,489.9 L937,491.5 L942,493.1 L947,494.6 L952,496 L957,497.3 L962,498.5 L967,499.7 L972,500.7 L977,501.7 L982,502.6 L987,503.5 L992,504.3 L997,505 L1002,505.7 L1007,506.4 L1012,507 L1017,507.6 L1022,508.1 L1027,508.7 L1032,509.2 L1037,509.8 L1042,510.3 L1047,510.8 L1052,511.3 L1057,511.8 L1062,512.4 L1067,512.9 L1072,513.4 L1077,513.9 L1082,514.4 L1087,514.9 L1092,515.4 L1097,515.9 L1102,516.4 L1107,516.9 L1112,517.4 L1117,517.9 L1122,518.3 L1127,518.7 L1132,519 L1135.5,519.3 L1135.5,524.7 L1132,524.5 L1127,524.2 L1122,523.9 L1117,523.6 L1112,523.2 L1107,522.8 L1102,522.4 L1097,522 L1092,521.6 L1087,521.2 L1082,520.8 L1077,520.4 L1072,519.9 L1067,519.5 L1062,519.1 L1057,518.7 L1052,518.3 L1047,517.9 L1042,517.5 L1037,517.1 L1032,516.7 L1027,516.3 L1022,515.9 L1017,515.4 L1012,515 L1007,514.5 L1002,514 L997,513.5 L992,512.9 L987,512.3 L982,511.6 L977,510.9 L972,510.1 L967,509.3 L962,508.4 L957,507.4 L952,506.3 L947,505.2 L942,504 L937,502.8 L932,501.4 L927,500.1 L922,498.7 L917,497.3 L912,496 L907,494.8 L902,493.6 L897,492.4 L892,491.4 L887,490.5 L882,489.7 L877,489.1 L872,488.5 L867,488 L862,487.7 L857,487.4 L852,487.1 L847,486.9 L842,486.7 L837,486.6 L832,486.5 L827,486.4 L822,486.3 L817,486.2 L812,486.2 L807,486.1 L802,486.1 L797,486.1 L792,486 L787,486 L782,486 L777,486 L772,486 L767,486 L762,486 L757,486.1 L752,486.1 L747,486.2 L742,486.2 L737,486.3 L732,486.3 L727,486.4 L722,486.4 L717,486.4 L712,486.5 L707,486.5 L702,486.5 L697,486.6 L692,486.6 L687,486.6 L682,486.6 L677,486.6 L672,486.6 L667,486.7 L662,486.7 L657,486.7 L652,486.7 L647,486.7 L642,486.7 L637,486.7 L632,486.7 L627,486.8 L622,486.8Z" fill="#FDB02F"/>
<path d="M622,474.7 L627,474.7 L632,474.7 L637,474.7 L642,474.7 L647,474.7 L652,474.7 L657,474.7 L662,474.7 L667,474.6 L672,474.6 L677,474.6 L682,474.6 L687,474.6 L692,474.6 L697,474.6 L702,474.6 L707,474.5 L712,474.5 L717,474.5 L722,474.4 L727,474.4 L732,474.3 L737,474.3 L742,474.2 L747,474.1 L752,474.1 L757,474 L762,474 L767,474 L772,474 L777,474 L782,474 L787,474 L792,474 L797,474.1 L802,474.1 L807,474.2 L812,474.3 L817,474.3 L822,474.4 L827,474.5 L832,474.7 L837,474.8 L842,475 L847,475.2 L852,475.5 L857,475.8 L862,476.2 L867,476.6 L872,477.1 L877,477.8 L882,478.5 L887,479.4 L892,480.4 L897,481.6 L902,482.8 L907,484.2 L912,485.6 L917,487.1 L922,488.7 L927,490.3 L932,491.9 L937,493.5 L942,495 L947,496.4 L952,497.8 L957,499.1 L962,500.3 L967,501.4 L972,502.4 L977,503.3 L982,504.2 L987,505 L992,505.8 L997,506.5 L1002,507.2 L1007,507.8 L1012,508.4 L1017,508.9 L1022,509.5 L1027,510 L1032,510.5 L1037,511 L1042,511.5 L1047,512.1 L1052,512.6 L1057,513 L1062,513.5 L1067,514 L1072,514.5 L1077,515 L1082,515.5 L1087,516 L1092,516.5 L1097,517 L1102,517.5 L1107,517.9 L1112,518.4 L1117,518.9 L1122,519.3 L1127,519.7 L1132,520 L1135.5,520.2 L1135.5,523.7 L1132,523.5 L1127,523.3 L1122,522.9 L1117,522.6 L1112,522.2 L1107,521.8 L1102,521.4 L1097,520.9 L1092,520.5 L1087,520.1 L1082,519.7 L1077,519.2 L1072,518.8 L1067,518.4 L1062,517.9 L1057,517.5 L1052,517.1 L1047,516.7 L1042,516.2 L1037,515.8 L1032,515.4 L1027,514.9 L1022,514.5 L1017,514 L1012,513.6 L1007,513.1 L1002,512.6 L997,512 L992,511.4 L987,510.7 L982,510 L977,509.3 L972,508.5 L967,507.6 L962,506.6 L957,505.6 L952,504.5 L947,503.3 L942,502.1 L937,500.8 L932,499.4 L927,498 L922,496.6 L917,495.2 L912,493.8 L907,492.5 L902,491.3 L897,490.1 L892,489.1 L887,488.2 L882,487.4 L877,486.7 L872,486.1 L867,485.6 L862,485.2 L857,484.9 L852,484.7 L847,484.4 L842,484.3 L837,484.1 L832,484 L827,483.9 L822,483.8 L817,483.7 L812,483.7 L807,483.6 L802,483.6 L797,483.5 L792,483.5 L787,483.5 L782,483.5 L777,483.4 L772,483.4 L767,483.5 L762,483.5 L757,483.5 L752,483.6 L747,483.6 L742,483.7 L737,483.7 L732,483.8 L727,483.8 L722,483.9 L717,483.9 L712,483.9 L707,484 L702,484 L697,484 L692,484 L687,484 L682,484.1 L677,484.1 L672,484.1 L667,484.1 L662,484.1 L657,484.1 L652,484.1 L647,484.2 L642,484.2 L637,484.2 L632,484.2 L627,484.2 L622,484.2Z" fill="#FDBC2A"/>
<path d="M622,477.3 L627,477.3 L632,477.3 L637,477.3 L642,477.3 L647,477.2 L652,477.2 L657,477.2 L662,477.2 L667,477.2 L672,477.2 L677,477.2 L682,477.2 L687,477.2 L692,477.1 L697,477.1 L702,477.1 L707,477.1 L712,477.1 L717,477 L722,477 L727,476.9 L732,476.9 L737,476.8 L742,476.8 L747,476.7 L752,476.6 L757,476.6 L762,476.6 L767,476.5 L772,476.5 L777,476.5 L782,476.5 L787,476.6 L792,476.6 L797,476.6 L802,476.7 L807,476.7 L812,476.8 L817,476.9 L822,477 L827,477.1 L832,477.2 L837,477.3 L842,477.5 L847,477.7 L852,478 L857,478.3 L862,478.6 L867,479 L872,479.6 L877,480.2 L882,480.9 L887,481.8 L892,482.8 L897,483.9 L902,485.1 L907,486.4 L912,487.8 L917,489.3 L922,490.8 L927,492.4 L932,494 L937,495.5 L942,496.9 L947,498.3 L952,499.6 L957,500.8 L962,502 L967,503 L972,504 L977,504.9 L982,505.8 L987,506.6 L992,507.3 L997,508 L1002,508.6 L1007,509.2 L1012,509.8 L1017,510.3 L1022,510.8 L1027,511.3 L1032,511.8 L1037,512.3 L1042,512.8 L1047,513.3 L1052,513.8 L1057,514.2 L1062,514.7 L1067,515.2 L1072,515.7 L1077,516.2 L1082,516.6 L1087,517.1 L1092,517.6 L1097,518.1 L1102,518.5 L1107,519 L1112,519.4 L1117,519.9 L1122,520.3 L1127,520.6 L1132,520.9 L1135.5,521.2 L1135.5,522.8 L1132,522.6 L1127,522.3 L1122,522 L1117,521.6 L1112,521.2 L1107,520.7 L1102,520.3 L1097,519.9 L1092,519.4 L1087,519 L1082,518.5 L1077,518.1 L1072,517.6 L1067,517.2 L1062,516.7 L1057,516.3 L1052,515.9 L1047,515.4 L1042,515 L1037,514.5 L1032,514.1 L1027,513.6 L1022,513.1 L1017,512.7 L1012,512.2 L1007,511.6 L1002,511.1 L997,510.5 L992,509.9 L987,509.2 L982,508.5 L977,507.7 L972,506.8 L967,505.9 L962,504.9 L957,503.8 L952,502.7 L947,501.5 L942,500.2 L937,498.8 L932,497.4 L927,495.9 L922,494.5 L917,493 L912,491.6 L907,490.2 L902,489 L897,487.8 L892,486.7 L887,485.8 L882,485 L877,484.3 L872,483.7 L867,483.2 L862,482.8 L857,482.5 L852,482.2 L847,482 L842,481.8 L837,481.6 L832,481.5 L827,481.4 L822,481.3 L817,481.2 L812,481.1 L807,481.1 L802,481 L797,481 L792,480.9 L787,480.9 L782,480.9 L777,480.9 L772,480.9 L767,480.9 L762,480.9 L757,481 L752,481 L747,481 L742,481.1 L737,481.2 L732,481.2 L727,481.3 L722,481.3 L717,481.4 L712,481.4 L707,481.4 L702,481.4 L697,481.5 L692,481.5 L687,481.5 L682,481.5 L677,481.5 L672,481.5 L667,481.5 L662,481.6 L657,481.6 L652,481.6 L647,481.6 L642,481.6 L637,481.6 L632,481.6 L627,481.6 L622,481.6Z" fill="#EEFA1F"/>
</g>
<rect x="624.8" y="357.1" width="513.4" height="284.9" fill="none" stroke="#3a3a3a" stroke-width="1.65"/>
<g clip-path="url(#c20)">
<line x1="175" x2="175" y1="659.2" y2="944.3" stroke="#EAEAEA" stroke-width="0.75"/>
<line x1="292" x2="292" y1="659.2" y2="944.3" stroke="#EAEAEA" stroke-width="0.75"/>
<line x1="409" x2="409" y1="659.2" y2="944.3" stroke="#EAEAEA" stroke-width="0.75"/>
<line x1="526" x2="526" y1="659.2" y2="944.3" stroke="#EAEAEA" stroke-width="0.75"/>
<line x1="94.0" x2="607.3" y1="881.65" y2="881.65" stroke="#EAEAEA" stroke-width="0.75"/>
<line x1="94.0" x2="607.3" y1="817.95" y2="817.95" stroke="#EAEAEA" stroke-width="0.75"/>
<line x1="94.0" x2="607.3" y1="754.25" y2="754.25" stroke="#EAEAEA" stroke-width="0.75"/>
<line x1="94.0" x2="607.3" y1="690.55" y2="690.55" stroke="#EAEAEA" stroke-width="0.75"/>
<line x1="116.5" x2="116.5" y1="659.2" y2="944.3" stroke="#EAEAEA" stroke-width="1.1"/>
<line x1="233.5" x2="233.5" y1="659.2" y2="944.3" stroke="#EAEAEA" stroke-width="1.1"/>
<line x1="350.5" x2="350.5" y1="659.2" y2="944.3" stroke="#EAEAEA" stroke-width="1.1"/>
<line x1="467.5" x2="467.5" y1="659.2" y2="944.3" stroke="#EAEAEA" stroke-width="1.1"/>
<line x1="584.5" x2="584.5" y1="659.2" y2="944.3" stroke="#EAEAEA" stroke-width="1.1"/>
<line x1="94.0" x2="607.3" y1="913.5" y2="913.5" stroke="#EAEAEA" stroke-width="1.1"/>
<line x1="94.0" x2="607.3" y1="849.8" y2="849.8" stroke="#EAEAEA" stroke-width="1.1"/>
<line x1="94.0" x2="607.3" y1="786.1" y2="786.1" stroke="#EAEAEA" stroke-width="1.1"/>
<line x1="94.0" x2="607.3" y1="722.4" y2="722.4" stroke="#EAEAEA" stroke-width="1.1"/>
<line x1="350.7" x2="350.7" y1="943.75" y2="656.2" stroke="#000" stroke-width="2.9" stroke-linecap="round" stroke-dasharray="0 10.245"/>
<line x1="94.6" x2="610.3" y1="849.8" y2="849.8" stroke="#000" stroke-width="2.9" stroke-linecap="round" stroke-dasharray="0 10.245"/>
<path d="M92,801.2 L97,801.2 L102,801.2 L107,801.3 L112,801.3 L117,801.4 L122,801.5 L127,801.5 L132,801.6 L137,801.6 L142,801.6 L147,801.7 L152,801.7 L157,801.7 L162,801.8 L167,801.8 L172,801.8 L177,801.8 L182,801.8 L187,801.8 L192,801.8 L197,801.8 L202,801.8 L207,801.8 L212,801.8 L217,801.8 L222,801.8 L227,801.8 L232,801.8 L237,801.8 L242,801.7 L247,801.7 L252,801.6 L257,801.5 L262,801.4 L267,801.4 L272,801.3 L277,801.2 L282,801.1 L287,801 L292,800.9 L297,800.8 L302,800.8 L307,800.7 L312,800.7 L317,800.6 L322,800.6 L327,800.6 L332,800.6 L337,800.7 L342,800.9 L347,801 L352,801.3 L357,801.6 L362,801.9 L367,802.4 L372,802.9 L377,803.5 L382,804.2 L387,805 L392,805.9 L397,806.9 L402,807.9 L407,808.9 L412,809.9 L417,810.9 L422,811.9 L427,812.8 L432,813.7 L437,814.6 L442,815.4 L447,816.2 L452,816.9 L457,817.7 L462,818.4 L467,819 L472,819.6 L477,820.2 L482,820.8 L487,821.4 L492,822 L497,822.5 L502,823.1 L507,823.6 L512,824.2 L517,824.7 L522,825.3 L527,825.8 L532,826.3 L537,826.7 L542,827.2 L547,827.6 L552,828.1 L557,828.5 L562,829 L567,829.4 L572,829.9 L577,830.4 L582,830.9 L587,831.3 L592,831.8 L597,832.2 L602,832.5 L605,832.8 L605,851.5 L602,851.5 L597,851.6 L592,851.6 L587,851.6 L582,851.7 L577,851.7 L572,851.8 L567,851.9 L562,852 L557,852.1 L552,852.2 L547,852.3 L542,852.4 L537,852.5 L532,852.7 L527,852.8 L522,852.9 L517,853 L512,853.1 L507,853.3 L502,853.4 L497,853.5 L492,853.6 L487,853.7 L482,853.8 L477,853.9 L472,854 L467,854.2 L462,854.3 L457,854.4 L452,854.6 L447,854.7 L442,854.9 L437,855 L432,855.2 L427,855.3 L422,855.4 L417,855.6 L412,855.7 L407,855.9 L402,856 L397,856.2 L392,856.3 L387,856.5 L382,856.6 L377,856.8 L372,857 L367,857.1 L362,857.3 L357,857.4 L352,857.5 L347,857.5 L342,857.6 L337,857.6 L332,857.6 L327,857.6 L322,857.6 L317,857.6 L312,857.6 L307,857.6 L302,857.6 L297,857.6 L292,857.6 L287,857.6 L282,857.6 L277,857.6 L272,857.5 L267,857.5 L262,857.5 L257,857.5 L252,857.5 L247,857.4 L242,857.4 L237,857.4 L232,857.4 L227,857.4 L222,857.4 L217,857.4 L212,857.4 L207,857.4 L202,857.4 L197,857.4 L192,857.4 L187,857.4 L182,857.4 L177,857.4 L172,857.4 L167,857.4 L162,857.4 L157,857.4 L152,857.4 L147,857.4 L142,857.4 L137,857.4 L132,857.4 L127,857.4 L122,857.4 L117,857.4 L112,857.4 L107,857.4 L102,857.4 L97,857.4 L92,857.4Z" fill="#0B1486"/>
<path d="M92,805.9 L97,806 L102,806 L107,806.1 L112,806.1 L117,806.2 L122,806.2 L127,806.3 L132,806.3 L137,806.3 L142,806.4 L147,806.4 L152,806.4 L157,806.5 L162,806.5 L167,806.5 L172,806.5 L177,806.5 L182,806.5 L187,806.5 L192,806.5 L197,806.5 L202,806.5 L207,806.5 L212,806.5 L217,806.5 L222,806.5 L227,806.5 L232,806.5 L237,806.5 L242,806.5 L247,806.4 L252,806.4 L257,806.3 L262,806.2 L267,806.1 L272,806.1 L277,806 L282,805.9 L287,805.8 L292,805.7 L297,805.7 L302,805.6 L307,805.6 L312,805.5 L317,805.5 L322,805.4 L327,805.5 L332,805.5 L337,805.6 L342,805.7 L347,805.8 L352,806 L357,806.3 L362,806.6 L367,807 L372,807.5 L377,808 L382,808.7 L387,809.4 L392,810.2 L397,811.1 L402,812 L407,812.9 L412,813.8 L417,814.7 L422,815.6 L427,816.4 L432,817.2 L437,818 L442,818.8 L447,819.5 L452,820.1 L457,820.8 L462,821.4 L467,822 L472,822.6 L477,823.1 L482,823.6 L487,824.1 L492,824.6 L497,825.1 L502,825.6 L507,826.2 L512,826.7 L517,827.1 L522,827.6 L527,828.1 L532,828.5 L537,828.9 L542,829.3 L547,829.7 L552,830.1 L557,830.5 L562,830.9 L567,831.4 L572,831.8 L577,832.2 L582,832.6 L587,833.1 L592,833.5 L597,833.8 L602,834.2 L605,834.4 L605,850.2 L602,850.2 L597,850.2 L592,850.2 L587,850.2 L582,850.2 L577,850.2 L572,850.3 L567,850.3 L562,850.4 L557,850.4 L552,850.5 L547,850.6 L542,850.7 L537,850.7 L532,850.8 L527,850.9 L522,851 L517,851 L512,851.1 L507,851.2 L502,851.3 L497,851.3 L492,851.4 L487,851.4 L482,851.5 L477,851.6 L472,851.6 L467,851.7 L462,851.8 L457,851.9 L452,851.9 L447,852 L442,852.1 L437,852.2 L432,852.3 L427,852.3 L422,852.4 L417,852.5 L412,852.5 L407,852.6 L402,852.6 L397,852.7 L392,852.8 L387,852.9 L382,853 L377,853.1 L372,853.2 L367,853.3 L362,853.4 L357,853.5 L352,853.5 L347,853.6 L342,853.6 L337,853.6 L332,853.6 L327,853.6 L322,853.6 L317,853.6 L312,853.6 L307,853.6 L302,853.6 L297,853.6 L292,853.6 L287,853.6 L282,853.6 L277,853.6 L272,853.6 L267,853.6 L262,853.6 L257,853.6 L252,853.5 L247,853.5 L242,853.5 L237,853.5 L232,853.5 L227,853.5 L222,853.5 L217,853.5 L212,853.5 L207,853.5 L202,853.5 L197,853.5 L192,853.5 L187,853.5 L182,853.5 L177,853.5 L172,853.5 L167,853.5 L162,853.5 L157,853.5 L152,853.5 L147,853.5 L142,853.5 L137,853.5 L132,853.5 L127,853.5 L122,853.5 L117,853.5 L112,853.5 L107,853.5 L102,853.5 L97,853.5 L92,853.5Z" fill="#511DA4"/>
<path d="M92,808.7 L97,808.7 L102,808.8 L107,808.8 L112,808.9 L117,808.9 L122,809 L127,809 L132,809 L137,809.1 L142,809.1 L147,809.1 L152,809.2 L157,809.2 L162,809.2 L167,809.2 L172,809.2 L177,809.2 L182,809.2 L187,809.2 L192,809.2 L197,809.3 L202,809.3 L207,809.3 L212,809.2 L217,809.2 L222,809.2 L227,809.2 L232,809.2 L237,809.2 L242,809.2 L247,809.1 L252,809.1 L257,809 L262,809 L267,808.9 L272,808.8 L277,808.7 L282,808.7 L287,808.6 L292,808.5 L297,808.5 L302,808.4 L307,808.3 L312,808.3 L317,808.3 L322,808.2 L327,808.2 L332,808.3 L337,808.3 L342,808.5 L347,808.6 L352,808.8 L357,809 L362,809.3 L367,809.7 L372,810.1 L377,810.7 L382,811.3 L387,811.9 L392,812.7 L397,813.5 L402,814.4 L407,815.2 L412,816.1 L417,816.9 L422,817.7 L427,818.5 L432,819.3 L437,820 L442,820.7 L447,821.4 L452,822 L457,822.6 L462,823.2 L467,823.7 L472,824.2 L477,824.8 L482,825.2 L487,825.7 L492,826.2 L497,826.7 L502,827.1 L507,827.6 L512,828.1 L517,828.5 L522,829 L527,829.4 L532,829.8 L537,830.2 L542,830.6 L547,830.9 L552,831.3 L557,831.7 L562,832.1 L567,832.5 L572,832.8 L577,833.3 L582,833.7 L587,834.1 L592,834.4 L597,834.8 L602,835.1 L605,835.3 L605,849.3 L602,849.3 L597,849.3 L592,849.3 L587,849.3 L582,849.3 L577,849.3 L572,849.3 L567,849.3 L562,849.3 L557,849.4 L552,849.4 L547,849.4 L542,849.5 L537,849.5 L532,849.6 L527,849.7 L522,849.7 L517,849.7 L512,849.8 L507,849.8 L502,849.9 L497,849.9 L492,849.9 L487,850 L482,850 L477,850 L472,850 L467,850.1 L462,850.1 L457,850.2 L452,850.2 L447,850.3 L442,850.3 L437,850.3 L432,850.4 L427,850.4 L422,850.4 L417,850.4 L412,850.4 L407,850.4 L402,850.4 L397,850.5 L392,850.5 L387,850.5 L382,850.6 L377,850.6 L372,850.7 L367,850.8 L362,850.8 L357,850.9 L352,851 L347,851 L342,851 L337,851 L332,851 L327,851 L322,851 L317,851 L312,851 L307,851 L302,851 L297,851 L292,851 L287,851 L282,851 L277,851 L272,851 L267,851 L262,851 L257,851 L252,851 L247,851 L242,851 L237,851 L232,851 L227,851 L222,851 L217,851 L212,851 L207,851 L202,851 L197,851 L192,851 L187,851 L182,850.9 L177,850.9 L172,850.9 L167,850.9 L162,850.9 L157,850.9 L152,850.9 L147,850.9 L142,850.9 L137,850.9 L132,850.9 L127,850.9 L122,850.9 L117,850.9 L112,850.9 L107,850.9 L102,850.9 L97,850.9 L92,850.9Z" fill="#5B20A8"/>
<path d="M92,811.5 L97,811.5 L102,811.5 L107,811.6 L112,811.6 L117,811.7 L122,811.7 L127,811.7 L132,811.8 L137,811.8 L142,811.8 L147,811.9 L152,811.9 L157,811.9 L162,811.9 L167,812 L172,812 L177,812 L182,812 L187,812 L192,812 L197,812 L202,812 L207,812 L212,812 L217,812 L222,812 L227,812 L232,812 L237,811.9 L242,811.9 L247,811.9 L252,811.8 L257,811.8 L262,811.7 L267,811.6 L272,811.6 L277,811.5 L282,811.4 L287,811.4 L292,811.3 L297,811.2 L302,811.2 L307,811.1 L312,811.1 L317,811 L322,811 L327,811 L332,811.1 L337,811.1 L342,811.2 L347,811.4 L352,811.6 L357,811.8 L362,812.1 L367,812.4 L372,812.8 L377,813.3 L382,813.8 L387,814.5 L392,815.2 L397,815.9 L402,816.7 L407,817.5 L412,818.3 L417,819.1 L422,819.8 L427,820.6 L432,821.3 L437,822 L442,822.6 L447,823.2 L452,823.8 L457,824.4 L462,824.9 L467,825.4 L472,825.9 L477,826.4 L482,826.9 L487,827.3 L492,827.7 L497,828.2 L502,828.6 L507,829.1 L512,829.5 L517,829.9 L522,830.3 L527,830.7 L532,831.1 L537,831.4 L542,831.8 L547,832.1 L552,832.5 L557,832.8 L562,833.2 L567,833.6 L572,833.9 L577,834.3 L582,834.7 L587,835.1 L592,835.4 L597,835.7 L602,836 L605,836.2 L605,848.5 L602,848.5 L597,848.4 L592,848.4 L587,848.3 L582,848.3 L577,848.3 L572,848.3 L567,848.3 L562,848.3 L557,848.3 L552,848.3 L547,848.3 L542,848.3 L537,848.4 L532,848.4 L527,848.4 L522,848.4 L517,848.4 L512,848.5 L507,848.5 L502,848.5 L497,848.5 L492,848.5 L487,848.5 L482,848.5 L477,848.5 L472,848.5 L467,848.5 L462,848.5 L457,848.5 L452,848.5 L447,848.5 L442,848.5 L437,848.5 L432,848.4 L427,848.4 L422,848.4 L417,848.3 L412,848.3 L407,848.3 L402,848.2 L397,848.2 L392,848.2 L387,848.1 L382,848.1 L377,848.2 L372,848.2 L367,848.3 L362,848.3 L357,848.3 L352,848.4 L347,848.4 L342,848.4 L337,848.4 L332,848.4 L327,848.4 L322,848.4 L317,848.4 L312,848.4 L307,848.4 L302,848.4 L297,848.4 L292,848.4 L287,848.4 L282,848.4 L277,848.4 L272,848.4 L267,848.4 L262,848.4 L257,848.4 L252,848.4 L247,848.4 L242,848.4 L237,848.4 L232,848.4 L227,848.4 L222,848.4 L217,848.4 L212,848.4 L207,848.4 L202,848.4 L197,848.4 L192,848.4 L187,848.4 L182,848.4 L177,848.4 L172,848.4 L167,848.4 L162,848.4 L157,848.4 L152,848.4 L147,848.4 L142,848.4 L137,848.4 L132,848.4 L127,848.3 L122,848.3 L117,848.3 L112,848.3 L107,848.3 L102,848.3 L97,848.3 L92,848.3Z" fill="#8A23AB"/>
<path d="M92,813 L97,813.1 L102,813.1 L107,813.1 L112,813.2 L117,813.2 L122,813.3 L127,813.3 L132,813.3 L137,813.4 L142,813.4 L147,813.4 L152,813.5 L157,813.5 L162,813.5 L167,813.5 L172,813.5 L177,813.5 L182,813.5 L187,813.5 L192,813.5 L197,813.5 L202,813.5 L207,813.5 L212,813.5 L217,813.5 L222,813.5 L227,813.5 L232,813.5 L237,813.5 L242,813.5 L247,813.4 L252,813.4 L257,813.3 L262,813.3 L267,813.2 L272,813.1 L277,813.1 L282,813 L287,812.9 L292,812.9 L297,812.8 L302,812.8 L307,812.7 L312,812.7 L317,812.6 L322,812.6 L327,812.6 L332,812.7 L337,812.7 L342,812.8 L347,813 L352,813.1 L357,813.3 L362,813.6 L367,813.9 L372,814.3 L377,814.8 L382,815.3 L387,815.9 L392,816.6 L397,817.3 L402,818.1 L407,818.8 L412,819.6 L417,820.3 L422,821.1 L427,821.8 L432,822.5 L437,823.1 L442,823.7 L447,824.3 L452,824.9 L457,825.4 L462,825.9 L467,826.4 L472,826.9 L477,827.3 L482,827.8 L487,828.2 L492,828.6 L497,829 L502,829.5 L507,829.9 L512,830.3 L517,830.7 L522,831.1 L527,831.5 L532,831.8 L537,832.2 L542,832.5 L547,832.8 L552,833.2 L557,833.5 L562,833.8 L567,834.2 L572,834.5 L577,834.9 L582,835.3 L587,835.6 L592,836 L597,836.3 L602,836.5 L605,836.7 L605,847.8 L602,847.7 L597,847.7 L592,847.6 L587,847.6 L582,847.5 L577,847.5 L572,847.4 L567,847.4 L562,847.4 L557,847.4 L552,847.4 L547,847.4 L542,847.4 L537,847.4 L532,847.4 L527,847.4 L522,847.4 L517,847.4 L512,847.3 L507,847.3 L502,847.3 L497,847.3 L492,847.3 L487,847.2 L482,847.2 L477,847.2 L472,847.1 L467,847.1 L462,847.1 L457,847.1 L452,847 L447,847 L442,847 L437,846.9 L432,846.9 L427,846.8 L422,846.7 L417,846.6 L412,846.5 L407,846.5 L402,846.4 L397,846.3 L392,846.2 L387,846.2 L382,846.1 L377,846.1 L372,846.1 L367,846.1 L362,846.2 L357,846.2 L352,846.2 L347,846.2 L342,846.2 L337,846.2 L332,846.2 L327,846.2 L322,846.2 L317,846.2 L312,846.2 L307,846.2 L302,846.2 L297,846.2 L292,846.2 L287,846.2 L282,846.2 L277,846.3 L272,846.3 L267,846.3 L262,846.3 L257,846.3 L252,846.3 L247,846.3 L242,846.3 L237,846.3 L232,846.3 L227,846.3 L222,846.3 L217,846.3 L212,846.3 L207,846.3 L202,846.3 L197,846.3 L192,846.3 L187,846.3 L182,846.3 L177,846.3 L172,846.2 L167,846.2 L162,846.2 L157,846.2 L152,846.2 L147,846.2 L142,846.2 L137,846.2 L132,846.2 L127,846.2 L122,846.2 L117,846.2 L112,846.2 L107,846.2 L102,846.1 L97,846.1 L92,846.1Z" fill="#9625A3"/>
<path d="M92,814.6 L97,814.6 L102,814.7 L107,814.7 L112,814.7 L117,814.8 L122,814.8 L127,814.9 L132,814.9 L137,814.9 L142,815 L147,815 L152,815 L157,815 L162,815.1 L167,815.1 L172,815.1 L177,815.1 L182,815.1 L187,815.1 L192,815.1 L197,815.1 L202,815.1 L207,815.1 L212,815.1 L217,815.1 L222,815.1 L227,815.1 L232,815.1 L237,815.1 L242,815 L247,815 L252,815 L257,814.9 L262,814.8 L267,814.8 L272,814.7 L277,814.7 L282,814.6 L287,814.5 L292,814.5 L297,814.4 L302,814.4 L307,814.3 L312,814.3 L317,814.2 L322,814.2 L327,814.2 L332,814.3 L337,814.3 L342,814.4 L347,814.5 L352,814.7 L357,814.9 L362,815.2 L367,815.5 L372,815.8 L377,816.3 L382,816.8 L387,817.3 L392,818 L397,818.7 L402,819.4 L407,820.1 L412,820.9 L417,821.6 L422,822.3 L427,823 L432,823.6 L437,824.2 L442,824.8 L447,825.4 L452,825.9 L457,826.5 L462,826.9 L467,827.4 L472,827.9 L477,828.3 L482,828.7 L487,829.1 L492,829.5 L497,829.9 L502,830.3 L507,830.7 L512,831.1 L517,831.5 L522,831.9 L527,832.2 L532,832.6 L537,832.9 L542,833.2 L547,833.5 L552,833.8 L557,834.2 L562,834.5 L567,834.8 L572,835.1 L577,835.5 L582,835.8 L587,836.2 L592,836.5 L597,836.8 L602,837.1 L605,837.3 L605,847 L602,847 L597,846.9 L592,846.9 L587,846.8 L582,846.7 L577,846.6 L572,846.6 L567,846.5 L562,846.5 L557,846.5 L552,846.4 L547,846.4 L542,846.4 L537,846.4 L532,846.4 L527,846.3 L522,846.3 L517,846.3 L512,846.2 L507,846.2 L502,846.1 L497,846.1 L492,846 L487,846 L482,845.9 L477,845.9 L472,845.8 L467,845.8 L462,845.7 L457,845.6 L452,845.6 L447,845.5 L442,845.4 L437,845.4 L432,845.3 L427,845.1 L422,845 L417,844.9 L412,844.8 L407,844.6 L402,844.5 L397,844.4 L392,844.3 L387,844.2 L382,844.1 L377,844.1 L372,844 L367,844 L362,844 L357,844 L352,844 L347,844 L342,844 L337,844 L332,844 L327,844 L322,844 L317,844 L312,844 L307,844 L302,844 L297,844 L292,844 L287,844.1 L282,844.1 L277,844.1 L272,844.1 L267,844.1 L262,844.1 L257,844.1 L252,844.1 L247,844.1 L242,844.1 L237,844.1 L232,844.1 L227,844.1 L222,844.1 L217,844.1 L212,844.1 L207,844.1 L202,844.1 L197,844.1 L192,844.1 L187,844.1 L182,844.1 L177,844.1 L172,844.1 L167,844.1 L162,844.1 L157,844.1 L152,844.1 L147,844.1 L142,844.1 L137,844.1 L132,844.1 L127,844 L122,844 L117,844 L112,844 L107,844 L102,844 L97,844 L92,844Z" fill="#BB3288"/>
<path d="M92,816.6 L97,816.6 L102,816.7 L107,816.7 L112,816.7 L117,816.8 L122,816.8 L127,816.9 L132,816.9 L137,816.9 L142,816.9 L147,817 L152,817 L157,817 L162,817 L167,817 L172,817 L177,817.1 L182,817.1 L187,817.1 L192,817.1 L197,817.1 L202,817.1 L207,817.1 L212,817.1 L217,817.1 L222,817.1 L227,817.1 L232,817 L237,817 L242,817 L247,817 L252,816.9 L257,816.9 L262,816.8 L267,816.8 L272,816.7 L277,816.7 L282,816.6 L287,816.5 L292,816.5 L297,816.4 L302,816.4 L307,816.3 L312,816.3 L317,816.3 L322,816.2 L327,816.3 L332,816.3 L337,816.3 L342,816.4 L347,816.5 L352,816.7 L357,816.9 L362,817.1 L367,817.4 L372,817.7 L377,818.1 L382,818.6 L387,819.2 L392,819.8 L397,820.4 L402,821.1 L407,821.8 L412,822.5 L417,823.2 L422,823.8 L427,824.5 L432,825.1 L437,825.7 L442,826.2 L447,826.8 L452,827.3 L457,827.8 L462,828.2 L467,828.7 L472,829.1 L477,829.5 L482,829.9 L487,830.3 L492,830.6 L497,831 L502,831.4 L507,831.8 L512,832.1 L517,832.5 L522,832.8 L527,833.2 L532,833.5 L537,833.8 L542,834.1 L547,834.4 L552,834.7 L557,835 L562,835.3 L567,835.6 L572,835.9 L577,836.3 L582,836.6 L587,836.9 L592,837.2 L597,837.5 L602,837.8 L605,837.9 L605,846.4 L602,846.3 L597,846.2 L592,846.1 L587,846.1 L582,846 L577,845.9 L572,845.8 L567,845.7 L562,845.7 L557,845.6 L552,845.6 L547,845.5 L542,845.5 L537,845.5 L532,845.4 L527,845.4 L522,845.3 L517,845.3 L512,845.2 L507,845.1 L502,845.1 L497,845 L492,844.9 L487,844.8 L482,844.8 L477,844.7 L472,844.6 L467,844.5 L462,844.4 L457,844.3 L452,844.2 L447,844.1 L442,844 L437,843.9 L432,843.8 L427,843.6 L422,843.5 L417,843.3 L412,843.2 L407,843 L402,842.8 L397,842.6 L392,842.5 L387,842.4 L382,842.3 L377,842.2 L372,842.1 L367,842.1 L362,842.1 L357,842.1 L352,842 L347,842 L342,842 L337,842 L332,842 L327,842 L322,842 L317,842 L312,842 L307,842 L302,842 L297,842 L292,842 L287,842.1 L282,842.1 L277,842.1 L272,842.1 L267,842.1 L262,842.1 L257,842.1 L252,842.1 L247,842.1 L242,842.1 L237,842.1 L232,842.1 L227,842.1 L222,842.1 L217,842.1 L212,842.1 L207,842.1 L202,842.1 L197,842.1 L192,842.1 L187,842.1 L182,842.1 L177,842.1 L172,842.1 L167,842.1 L162,842.1 L157,842.1 L152,842.1 L147,842.1 L142,842.1 L137,842.1 L132,842.1 L127,842.1 L122,842 L117,842 L112,842 L107,842 L102,842 L97,842 L92,842Z" fill="#D2507A"/>
<path d="M92,818.6 L97,818.6 L102,818.7 L107,818.7 L112,818.7 L117,818.8 L122,818.8 L127,818.8 L132,818.9 L137,818.9 L142,818.9 L147,819 L152,819 L157,819 L162,819 L167,819 L172,819 L177,819 L182,819 L187,819 L192,819 L197,819 L202,819 L207,819 L212,819 L217,819 L222,819 L227,819 L232,819 L237,819 L242,819 L247,819 L252,818.9 L257,818.9 L262,818.8 L267,818.8 L272,818.7 L277,818.7 L282,818.6 L287,818.5 L292,818.5 L297,818.4 L302,818.4 L307,818.4 L312,818.3 L317,818.3 L322,818.3 L327,818.3 L332,818.3 L337,818.4 L342,818.4 L347,818.5 L352,818.7 L357,818.9 L362,819.1 L367,819.3 L372,819.7 L377,820 L382,820.5 L387,821 L392,821.6 L397,822.2 L402,822.8 L407,823.5 L412,824.1 L417,824.8 L422,825.4 L427,826 L432,826.6 L437,827.1 L442,827.6 L447,828.1 L452,828.6 L457,829.1 L462,829.5 L467,829.9 L472,830.3 L477,830.7 L482,831 L487,831.4 L492,831.8 L497,832.1 L502,832.5 L507,832.8 L512,833.2 L517,833.5 L522,833.8 L527,834.1 L532,834.4 L537,834.7 L542,835 L547,835.3 L552,835.5 L557,835.8 L562,836.1 L567,836.4 L572,836.7 L577,837 L582,837.3 L587,837.6 L592,837.9 L597,838.2 L602,838.4 L605,838.6 L605,845.7 L602,845.6 L597,845.6 L592,845.4 L587,845.3 L582,845.2 L577,845.1 L572,845 L567,844.9 L562,844.9 L557,844.8 L552,844.7 L547,844.7 L542,844.6 L537,844.5 L532,844.5 L527,844.4 L522,844.3 L517,844.3 L512,844.2 L507,844.1 L502,844 L497,843.9 L492,843.8 L487,843.7 L482,843.6 L477,843.5 L472,843.4 L467,843.3 L462,843.1 L457,843 L452,842.9 L447,842.8 L442,842.6 L437,842.5 L432,842.3 L427,842.1 L422,841.9 L417,841.7 L412,841.5 L407,841.3 L402,841.1 L397,840.9 L392,840.7 L387,840.5 L382,840.4 L377,840.3 L372,840.2 L367,840.2 L362,840.1 L357,840.1 L352,840 L347,840 L342,840 L337,840 L332,839.9 L327,839.9 L322,839.9 L317,839.9 L312,839.9 L307,840 L302,840 L297,840 L292,840 L287,840 L282,840.1 L277,840.1 L272,840.1 L267,840.1 L262,840.1 L257,840.1 L252,840.1 L247,840.1 L242,840.2 L237,840.2 L232,840.2 L227,840.2 L222,840.2 L217,840.2 L212,840.2 L207,840.2 L202,840.2 L197,840.2 L192,840.2 L187,840.2 L182,840.2 L177,840.2 L172,840.2 L167,840.2 L162,840.2 L157,840.1 L152,840.1 L147,840.1 L142,840.1 L137,840.1 L132,840.1 L127,840.1 L122,840.1 L117,840 L112,840 L107,840 L102,840 L97,840 L92,840Z" fill="#E8705C"/>
<path d="M92,820.8 L97,820.8 L102,820.8 L107,820.8 L112,820.9 L117,820.9 L122,821 L127,821 L132,821 L137,821 L142,821.1 L147,821.1 L152,821.1 L157,821.1 L162,821.1 L167,821.2 L172,821.2 L177,821.2 L182,821.2 L187,821.2 L192,821.2 L197,821.2 L202,821.2 L207,821.2 L212,821.2 L217,821.2 L222,821.2 L227,821.2 L232,821.2 L237,821.1 L242,821.1 L247,821.1 L252,821.1 L257,821 L262,821 L267,820.9 L272,820.9 L277,820.8 L282,820.8 L287,820.7 L292,820.7 L297,820.6 L302,820.6 L307,820.5 L312,820.5 L317,820.5 L322,820.5 L327,820.5 L332,820.5 L337,820.5 L342,820.6 L347,820.7 L352,820.9 L357,821 L362,821.2 L367,821.5 L372,821.7 L377,822.1 L382,822.5 L387,823 L392,823.5 L397,824.1 L402,824.7 L407,825.3 L412,825.9 L417,826.5 L422,827.1 L427,827.6 L432,828.2 L437,828.7 L442,829.2 L447,829.6 L452,830.1 L457,830.5 L462,830.9 L467,831.3 L472,831.6 L477,832 L482,832.3 L487,832.7 L492,833 L497,833.3 L502,833.6 L507,834 L512,834.3 L517,834.6 L522,834.9 L527,835.2 L532,835.5 L537,835.7 L542,836 L547,836.2 L552,836.5 L557,836.7 L562,837 L567,837.3 L572,837.5 L577,837.8 L582,838.1 L587,838.4 L592,838.7 L597,838.9 L602,839.2 L605,839.3 L605,845.1 L602,845 L597,844.9 L592,844.8 L587,844.6 L582,844.5 L577,844.4 L572,844.3 L567,844.2 L562,844.1 L557,844 L552,843.9 L547,843.8 L542,843.7 L537,843.6 L532,843.6 L527,843.5 L522,843.4 L517,843.3 L512,843.2 L507,843 L502,842.9 L497,842.8 L492,842.7 L487,842.6 L482,842.4 L477,842.3 L472,842.2 L467,842 L462,841.9 L457,841.7 L452,841.6 L447,841.4 L442,841.3 L437,841.1 L432,840.9 L427,840.6 L422,840.4 L417,840.2 L412,839.9 L407,839.7 L402,839.4 L397,839.2 L392,838.9 L387,838.7 L382,838.6 L377,838.4 L372,838.3 L367,838.2 L362,838.2 L357,838.1 L352,838.1 L347,838 L342,838 L337,838 L332,837.9 L327,837.9 L322,837.9 L317,837.9 L312,838 L307,838 L302,838 L297,838 L292,838 L287,838.1 L282,838.1 L277,838.1 L272,838.1 L267,838.1 L262,838.2 L257,838.2 L252,838.2 L247,838.2 L242,838.2 L237,838.2 L232,838.2 L227,838.2 L222,838.2 L217,838.2 L212,838.2 L207,838.2 L202,838.2 L197,838.2 L192,838.2 L187,838.2 L182,838.2 L177,838.2 L172,838.2 L167,838.2 L162,838.2 L157,838.2 L152,838.2 L147,838.2 L142,838.2 L137,838.1 L132,838.1 L127,838.1 L122,838.1 L117,838.1 L112,838.1 L107,838 L102,838 L97,838 L92,838Z" fill="#F68A44"/>
<path d="M92,822.9 L97,822.9 L102,823 L107,823 L112,823 L117,823.1 L122,823.1 L127,823.1 L132,823.2 L137,823.2 L142,823.2 L147,823.2 L152,823.3 L157,823.3 L162,823.3 L167,823.3 L172,823.3 L177,823.3 L182,823.3 L187,823.3 L192,823.3 L197,823.3 L202,823.3 L207,823.3 L212,823.3 L217,823.3 L222,823.3 L227,823.3 L232,823.3 L237,823.3 L242,823.3 L247,823.3 L252,823.2 L257,823.2 L262,823.1 L267,823.1 L272,823 L277,823 L282,822.9 L287,822.9 L292,822.9 L297,822.8 L302,822.8 L307,822.7 L312,822.7 L317,822.7 L322,822.7 L327,822.7 L332,822.7 L337,822.7 L342,822.8 L347,822.9 L352,823 L357,823.2 L362,823.3 L367,823.6 L372,823.8 L377,824.1 L382,824.5 L387,824.9 L392,825.4 L397,826 L402,826.5 L407,827.1 L412,827.7 L417,828.2 L422,828.7 L427,829.3 L432,829.7 L437,830.2 L442,830.7 L447,831.1 L452,831.5 L457,831.9 L462,832.3 L467,832.6 L472,832.9 L477,833.3 L482,833.6 L487,833.9 L492,834.2 L497,834.5 L502,834.8 L507,835.1 L512,835.4 L517,835.7 L522,836 L527,836.2 L532,836.5 L537,836.7 L542,836.9 L547,837.2 L552,837.4 L557,837.6 L562,837.9 L567,838.1 L572,838.4 L577,838.7 L582,838.9 L587,839.2 L592,839.4 L597,839.7 L602,839.9 L605,840 L605,844.4 L602,844.3 L597,844.2 L592,844.1 L587,843.9 L582,843.8 L577,843.6 L572,843.5 L567,843.4 L562,843.2 L557,843.1 L552,843 L547,842.9 L542,842.8 L537,842.7 L532,842.6 L527,842.5 L522,842.4 L517,842.3 L512,842.1 L507,842 L502,841.9 L497,841.7 L492,841.6 L487,841.4 L482,841.3 L477,841.1 L472,841 L467,840.8 L462,840.6 L457,840.5 L452,840.3 L447,840.1 L442,839.9 L437,839.6 L432,839.4 L427,839.2 L422,838.9 L417,838.6 L412,838.3 L407,838 L402,837.7 L397,837.4 L392,837.2 L387,836.9 L382,836.7 L377,836.6 L372,836.4 L367,836.3 L362,836.2 L357,836.2 L352,836.1 L347,836.1 L342,836 L337,836 L332,836 L327,835.9 L322,835.9 L317,835.9 L312,836 L307,836 L302,836 L297,836 L292,836.1 L287,836.1 L282,836.1 L277,836.1 L272,836.2 L267,836.2 L262,836.2 L257,836.2 L252,836.2 L247,836.2 L242,836.3 L237,836.3 L232,836.3 L227,836.3 L222,836.3 L217,836.3 L212,836.3 L207,836.3 L202,836.3 L197,836.3 L192,836.3 L187,836.3 L182,836.3 L177,836.3 L172,836.3 L167,836.3 L162,836.3 L157,836.2 L152,836.2 L147,836.2 L142,836.2 L137,836.2 L132,836.2 L127,836.2 L122,836.1 L117,836.1 L112,836.1 L107,836.1 L102,836.1 L97,836 L92,836Z" fill="#FDB02F"/>
<path d="M92,825.5 L97,825.5 L102,825.6 L107,825.6 L112,825.6 L117,825.6 L122,825.7 L127,825.7 L132,825.7 L137,825.8 L142,825.8 L147,825.8 L152,825.8 L157,825.8 L162,825.8 L167,825.9 L172,825.9 L177,825.9 L182,825.9 L187,825.9 L192,825.9 L197,825.9 L202,825.9 L207,825.9 L212,825.9 L217,825.9 L222,825.9 L227,825.9 L232,825.9 L237,825.9 L242,825.8 L247,825.8 L252,825.8 L257,825.8 L262,825.7 L267,825.7 L272,825.6 L277,825.6 L282,825.5 L287,825.5 L292,825.5 L297,825.4 L302,825.4 L307,825.3 L312,825.3 L317,825.3 L322,825.3 L327,825.3 L332,825.3 L337,825.3 L342,825.4 L347,825.5 L352,825.6 L357,825.7 L362,825.9 L367,826.1 L372,826.3 L377,826.6 L382,826.9 L387,827.3 L392,827.8 L397,828.2 L402,828.7 L407,829.2 L412,829.8 L417,830.3 L422,830.7 L427,831.2 L432,831.7 L437,832.1 L442,832.5 L447,832.9 L452,833.2 L457,833.6 L462,833.9 L467,834.2 L472,834.5 L477,834.8 L482,835.1 L487,835.4 L492,835.7 L497,835.9 L502,836.2 L507,836.5 L512,836.7 L517,837 L522,837.2 L527,837.5 L532,837.7 L537,837.9 L542,838.1 L547,838.3 L552,838.5 L557,838.7 L562,838.9 L567,839.2 L572,839.4 L577,839.6 L582,839.9 L587,840.1 L592,840.4 L597,840.6 L602,840.8 L605,840.9 L605,843.7 L602,843.6 L597,843.4 L592,843.3 L587,843.1 L582,843 L577,842.8 L572,842.6 L567,842.5 L562,842.3 L557,842.2 L552,842.1 L547,842 L542,841.8 L537,841.7 L532,841.6 L527,841.5 L522,841.3 L517,841.2 L512,841 L507,840.8 L502,840.7 L497,840.5 L492,840.3 L487,840.2 L482,840 L477,839.8 L472,839.6 L467,839.4 L462,839.2 L457,839 L452,838.8 L447,838.6 L442,838.3 L437,838.1 L432,837.8 L427,837.5 L422,837.2 L417,836.9 L412,836.5 L407,836.2 L402,835.9 L397,835.5 L392,835.2 L387,834.9 L382,834.7 L377,834.5 L372,834.3 L367,834.2 L362,834.1 L357,834 L352,833.9 L347,833.9 L342,833.8 L337,833.8 L332,833.7 L327,833.7 L322,833.7 L317,833.7 L312,833.7 L307,833.8 L302,833.8 L297,833.8 L292,833.8 L287,833.9 L282,833.9 L277,833.9 L272,834 L267,834 L262,834 L257,834 L252,834.1 L247,834.1 L242,834.1 L237,834.1 L232,834.1 L227,834.1 L222,834.1 L217,834.1 L212,834.1 L207,834.1 L202,834.1 L197,834.1 L192,834.1 L187,834.1 L182,834.1 L177,834.1 L172,834.1 L167,834.1 L162,834.1 L157,834.1 L152,834.1 L147,834.1 L142,834 L137,834 L132,834 L127,834 L122,834 L117,833.9 L112,833.9 L107,833.9 L102,833.9 L97,833.9 L92,833.8Z" fill="#FDBC2A"/>
<path d="M92,828.1 L97,828.1 L102,828.1 L107,828.2 L112,828.2 L117,828.2 L122,828.3 L127,828.3 L132,828.3 L137,828.3 L142,828.3 L147,828.4 L152,828.4 L157,828.4 L162,828.4 L167,828.4 L172,828.4 L177,828.4 L182,828.4 L187,828.4 L192,828.4 L197,828.4 L202,828.4 L207,828.4 L212,828.4 L217,828.4 L222,828.4 L227,828.4 L232,828.4 L237,828.4 L242,828.4 L247,828.4 L252,828.4 L257,828.3 L262,828.3 L267,828.3 L272,828.2 L277,828.2 L282,828.1 L287,828.1 L292,828.1 L297,828 L302,828 L307,828 L312,827.9 L317,827.9 L322,827.9 L327,827.9 L332,827.9 L337,828 L342,828 L347,828.1 L352,828.2 L357,828.3 L362,828.4 L367,828.6 L372,828.8 L377,829 L382,829.3 L387,829.7 L392,830.1 L397,830.5 L402,831 L407,831.4 L412,831.9 L417,832.3 L422,832.7 L427,833.2 L432,833.6 L437,833.9 L442,834.3 L447,834.6 L452,835 L457,835.3 L462,835.6 L467,835.8 L472,836.1 L477,836.4 L482,836.6 L487,836.9 L492,837.1 L497,837.3 L502,837.6 L507,837.8 L512,838.1 L517,838.3 L522,838.5 L527,838.7 L532,838.9 L537,839.1 L542,839.3 L547,839.4 L552,839.6 L557,839.8 L562,840 L567,840.2 L572,840.4 L577,840.6 L582,840.8 L587,841.1 L592,841.3 L597,841.5 L602,841.6 L605,841.8 L605,842.9 L602,842.8 L597,842.7 L592,842.5 L587,842.3 L582,842.1 L577,842 L572,841.8 L567,841.6 L562,841.5 L557,841.3 L552,841.1 L547,841 L542,840.9 L537,840.7 L532,840.6 L527,840.4 L522,840.2 L517,840.1 L512,839.9 L507,839.7 L502,839.5 L497,839.3 L492,839.1 L487,838.9 L482,838.7 L477,838.5 L472,838.3 L467,838.1 L462,837.8 L457,837.6 L452,837.3 L447,837.1 L442,836.8 L437,836.5 L432,836.2 L427,835.8 L422,835.5 L417,835.1 L412,834.7 L407,834.4 L402,834 L397,833.6 L392,833.2 L387,832.9 L382,832.6 L377,832.4 L372,832.2 L367,832.1 L362,831.9 L357,831.8 L352,831.7 L347,831.7 L342,831.6 L337,831.5 L332,831.5 L327,831.5 L322,831.5 L317,831.5 L312,831.5 L307,831.5 L302,831.6 L297,831.6 L292,831.6 L287,831.7 L282,831.7 L277,831.7 L272,831.8 L267,831.8 L262,831.8 L257,831.9 L252,831.9 L247,831.9 L242,831.9 L237,831.9 L232,831.9 L227,831.9 L222,831.9 L217,831.9 L212,831.9 L207,831.9 L202,831.9 L197,831.9 L192,831.9 L187,831.9 L182,831.9 L177,831.9 L172,831.9 L167,831.9 L162,831.9 L157,831.9 L152,831.9 L147,831.9 L142,831.9 L137,831.8 L132,831.8 L127,831.8 L122,831.8 L117,831.8 L112,831.7 L107,831.7 L102,831.7 L97,831.7 L92,831.6Z" fill="#EEFA1F"/>
</g>
<rect x="94.0" y="659.2" width="513.3" height="285.1" fill="none" stroke="#3a3a3a" stroke-width="1.65"/>
<g clip-path="url(#c21)">
<line x1="705.8" x2="705.8" y1="659.2" y2="944.3" stroke="#EAEAEA" stroke-width="0.75"/>
<line x1="822.8" x2="822.8" y1="659.2" y2="944.3" stroke="#EAEAEA" stroke-width="0.75"/>
<line x1="939.8" x2="939.8" y1="659.2" y2="944.3" stroke="#EAEAEA" stroke-width="0.75"/>
<line x1="1056.8" x2="1056.8" y1="659.2" y2="944.3" stroke="#EAEAEA" stroke-width="0.75"/>
<line x1="624.8" x2="1138.2" y1="881.65" y2="881.65" stroke="#EAEAEA" stroke-width="0.75"/>
<line x1="624.8" x2="1138.2" y1="817.95" y2="817.95" stroke="#EAEAEA" stroke-width="0.75"/>
<line x1="624.8" x2="1138.2" y1="754.25" y2="754.25" stroke="#EAEAEA" stroke-width="0.75"/>
<line x1="624.8" x2="1138.2" y1="690.55" y2="690.55" stroke="#EAEAEA" stroke-width="0.75"/>
<line x1="647.3" x2="647.3" y1="659.2" y2="944.3" stroke="#EAEAEA" stroke-width="1.1"/>
<line x1="764.3" x2="764.3" y1="659.2" y2="944.3" stroke="#EAEAEA" stroke-width="1.1"/>
<line x1="881.3" x2="881.3" y1="659.2" y2="944.3" stroke="#EAEAEA" stroke-width="1.1"/>
<line x1="998.3" x2="998.3" y1="659.2" y2="944.3" stroke="#EAEAEA" stroke-width="1.1"/>
<line x1="1115.3" x2="1115.3" y1="659.2" y2="944.3" stroke="#EAEAEA" stroke-width="1.1"/>
<line x1="624.8" x2="1138.2" y1="913.5" y2="913.5" stroke="#EAEAEA" stroke-width="1.1"/>
<line x1="624.8" x2="1138.2" y1="849.8" y2="849.8" stroke="#EAEAEA" stroke-width="1.1"/>
<line x1="624.8" x2="1138.2" y1="786.1" y2="786.1" stroke="#EAEAEA" stroke-width="1.1"/>
<line x1="624.8" x2="1138.2" y1="722.4" y2="722.4" stroke="#EAEAEA" stroke-width="1.1"/>
<line x1="881.5" x2="881.5" y1="943.75" y2="656.2" stroke="#000" stroke-width="2.9" stroke-linecap="round" stroke-dasharray="0 10.245"/>
<line x1="625.4" x2="1141.2" y1="849.8" y2="849.8" stroke="#000" stroke-width="2.9" stroke-linecap="round" stroke-dasharray="0 10.245"/>
<path d="M622,868.8 L627,868.8 L632,868.8 L637,868.8 L642,868.8 L647,868.8 L652,868.8 L657,868.8 L662,868.8 L667,868.8 L672,868.8 L677,868.8 L682,868.8 L687,868.8 L692,868.8 L697,868.8 L702,868.8 L707,868.8 L712,868.8 L717,868.9 L722,868.9 L727,868.9 L732,869 L737,869.1 L742,869.1 L747,869.2 L752,869.2 L757,869.3 L762,869.4 L767,869.4 L772,869.5 L777,869.6 L782,869.6 L787,869.7 L792,869.8 L797,869.8 L802,869.9 L807,870 L812,870 L817,870 L822,870.1 L827,870.1 L832,870.1 L837,870.1 L842,870.2 L847,870.2 L852,870.2 L857,870.2 L862,870.2 L867,870.2 L872,870.2 L877,870.2 L882,870.2 L887,870.1 L892,870 L897,869.8 L902,869.6 L907,869.3 L912,869 L917,868.6 L922,868.2 L927,867.8 L932,867.3 L937,866.9 L942,866.5 L947,866.2 L952,865.9 L957,865.7 L962,865.4 L967,865.2 L972,865 L977,864.8 L982,864.6 L987,864.4 L992,864.2 L997,864 L1002,863.9 L1007,863.7 L1012,863.6 L1017,863.4 L1022,863.3 L1027,863.1 L1032,862.9 L1037,862.8 L1042,862.6 L1047,862.5 L1052,862.3 L1057,862.2 L1062,862.1 L1067,861.9 L1072,861.8 L1077,861.6 L1082,861.5 L1087,861.3 L1092,861.2 L1097,861 L1102,860.8 L1107,860.6 L1112,860.4 L1117,860.3 L1122,860.1 L1127,860 L1132,859.8 L1135.5,859.7 L1135.5,887.3 L1132,887.6 L1127,888 L1122,888.4 L1117,888.9 L1112,889.4 L1107,889.9 L1102,890.5 L1097,891.1 L1092,891.6 L1087,892.2 L1082,892.9 L1077,893.5 L1072,894.1 L1067,894.8 L1062,895.4 L1057,896.1 L1052,896.7 L1047,897.4 L1042,898 L1037,898.7 L1032,899.3 L1027,900 L1022,900.7 L1017,901.4 L1012,902.1 L1007,902.9 L1002,903.7 L997,904.4 L992,905.2 L987,906.1 L982,906.9 L977,907.8 L972,908.8 L967,909.8 L962,910.8 L957,911.9 L952,913.1 L947,914.3 L942,915.6 L937,916.9 L932,918.2 L927,919.5 L922,920.8 L917,921.9 L912,923 L907,923.9 L902,924.7 L897,925.3 L892,925.9 L887,926.3 L882,926.6 L877,926.8 L872,927 L867,927.1 L862,927.1 L857,927.1 L852,927.1 L847,927 L842,926.9 L837,926.8 L832,926.7 L827,926.6 L822,926.4 L817,926.3 L812,926.1 L807,925.9 L802,925.7 L797,925.4 L792,925.2 L787,924.9 L782,924.7 L777,924.5 L772,924.3 L767,924.1 L762,923.9 L757,923.7 L752,923.5 L747,923.4 L742,923.2 L737,923.1 L732,922.9 L727,922.8 L722,922.7 L717,922.6 L712,922.5 L707,922.4 L702,922.3 L697,922.3 L692,922.2 L687,922.2 L682,922.1 L677,922 L672,922 L667,921.9 L662,921.9 L657,921.9 L652,921.8 L647,921.8 L642,921.8 L637,921.7 L632,921.7 L627,921.7 L622,921.7Z" fill="#0B1486"/>
<path d="M622,873.5 L627,873.5 L632,873.5 L637,873.5 L642,873.5 L647,873.5 L652,873.5 L657,873.5 L662,873.5 L667,873.5 L672,873.5 L677,873.5 L682,873.5 L687,873.5 L692,873.6 L697,873.6 L702,873.6 L707,873.6 L712,873.6 L717,873.6 L722,873.7 L727,873.7 L732,873.8 L737,873.9 L742,873.9 L747,874 L752,874.1 L757,874.2 L762,874.2 L767,874.3 L772,874.4 L777,874.5 L782,874.5 L787,874.6 L792,874.7 L797,874.8 L802,874.9 L807,874.9 L812,875 L817,875 L822,875.1 L827,875.1 L832,875.2 L837,875.2 L842,875.2 L847,875.2 L852,875.2 L857,875.3 L862,875.3 L867,875.3 L872,875.3 L877,875.3 L882,875.2 L887,875.1 L892,875 L897,874.8 L902,874.5 L907,874.2 L912,873.8 L917,873.4 L922,872.9 L927,872.4 L932,871.9 L937,871.4 L942,870.9 L947,870.5 L952,870.1 L957,869.8 L962,869.5 L967,869.2 L972,868.9 L977,868.6 L982,868.3 L987,868.1 L992,867.9 L997,867.6 L1002,867.4 L1007,867.2 L1012,867 L1017,866.8 L1022,866.6 L1027,866.4 L1032,866.2 L1037,866 L1042,865.8 L1047,865.6 L1052,865.4 L1057,865.2 L1062,865 L1067,864.8 L1072,864.7 L1077,864.5 L1082,864.3 L1087,864.1 L1092,863.9 L1097,863.7 L1102,863.4 L1107,863.2 L1112,863 L1117,862.8 L1122,862.6 L1127,862.4 L1132,862.3 L1135.5,862.2 L1135.5,885.4 L1132,885.7 L1127,886 L1122,886.4 L1117,886.9 L1112,887.4 L1107,887.9 L1102,888.4 L1097,889 L1092,889.5 L1087,890.1 L1082,890.7 L1077,891.3 L1072,891.9 L1067,892.5 L1062,893.1 L1057,893.8 L1052,894.4 L1047,895 L1042,895.6 L1037,896.2 L1032,896.8 L1027,897.4 L1022,898.1 L1017,898.8 L1012,899.5 L1007,900.2 L1002,900.9 L997,901.7 L992,902.4 L987,903.2 L982,904 L977,904.9 L972,905.7 L967,906.7 L962,907.7 L957,908.8 L952,909.9 L947,911 L942,912.2 L937,913.5 L932,914.7 L927,915.9 L922,917.1 L917,918.2 L912,919.2 L907,920.1 L902,920.9 L897,921.5 L892,922 L887,922.4 L882,922.7 L877,922.9 L872,923.1 L867,923.1 L862,923.2 L857,923.2 L852,923.1 L847,923.1 L842,923 L837,922.9 L832,922.8 L827,922.7 L822,922.5 L817,922.4 L812,922.2 L807,922 L802,921.8 L797,921.6 L792,921.4 L787,921.1 L782,920.9 L777,920.7 L772,920.5 L767,920.3 L762,920.1 L757,919.9 L752,919.8 L747,919.6 L742,919.5 L737,919.3 L732,919.2 L727,919.1 L722,919 L717,918.9 L712,918.8 L707,918.7 L702,918.7 L697,918.6 L692,918.5 L687,918.5 L682,918.4 L677,918.4 L672,918.3 L667,918.3 L662,918.2 L657,918.2 L652,918.2 L647,918.1 L642,918.1 L637,918.1 L632,918.1 L627,918.1 L622,918.1Z" fill="#511DA4"/>
<path d="M622,876 L627,876 L632,876.1 L637,876.1 L642,876.1 L647,876.1 L652,876.1 L657,876.1 L662,876.1 L667,876.1 L672,876.1 L677,876.1 L682,876.1 L687,876.1 L692,876.1 L697,876.1 L702,876.1 L707,876.2 L712,876.2 L717,876.2 L722,876.3 L727,876.3 L732,876.4 L737,876.5 L742,876.5 L747,876.6 L752,876.7 L757,876.8 L762,876.8 L767,876.9 L772,877 L777,877.1 L782,877.2 L787,877.3 L792,877.4 L797,877.5 L802,877.5 L807,877.6 L812,877.7 L817,877.7 L822,877.8 L827,877.8 L832,877.9 L837,877.9 L842,877.9 L847,878 L852,878 L857,878 L862,878 L867,878 L872,878 L877,878 L882,877.9 L887,877.8 L892,877.6 L897,877.4 L902,877.1 L907,876.8 L912,876.4 L917,875.9 L922,875.4 L927,874.9 L932,874.3 L937,873.8 L942,873.3 L947,872.8 L952,872.4 L957,872 L962,871.6 L967,871.3 L972,871 L977,870.7 L982,870.4 L987,870.1 L992,869.8 L997,869.6 L1002,869.3 L1007,869.1 L1012,868.8 L1017,868.6 L1022,868.4 L1027,868.2 L1032,867.9 L1037,867.7 L1042,867.5 L1047,867.3 L1052,867.1 L1057,866.8 L1062,866.6 L1067,866.4 L1072,866.2 L1077,866 L1082,865.8 L1087,865.6 L1092,865.3 L1097,865.1 L1102,864.9 L1107,864.6 L1112,864.4 L1117,864.2 L1122,864 L1127,863.8 L1132,863.6 L1135.5,863.5 L1135.5,884.2 L1132,884.5 L1127,884.8 L1122,885.2 L1117,885.6 L1112,886.1 L1107,886.6 L1102,887.1 L1097,887.6 L1092,888.2 L1087,888.7 L1082,889.3 L1077,889.9 L1072,890.5 L1067,891.1 L1062,891.7 L1057,892.2 L1052,892.8 L1047,893.4 L1042,894 L1037,894.6 L1032,895.2 L1027,895.8 L1022,896.4 L1017,897.1 L1012,897.8 L1007,898.4 L1002,899.1 L997,899.9 L992,900.6 L987,901.3 L982,902.1 L977,902.9 L972,903.8 L967,904.7 L962,905.7 L957,906.7 L952,907.8 L947,908.9 L942,910 L937,911.2 L932,912.4 L927,913.6 L922,914.8 L917,915.9 L912,916.8 L907,917.7 L902,918.4 L897,919 L892,919.5 L887,919.9 L882,920.2 L877,920.4 L872,920.5 L867,920.6 L862,920.6 L857,920.6 L852,920.6 L847,920.6 L842,920.5 L837,920.4 L832,920.3 L827,920.2 L822,920 L817,919.9 L812,919.7 L807,919.5 L802,919.3 L797,919.1 L792,918.9 L787,918.7 L782,918.5 L777,918.2 L772,918 L767,917.9 L762,917.7 L757,917.5 L752,917.4 L747,917.2 L742,917.1 L737,916.9 L732,916.8 L727,916.7 L722,916.6 L717,916.5 L712,916.4 L707,916.3 L702,916.3 L697,916.2 L692,916.2 L687,916.1 L682,916.1 L677,916 L672,916 L667,915.9 L662,915.9 L657,915.8 L652,915.8 L647,915.8 L642,915.8 L637,915.7 L632,915.7 L627,915.7 L622,915.7Z" fill="#5B20A8"/>
<path d="M622,878.6 L627,878.6 L632,878.6 L637,878.6 L642,878.6 L647,878.6 L652,878.6 L657,878.6 L662,878.6 L667,878.6 L672,878.6 L677,878.7 L682,878.7 L687,878.7 L692,878.7 L697,878.7 L702,878.7 L707,878.7 L712,878.8 L717,878.8 L722,878.9 L727,878.9 L732,879 L737,879 L742,879.1 L747,879.2 L752,879.3 L757,879.4 L762,879.5 L767,879.5 L772,879.6 L777,879.7 L782,879.8 L787,879.9 L792,880 L797,880.1 L802,880.2 L807,880.3 L812,880.4 L817,880.4 L822,880.5 L827,880.5 L832,880.6 L837,880.6 L842,880.7 L847,880.7 L852,880.7 L857,880.7 L862,880.7 L867,880.7 L872,880.7 L877,880.7 L882,880.6 L887,880.5 L892,880.3 L897,880.1 L902,879.8 L907,879.4 L912,879 L917,878.5 L922,877.9 L927,877.3 L932,876.7 L937,876.2 L942,875.6 L947,875.1 L952,874.7 L957,874.2 L962,873.8 L967,873.4 L972,873.1 L977,872.7 L982,872.4 L987,872.1 L992,871.8 L997,871.5 L1002,871.2 L1007,871 L1012,870.7 L1017,870.4 L1022,870.2 L1027,869.9 L1032,869.7 L1037,869.4 L1042,869.2 L1047,868.9 L1052,868.7 L1057,868.5 L1062,868.2 L1067,868 L1072,867.8 L1077,867.5 L1082,867.3 L1087,867 L1092,866.8 L1097,866.6 L1102,866.3 L1107,866 L1112,865.8 L1117,865.6 L1122,865.3 L1127,865.1 L1132,865 L1135.5,864.8 L1135.5,883 L1132,883.2 L1127,883.5 L1122,883.9 L1117,884.4 L1112,884.8 L1107,885.3 L1102,885.8 L1097,886.3 L1092,886.8 L1087,887.4 L1082,887.9 L1077,888.5 L1072,889 L1067,889.6 L1062,890.2 L1057,890.7 L1052,891.3 L1047,891.9 L1042,892.4 L1037,893 L1032,893.6 L1027,894.2 L1022,894.8 L1017,895.4 L1012,896 L1007,896.7 L1002,897.4 L997,898.1 L992,898.8 L987,899.5 L982,900.2 L977,901 L972,901.9 L967,902.7 L962,903.7 L957,904.6 L952,905.7 L947,906.7 L942,907.9 L937,909 L932,910.2 L927,911.3 L922,912.5 L917,913.5 L912,914.4 L907,915.3 L902,916 L897,916.6 L892,917 L887,917.4 L882,917.7 L877,917.9 L872,918 L867,918.1 L862,918.1 L857,918.1 L852,918.1 L847,918 L842,918 L837,917.9 L832,917.8 L827,917.7 L822,917.5 L817,917.4 L812,917.2 L807,917 L802,916.8 L797,916.6 L792,916.4 L787,916.2 L782,916 L777,915.8 L772,915.6 L767,915.4 L762,915.3 L757,915.1 L752,915 L747,914.8 L742,914.7 L737,914.5 L732,914.4 L727,914.3 L722,914.2 L717,914.1 L712,914 L707,914 L702,913.9 L697,913.8 L692,913.8 L687,913.7 L682,913.7 L677,913.6 L672,913.6 L667,913.5 L662,913.5 L657,913.5 L652,913.4 L647,913.4 L642,913.4 L637,913.4 L632,913.4 L627,913.4 L622,913.3Z" fill="#8A23AB"/>
<path d="M622,880.3 L627,880.3 L632,880.3 L637,880.3 L642,880.3 L647,880.4 L652,880.4 L657,880.4 L662,880.4 L667,880.4 L672,880.4 L677,880.4 L682,880.4 L687,880.4 L692,880.4 L697,880.5 L702,880.5 L707,880.5 L712,880.5 L717,880.6 L722,880.6 L727,880.7 L732,880.8 L737,880.8 L742,880.9 L747,881 L752,881.1 L757,881.2 L762,881.3 L767,881.3 L772,881.4 L777,881.5 L782,881.6 L787,881.7 L792,881.9 L797,882 L802,882.1 L807,882.1 L812,882.2 L817,882.3 L822,882.4 L827,882.4 L832,882.5 L837,882.5 L842,882.5 L847,882.6 L852,882.6 L857,882.6 L862,882.6 L867,882.6 L872,882.6 L877,882.6 L882,882.5 L887,882.3 L892,882.2 L897,881.9 L902,881.6 L907,881.2 L912,880.8 L917,880.2 L922,879.7 L927,879.1 L932,878.4 L937,877.8 L942,877.2 L947,876.7 L952,876.2 L957,875.7 L962,875.3 L967,874.9 L972,874.5 L977,874.2 L982,873.8 L987,873.5 L992,873.2 L997,872.8 L1002,872.5 L1007,872.3 L1012,872 L1017,871.7 L1022,871.4 L1027,871.1 L1032,870.9 L1037,870.6 L1042,870.4 L1047,870.1 L1052,869.8 L1057,869.6 L1062,869.3 L1067,869.1 L1072,868.8 L1077,868.6 L1082,868.3 L1087,868.1 L1092,867.8 L1097,867.5 L1102,867.3 L1107,867 L1112,866.8 L1117,866.5 L1122,866.3 L1127,866.1 L1132,865.9 L1135.5,865.8 L1135.5,881.9 L1132,882.2 L1127,882.5 L1122,882.9 L1117,883.3 L1112,883.8 L1107,884.2 L1102,884.7 L1097,885.2 L1092,885.7 L1087,886.2 L1082,886.7 L1077,887.3 L1072,887.8 L1067,888.4 L1062,888.9 L1057,889.5 L1052,890 L1047,890.6 L1042,891.1 L1037,891.7 L1032,892.2 L1027,892.8 L1022,893.4 L1017,894 L1012,894.6 L1007,895.2 L1002,895.9 L997,896.6 L992,897.2 L987,897.9 L982,898.7 L977,899.4 L972,900.2 L967,901.1 L962,902 L957,902.9 L952,903.9 L947,905 L942,906 L937,907.2 L932,908.3 L927,909.4 L922,910.5 L917,911.5 L912,912.4 L907,913.2 L902,913.9 L897,914.5 L892,915 L887,915.3 L882,915.6 L877,915.8 L872,915.9 L867,916 L862,916 L857,916 L852,916 L847,915.9 L842,915.9 L837,915.8 L832,915.7 L827,915.6 L822,915.4 L817,915.3 L812,915.1 L807,915 L802,914.8 L797,914.6 L792,914.4 L787,914.2 L782,914 L777,913.8 L772,913.6 L767,913.4 L762,913.2 L757,913.1 L752,912.9 L747,912.8 L742,912.7 L737,912.5 L732,912.4 L727,912.3 L722,912.2 L717,912.1 L712,912 L707,912 L702,911.9 L697,911.9 L692,911.8 L687,911.8 L682,911.7 L677,911.7 L672,911.6 L667,911.6 L662,911.5 L657,911.5 L652,911.5 L647,911.5 L642,911.4 L637,911.4 L632,911.4 L627,911.4 L622,911.4Z" fill="#9625A3"/>
<path d="M622,882.1 L627,882.1 L632,882.1 L637,882.1 L642,882.1 L647,882.1 L652,882.1 L657,882.1 L662,882.1 L667,882.1 L672,882.2 L677,882.2 L682,882.2 L687,882.2 L692,882.2 L697,882.2 L702,882.2 L707,882.3 L712,882.3 L717,882.4 L722,882.4 L727,882.5 L732,882.5 L737,882.6 L742,882.7 L747,882.8 L752,882.9 L757,883 L762,883.1 L767,883.2 L772,883.3 L777,883.4 L782,883.5 L787,883.6 L792,883.7 L797,883.8 L802,883.9 L807,884 L812,884.1 L817,884.2 L822,884.2 L827,884.3 L832,884.3 L837,884.4 L842,884.4 L847,884.4 L852,884.5 L857,884.5 L862,884.5 L867,884.5 L872,884.5 L877,884.4 L882,884.3 L887,884.2 L892,884 L897,883.8 L902,883.4 L907,883 L912,882.6 L917,882 L922,881.4 L927,880.8 L932,880.1 L937,879.5 L942,878.9 L947,878.3 L952,877.8 L957,877.3 L962,876.8 L967,876.4 L972,876 L977,875.6 L982,875.2 L987,874.9 L992,874.5 L997,874.2 L1002,873.9 L1007,873.5 L1012,873.2 L1017,872.9 L1022,872.6 L1027,872.4 L1032,872.1 L1037,871.8 L1042,871.5 L1047,871.2 L1052,871 L1057,870.7 L1062,870.4 L1067,870.2 L1072,869.9 L1077,869.6 L1082,869.4 L1087,869.1 L1092,868.8 L1097,868.5 L1102,868.3 L1107,868 L1112,867.7 L1117,867.4 L1122,867.2 L1127,867 L1132,866.8 L1135.5,866.7 L1135.5,880.9 L1132,881.2 L1127,881.5 L1122,881.8 L1117,882.2 L1112,882.7 L1107,883.1 L1102,883.6 L1097,884.1 L1092,884.6 L1087,885.1 L1082,885.6 L1077,886.1 L1072,886.6 L1067,887.2 L1062,887.7 L1057,888.2 L1052,888.8 L1047,889.3 L1042,889.8 L1037,890.3 L1032,890.9 L1027,891.4 L1022,892 L1017,892.6 L1012,893.2 L1007,893.8 L1002,894.4 L997,895.1 L992,895.7 L987,896.4 L982,897.1 L977,897.8 L972,898.6 L967,899.4 L962,900.3 L957,901.2 L952,902.2 L947,903.2 L942,904.2 L937,905.3 L932,906.4 L927,907.5 L922,908.6 L917,909.6 L912,910.4 L907,911.2 L902,911.9 L897,912.5 L892,912.9 L887,913.3 L882,913.5 L877,913.7 L872,913.8 L867,913.9 L862,913.9 L857,913.9 L852,913.9 L847,913.8 L842,913.8 L837,913.7 L832,913.6 L827,913.5 L822,913.4 L817,913.2 L812,913.1 L807,912.9 L802,912.7 L797,912.5 L792,912.3 L787,912.1 L782,911.9 L777,911.7 L772,911.6 L767,911.4 L762,911.2 L757,911.1 L752,910.9 L747,910.8 L742,910.7 L737,910.5 L732,910.4 L727,910.3 L722,910.2 L717,910.1 L712,910.1 L707,910 L702,909.9 L697,909.9 L692,909.8 L687,909.8 L682,909.7 L677,909.7 L672,909.7 L667,909.6 L662,909.6 L657,909.6 L652,909.5 L647,909.5 L642,909.5 L637,909.5 L632,909.4 L627,909.4 L622,909.4Z" fill="#BB3288"/>
<path d="M622,883.6 L627,883.6 L632,883.6 L637,883.7 L642,883.7 L647,883.7 L652,883.7 L657,883.7 L662,883.7 L667,883.7 L672,883.7 L677,883.7 L682,883.8 L687,883.8 L692,883.8 L697,883.8 L702,883.8 L707,883.9 L712,883.9 L717,883.9 L722,884 L727,884.1 L732,884.1 L737,884.2 L742,884.3 L747,884.4 L752,884.5 L757,884.6 L762,884.7 L767,884.8 L772,884.9 L777,885 L782,885.1 L787,885.2 L792,885.3 L797,885.4 L802,885.5 L807,885.6 L812,885.7 L817,885.8 L822,885.9 L827,885.9 L832,886 L837,886 L842,886.1 L847,886.1 L852,886.1 L857,886.2 L862,886.2 L867,886.2 L872,886.1 L877,886.1 L882,886 L887,885.9 L892,885.7 L897,885.4 L902,885.1 L907,884.6 L912,884.1 L917,883.6 L922,883 L927,882.3 L932,881.6 L937,880.9 L942,880.3 L947,879.7 L952,879.2 L957,878.6 L962,878.2 L967,877.7 L972,877.3 L977,876.8 L982,876.5 L987,876.1 L992,875.7 L997,875.4 L1002,875 L1007,874.7 L1012,874.4 L1017,874.1 L1022,873.8 L1027,873.4 L1032,873.1 L1037,872.9 L1042,872.6 L1047,872.3 L1052,872 L1057,871.7 L1062,871.4 L1067,871.1 L1072,870.9 L1077,870.6 L1082,870.3 L1087,870 L1092,869.7 L1097,869.4 L1102,869.1 L1107,868.8 L1112,868.6 L1117,868.3 L1122,868 L1127,867.8 L1132,867.6 L1135.5,867.5 L1135.5,880 L1132,880.2 L1127,880.5 L1122,880.9 L1117,881.3 L1112,881.7 L1107,882.2 L1102,882.6 L1097,883.1 L1092,883.6 L1087,884.1 L1082,884.5 L1077,885.1 L1072,885.6 L1067,886.1 L1062,886.6 L1057,887.1 L1052,887.6 L1047,888.1 L1042,888.6 L1037,889.2 L1032,889.7 L1027,890.2 L1022,890.8 L1017,891.3 L1012,891.9 L1007,892.5 L1002,893.1 L997,893.7 L992,894.4 L987,895 L982,895.7 L977,896.4 L972,897.2 L967,898 L962,898.8 L957,899.7 L952,900.6 L947,901.6 L942,902.6 L937,903.7 L932,904.7 L927,905.8 L922,906.8 L917,907.8 L912,908.7 L907,909.4 L902,910.1 L897,910.6 L892,911.1 L887,911.4 L882,911.7 L877,911.8 L872,911.9 L867,912 L862,912 L857,912 L852,912 L847,911.9 L842,911.9 L837,911.8 L832,911.7 L827,911.6 L822,911.5 L817,911.4 L812,911.2 L807,911.1 L802,910.9 L797,910.7 L792,910.5 L787,910.3 L782,910.1 L777,909.9 L772,909.8 L767,909.6 L762,909.4 L757,909.3 L752,909.1 L747,909 L742,908.9 L737,908.8 L732,908.6 L727,908.5 L722,908.4 L717,908.4 L712,908.3 L707,908.2 L702,908.2 L697,908.1 L692,908.1 L687,908 L682,908 L677,907.9 L672,907.9 L667,907.9 L662,907.8 L657,907.8 L652,907.8 L647,907.7 L642,907.7 L637,907.7 L632,907.7 L627,907.7 L622,907.7Z" fill="#D2507A"/>
<path d="M622,885.2 L627,885.2 L632,885.2 L637,885.2 L642,885.2 L647,885.2 L652,885.2 L657,885.2 L662,885.3 L667,885.3 L672,885.3 L677,885.3 L682,885.3 L687,885.3 L692,885.4 L697,885.4 L702,885.4 L707,885.4 L712,885.5 L717,885.5 L722,885.6 L727,885.6 L732,885.7 L737,885.8 L742,885.9 L747,886 L752,886.1 L757,886.2 L762,886.3 L767,886.4 L772,886.5 L777,886.6 L782,886.7 L787,886.8 L792,887 L797,887.1 L802,887.2 L807,887.3 L812,887.4 L817,887.5 L822,887.5 L827,887.6 L832,887.7 L837,887.7 L842,887.8 L847,887.8 L852,887.8 L857,887.8 L862,887.9 L867,887.8 L872,887.8 L877,887.8 L882,887.7 L887,887.5 L892,887.3 L897,887 L902,886.7 L907,886.2 L912,885.7 L917,885.2 L922,884.5 L927,883.8 L932,883.1 L937,882.4 L942,881.8 L947,881.1 L952,880.6 L957,880 L962,879.5 L967,879 L972,878.5 L977,878.1 L982,877.7 L987,877.3 L992,876.9 L997,876.6 L1002,876.2 L1007,875.9 L1012,875.5 L1017,875.2 L1022,874.9 L1027,874.5 L1032,874.2 L1037,873.9 L1042,873.6 L1047,873.3 L1052,873 L1057,872.7 L1062,872.4 L1067,872.1 L1072,871.8 L1077,871.5 L1082,871.2 L1087,870.9 L1092,870.6 L1097,870.3 L1102,870 L1107,869.7 L1112,869.4 L1117,869.1 L1122,868.9 L1127,868.6 L1132,868.4 L1135.5,868.3 L1135.5,879.1 L1132,879.3 L1127,879.6 L1122,880 L1117,880.4 L1112,880.8 L1107,881.2 L1102,881.6 L1097,882.1 L1092,882.6 L1087,883 L1082,883.5 L1077,884 L1072,884.5 L1067,885 L1062,885.5 L1057,886 L1052,886.5 L1047,887 L1042,887.5 L1037,888 L1032,888.5 L1027,889 L1022,889.5 L1017,890.1 L1012,890.6 L1007,891.2 L1002,891.8 L997,892.4 L992,893 L987,893.7 L982,894.3 L977,895 L972,895.7 L967,896.5 L962,897.3 L957,898.2 L952,899.1 L947,900 L942,901 L937,902 L932,903 L927,904.1 L922,905.1 L917,906 L912,906.9 L907,907.6 L902,908.3 L897,908.8 L892,909.2 L887,909.6 L882,909.8 L877,910 L872,910.1 L867,910.1 L862,910.2 L857,910.1 L852,910.1 L847,910.1 L842,910 L837,909.9 L832,909.8 L827,909.7 L822,909.6 L817,909.5 L812,909.4 L807,909.2 L802,909 L797,908.9 L792,908.7 L787,908.5 L782,908.3 L777,908.1 L772,907.9 L767,907.8 L762,907.6 L757,907.5 L752,907.4 L747,907.2 L742,907.1 L737,907 L732,906.9 L727,906.8 L722,906.7 L717,906.6 L712,906.5 L707,906.5 L702,906.4 L697,906.3 L692,906.3 L687,906.3 L682,906.2 L677,906.2 L672,906.1 L667,906.1 L662,906.1 L657,906 L652,906 L647,906 L642,906 L637,906 L632,906 L627,905.9 L622,905.9Z" fill="#E8705C"/>
<path d="M622,887.3 L627,887.3 L632,887.4 L637,887.4 L642,887.4 L647,887.4 L652,887.4 L657,887.4 L662,887.4 L667,887.4 L672,887.4 L677,887.5 L682,887.5 L687,887.5 L692,887.5 L697,887.5 L702,887.6 L707,887.6 L712,887.6 L717,887.7 L722,887.8 L727,887.8 L732,887.9 L737,888 L742,888.1 L747,888.2 L752,888.3 L757,888.4 L762,888.5 L767,888.6 L772,888.7 L777,888.8 L782,888.9 L787,889.1 L792,889.2 L797,889.3 L802,889.4 L807,889.6 L812,889.7 L817,889.7 L822,889.8 L827,889.9 L832,890 L837,890 L842,890.1 L847,890.1 L852,890.1 L857,890.1 L862,890.2 L867,890.2 L872,890.1 L877,890.1 L882,890 L887,889.8 L892,889.6 L897,889.3 L902,888.9 L907,888.5 L912,887.9 L917,887.3 L922,886.6 L927,885.9 L932,885.2 L937,884.4 L942,883.7 L947,883.1 L952,882.5 L957,881.9 L962,881.3 L967,880.8 L972,880.3 L977,879.9 L982,879.4 L987,879 L992,878.6 L997,878.2 L1002,877.8 L1007,877.4 L1012,877.1 L1017,876.7 L1022,876.4 L1027,876 L1032,875.7 L1037,875.4 L1042,875 L1047,874.7 L1052,874.4 L1057,874.1 L1062,873.8 L1067,873.4 L1072,873.1 L1077,872.8 L1082,872.5 L1087,872.2 L1092,871.8 L1097,871.5 L1102,871.2 L1107,870.9 L1112,870.6 L1117,870.3 L1122,870 L1127,869.8 L1132,869.6 L1135.5,869.4 L1135.5,878.2 L1132,878.4 L1127,878.7 L1122,879 L1117,879.4 L1112,879.8 L1107,880.2 L1102,880.7 L1097,881.1 L1092,881.5 L1087,882 L1082,882.5 L1077,882.9 L1072,883.4 L1067,883.9 L1062,884.4 L1057,884.9 L1052,885.3 L1047,885.8 L1042,886.3 L1037,886.8 L1032,887.3 L1027,887.8 L1022,888.3 L1017,888.8 L1012,889.3 L1007,889.9 L1002,890.5 L997,891.1 L992,891.6 L987,892.3 L982,892.9 L977,893.6 L972,894.3 L967,895 L962,895.8 L957,896.6 L952,897.5 L947,898.4 L942,899.3 L937,900.3 L932,901.3 L927,902.4 L922,903.3 L917,904.3 L912,905.1 L907,905.8 L902,906.4 L897,906.9 L892,907.3 L887,907.7 L882,907.9 L877,908.1 L872,908.2 L867,908.2 L862,908.2 L857,908.2 L852,908.2 L847,908.2 L842,908.1 L837,908 L832,908 L827,907.9 L822,907.7 L817,907.6 L812,907.5 L807,907.3 L802,907.2 L797,907 L792,906.8 L787,906.6 L782,906.5 L777,906.3 L772,906.1 L767,906 L762,905.8 L757,905.7 L752,905.5 L747,905.4 L742,905.3 L737,905.2 L732,905.1 L727,905 L722,904.9 L717,904.8 L712,904.7 L707,904.7 L702,904.6 L697,904.6 L692,904.5 L687,904.5 L682,904.4 L677,904.4 L672,904.4 L667,904.3 L662,904.3 L657,904.3 L652,904.2 L647,904.2 L642,904.2 L637,904.2 L632,904.2 L627,904.2 L622,904.2Z" fill="#F68A44"/>
<path d="M622,889.5 L627,889.5 L632,889.5 L637,889.5 L642,889.5 L647,889.5 L652,889.5 L657,889.5 L662,889.6 L667,889.6 L672,889.6 L677,889.6 L682,889.6 L687,889.7 L692,889.7 L697,889.7 L702,889.7 L707,889.8 L712,889.8 L717,889.9 L722,889.9 L727,890 L732,890.1 L737,890.2 L742,890.3 L747,890.4 L752,890.5 L757,890.6 L762,890.7 L767,890.8 L772,890.9 L777,891 L782,891.2 L787,891.3 L792,891.4 L797,891.6 L802,891.7 L807,891.8 L812,891.9 L817,892 L822,892.1 L827,892.2 L832,892.2 L837,892.3 L842,892.4 L847,892.4 L852,892.4 L857,892.4 L862,892.5 L867,892.5 L872,892.4 L877,892.4 L882,892.2 L887,892.1 L892,891.8 L897,891.5 L902,891.1 L907,890.7 L912,890.1 L917,889.5 L922,888.8 L927,888 L932,887.2 L937,886.5 L942,885.7 L947,885 L952,884.4 L957,883.8 L962,883.2 L967,882.6 L972,882.1 L977,881.6 L982,881.1 L987,880.7 L992,880.3 L997,879.8 L1002,879.4 L1007,879 L1012,878.6 L1017,878.3 L1022,877.9 L1027,877.5 L1032,877.2 L1037,876.8 L1042,876.5 L1047,876.1 L1052,875.8 L1057,875.5 L1062,875.1 L1067,874.8 L1072,874.4 L1077,874.1 L1082,873.8 L1087,873.4 L1092,873.1 L1097,872.7 L1102,872.4 L1107,872.1 L1112,871.8 L1117,871.5 L1122,871.2 L1127,870.9 L1132,870.7 L1135.5,870.5 L1135.5,877.3 L1132,877.5 L1127,877.7 L1122,878.1 L1117,878.4 L1112,878.8 L1107,879.2 L1102,879.7 L1097,880.1 L1092,880.5 L1087,881 L1082,881.4 L1077,881.9 L1072,882.3 L1067,882.8 L1062,883.3 L1057,883.7 L1052,884.2 L1047,884.6 L1042,885.1 L1037,885.6 L1032,886 L1027,886.5 L1022,887 L1017,887.5 L1012,888.1 L1007,888.6 L1002,889.1 L997,889.7 L992,890.3 L987,890.9 L982,891.5 L977,892.1 L972,892.8 L967,893.5 L962,894.3 L957,895.1 L952,895.9 L947,896.8 L942,897.7 L937,898.7 L932,899.6 L927,900.6 L922,901.6 L917,902.5 L912,903.3 L907,904 L902,904.6 L897,905.1 L892,905.5 L887,905.8 L882,906 L877,906.2 L872,906.3 L867,906.3 L862,906.3 L857,906.3 L852,906.3 L847,906.3 L842,906.2 L837,906.1 L832,906.1 L827,906 L822,905.9 L817,905.7 L812,905.6 L807,905.5 L802,905.3 L797,905.1 L792,905 L787,904.8 L782,904.6 L777,904.4 L772,904.3 L767,904.1 L762,904 L757,903.8 L752,903.7 L747,903.6 L742,903.5 L737,903.4 L732,903.3 L727,903.2 L722,903.1 L717,903 L712,902.9 L707,902.9 L702,902.8 L697,902.8 L692,902.7 L687,902.7 L682,902.6 L677,902.6 L672,902.6 L667,902.5 L662,902.5 L657,902.5 L652,902.5 L647,902.5 L642,902.4 L637,902.4 L632,902.4 L627,902.4 L622,902.4Z" fill="#FDB02F"/>
<path d="M622,891.7 L627,891.7 L632,891.7 L637,891.7 L642,891.7 L647,891.7 L652,891.7 L657,891.7 L662,891.7 L667,891.8 L672,891.8 L677,891.8 L682,891.8 L687,891.9 L692,891.9 L697,891.9 L702,891.9 L707,892 L712,892 L717,892.1 L722,892.1 L727,892.2 L732,892.3 L737,892.4 L742,892.5 L747,892.6 L752,892.7 L757,892.8 L762,892.9 L767,893 L772,893.2 L777,893.3 L782,893.4 L787,893.6 L792,893.7 L797,893.9 L802,894 L807,894.1 L812,894.2 L817,894.3 L822,894.4 L827,894.5 L832,894.6 L837,894.6 L842,894.7 L847,894.7 L852,894.8 L857,894.8 L862,894.8 L867,894.8 L872,894.7 L877,894.7 L882,894.6 L887,894.4 L892,894.1 L897,893.8 L902,893.4 L907,892.9 L912,892.3 L917,891.7 L922,890.9 L927,890.1 L932,889.3 L937,888.5 L942,887.7 L947,887 L952,886.3 L957,885.7 L962,885 L967,884.4 L972,883.9 L977,883.4 L982,882.9 L987,882.4 L992,881.9 L997,881.5 L1002,881.1 L1007,880.6 L1012,880.2 L1017,879.8 L1022,879.4 L1027,879 L1032,878.7 L1037,878.3 L1042,877.9 L1047,877.6 L1052,877.2 L1057,876.8 L1062,876.5 L1067,876.1 L1072,875.8 L1077,875.4 L1082,875 L1087,874.7 L1092,874.3 L1097,874 L1102,873.6 L1107,873.3 L1112,873 L1117,872.6 L1122,872.3 L1127,872.1 L1132,871.8 L1135.5,871.7 L1135.5,876 L1132,876.2 L1127,876.5 L1122,876.8 L1117,877.2 L1112,877.6 L1107,877.9 L1102,878.4 L1097,878.8 L1092,879.2 L1087,879.6 L1082,880 L1077,880.5 L1072,880.9 L1067,881.3 L1062,881.8 L1057,882.2 L1052,882.7 L1047,883.1 L1042,883.5 L1037,884 L1032,884.4 L1027,884.9 L1022,885.4 L1017,885.9 L1012,886.4 L1007,886.9 L1002,887.4 L997,887.9 L992,888.5 L987,889 L982,889.6 L977,890.2 L972,890.9 L967,891.5 L962,892.3 L957,893 L952,893.8 L947,894.7 L942,895.5 L937,896.5 L932,897.4 L927,898.3 L922,899.3 L917,900.1 L912,900.9 L907,901.6 L902,902.2 L897,902.6 L892,903 L887,903.3 L882,903.5 L877,903.7 L872,903.8 L867,903.8 L862,903.8 L857,903.8 L852,903.8 L847,903.8 L842,903.7 L837,903.6 L832,903.6 L827,903.5 L822,903.4 L817,903.3 L812,903.1 L807,903 L802,902.9 L797,902.7 L792,902.5 L787,902.4 L782,902.2 L777,902 L772,901.9 L767,901.7 L762,901.6 L757,901.5 L752,901.3 L747,901.2 L742,901.1 L737,901 L732,900.9 L727,900.8 L722,900.7 L717,900.6 L712,900.6 L707,900.5 L702,900.5 L697,900.4 L692,900.4 L687,900.3 L682,900.3 L677,900.3 L672,900.2 L667,900.2 L662,900.2 L657,900.2 L652,900.1 L647,900.1 L642,900.1 L637,900.1 L632,900.1 L627,900.1 L622,900.1Z" fill="#FDBC2A"/>
<path d="M622,893.8 L627,893.8 L632,893.8 L637,893.8 L642,893.9 L647,893.9 L652,893.9 L657,893.9 L662,893.9 L667,893.9 L672,894 L677,894 L682,894 L687,894 L692,894.1 L697,894.1 L702,894.1 L707,894.2 L712,894.2 L717,894.3 L722,894.3 L727,894.4 L732,894.5 L737,894.6 L742,894.7 L747,894.8 L752,894.9 L757,895 L762,895.2 L767,895.3 L772,895.4 L777,895.5 L782,895.7 L787,895.8 L792,896 L797,896.1 L802,896.3 L807,896.4 L812,896.5 L817,896.6 L822,896.7 L827,896.8 L832,896.9 L837,897 L842,897 L847,897.1 L852,897.1 L857,897.1 L862,897.1 L867,897.1 L872,897.1 L877,897 L882,896.9 L887,896.7 L892,896.4 L897,896.1 L902,895.7 L907,895.1 L912,894.5 L917,893.8 L922,893.1 L927,892.2 L932,891.4 L937,890.6 L942,889.8 L947,889 L952,888.2 L957,887.6 L962,886.9 L967,886.3 L972,885.7 L977,885.1 L982,884.6 L987,884.1 L992,883.6 L997,883.2 L1002,882.7 L1007,882.2 L1012,881.8 L1017,881.4 L1022,881 L1027,880.5 L1032,880.1 L1037,879.8 L1042,879.4 L1047,879 L1052,878.6 L1057,878.2 L1062,877.9 L1067,877.5 L1072,877.1 L1077,876.7 L1082,876.3 L1087,876 L1092,875.6 L1097,875.2 L1102,874.8 L1107,874.5 L1112,874.1 L1117,873.8 L1122,873.5 L1127,873.2 L1132,873 L1135.5,872.8 L1135.5,874.8 L1132,875 L1127,875.3 L1122,875.6 L1117,875.9 L1112,876.3 L1107,876.7 L1102,877 L1097,877.4 L1092,877.8 L1087,878.2 L1082,878.6 L1077,879.1 L1072,879.5 L1067,879.9 L1062,880.3 L1057,880.7 L1052,881.2 L1047,881.6 L1042,882 L1037,882.4 L1032,882.8 L1027,883.3 L1022,883.7 L1017,884.2 L1012,884.7 L1007,885.1 L1002,885.6 L997,886.1 L992,886.7 L987,887.2 L982,887.7 L977,888.3 L972,888.9 L967,889.6 L962,890.3 L957,891 L952,891.7 L947,892.5 L942,893.4 L937,894.3 L932,895.2 L927,896.1 L922,897 L917,897.8 L912,898.5 L907,899.2 L902,899.7 L897,900.2 L892,900.6 L887,900.8 L882,901 L877,901.2 L872,901.3 L867,901.3 L862,901.3 L857,901.3 L852,901.3 L847,901.3 L842,901.2 L837,901.1 L832,901.1 L827,901 L822,900.9 L817,900.8 L812,900.7 L807,900.5 L802,900.4 L797,900.2 L792,900.1 L787,899.9 L782,899.8 L777,899.6 L772,899.5 L767,899.3 L762,899.2 L757,899.1 L752,898.9 L747,898.8 L742,898.7 L737,898.6 L732,898.5 L727,898.4 L722,898.3 L717,898.3 L712,898.2 L707,898.1 L702,898.1 L697,898.1 L692,898 L687,898 L682,898 L677,897.9 L672,897.9 L667,897.9 L662,897.8 L657,897.8 L652,897.8 L647,897.8 L642,897.8 L637,897.8 L632,897.8 L627,897.7 L622,897.7Z" fill="#EEFA1F"/>
</g>
<rect x="624.8" y="659.2" width="513.4" height="285.1" fill="none" stroke="#3a3a3a" stroke-width="1.65"/>
<rect x="94.0" y="7.9" width="513.3" height="45.4" fill="#fff" stroke="#3a3a3a" stroke-width="1.65"/>
<text x="350.65" y="38.6" font-size="23.6" letter-spacing="0.64" text-anchor="middle" fill="#1a1a1a" stroke="#1a1a1a">Paroxytone</text>
<rect x="624.8" y="7.9" width="513.4" height="45.4" fill="#fff" stroke="#3a3a3a" stroke-width="1.65"/>
<text x="881.5" y="38.6" font-size="23.6" letter-spacing="0.64" text-anchor="middle" fill="#1a1a1a" stroke="#1a1a1a">Oxytone</text>
<rect x="1139.7" y="54.4" width="45.4" height="285.6" fill="#fff" stroke="#3a3a3a" stroke-width="1.65"/>
<text transform="translate(1154.5,197.7) rotate(90)" font-size="23.7" letter-spacing="0.6" text-anchor="middle" fill="#1a1a1a" stroke="#1a1a1a">Monolingual - HS</text>
<rect x="1139.7" y="357.1" width="45.4" height="284.9" fill="#fff" stroke="#3a3a3a" stroke-width="1.65"/>
<text transform="translate(1154.5,500.05) rotate(90)" font-size="23.7" letter-spacing="0.6" text-anchor="middle" fill="#1a1a1a" stroke="#1a1a1a">Monolingual - L2</text>
<rect x="1139.7" y="659.2" width="45.4" height="285.1" fill="#fff" stroke="#3a3a3a" stroke-width="1.65"/>
<text transform="translate(1154.5,802.25) rotate(90)" font-size="23.7" letter-spacing="0.6" text-anchor="middle" fill="#1a1a1a" stroke="#1a1a1a">HS - L2</text>
<line x1="85.4" x2="94" y1="117.8" y2="117.8" stroke="#262626" stroke-width="2.6"/>
<text x="79.0" y="127" font-size="25.3" text-anchor="end" fill="#4d4d4d">0.2</text>
<line x1="85.4" x2="94" y1="181.5" y2="181.5" stroke="#262626" stroke-width="2.6"/>
<text x="79.0" y="190.7" font-size="25.3" text-anchor="end" fill="#4d4d4d">0.1</text>
<line x1="85.4" x2="94" y1="245.2" y2="245.2" stroke="#262626" stroke-width="2.6"/>
<text x="79.0" y="254.4" font-size="25.3" text-anchor="end" fill="#4d4d4d">0.0</text>
<line x1="85.4" x2="94" y1="308.9" y2="308.9" stroke="#262626" stroke-width="2.6"/>
<text x="79.0" y="318.1" font-size="25.3" text-anchor="end" fill="#4d4d4d">-0.1</text>
<line x1="85.4" x2="94" y1="420.1" y2="420.1" stroke="#262626" stroke-width="2.6"/>
<text x="79.0" y="429.3" font-size="25.3" text-anchor="end" fill="#4d4d4d">0.2</text>
<line x1="85.4" x2="94" y1="483.8" y2="483.8" stroke="#262626" stroke-width="2.6"/>
<text x="79.0" y="493" font-size="25.3" text-anchor="end" fill="#4d4d4d">0.1</text>
<line x1="85.4" x2="94" y1="547.5" y2="547.5" stroke="#262626" stroke-width="2.6"/>
<text x="79.0" y="556.7" font-size="25.3" text-anchor="end" fill="#4d4d4d">0.0</text>
<line x1="85.4" x2="94" y1="611.2" y2="611.2" stroke="#262626" stroke-width="2.6"/>
<text x="79.0" y="620.4" font-size="25.3" text-anchor="end" fill="#4d4d4d">-0.1</text>
<line x1="85.4" x2="94" y1="722.4" y2="722.4" stroke="#262626" stroke-width="2.6"/>
<text x="79.0" y="731.6" font-size="25.3" text-anchor="end" fill="#4d4d4d">0.2</text>
<line x1="85.4" x2="94" y1="786.1" y2="786.1" stroke="#262626" stroke-width="2.6"/>
<text x="79.0" y="795.3" font-size="25.3" text-anchor="end" fill="#4d4d4d">0.1</text>
<line x1="85.4" x2="94" y1="849.8" y2="849.8" stroke="#262626" stroke-width="2.6"/>
<text x="79.0" y="859" font-size="25.3" text-anchor="end" fill="#4d4d4d">0.0</text>
<line x1="85.4" x2="94" y1="913.5" y2="913.5" stroke="#262626" stroke-width="2.6"/>
<text x="79.0" y="922.7" font-size="25.3" text-anchor="end" fill="#4d4d4d">-0.1</text>
<line x1="116.5" x2="116.5" y1="944.3" y2="952.9" stroke="#262626" stroke-width="2.6"/>
<text x="116.5" y="976.4" font-size="25.3" text-anchor="middle" fill="#4d4d4d">-200</text>
<line x1="233.5" x2="233.5" y1="944.3" y2="952.9" stroke="#262626" stroke-width="2.6"/>
<text x="233.5" y="976.4" font-size="25.3" text-anchor="middle" fill="#4d4d4d">0</text>
<line x1="350.5" x2="350.5" y1="944.3" y2="952.9" stroke="#262626" stroke-width="2.6"/>
<text x="350.5" y="976.4" font-size="25.3" text-anchor="middle" fill="#4d4d4d">200</text>
<line x1="467.5" x2="467.5" y1="944.3" y2="952.9" stroke="#262626" stroke-width="2.6"/>
<text x="467.5" y="976.4" font-size="25.3" text-anchor="middle" fill="#4d4d4d">400</text>
<line x1="584.5" x2="584.5" y1="944.3" y2="952.9" stroke="#262626" stroke-width="2.6"/>
<text x="584.5" y="976.4" font-size="25.3" text-anchor="middle" fill="#4d4d4d">600</text>
<line x1="647.3" x2="647.3" y1="944.3" y2="952.9" stroke="#262626" stroke-width="2.6"/>
<text x="647.3" y="976.4" font-size="25.3" text-anchor="middle" fill="#4d4d4d">-200</text>
<line x1="764.3" x2="764.3" y1="944.3" y2="952.9" stroke="#262626" stroke-width="2.6"/>
<text x="764.3" y="976.4" font-size="25.3" text-anchor="middle" fill="#4d4d4d">0</text>
<line x1="881.3" x2="881.3" y1="944.3" y2="952.9" stroke="#262626" stroke-width="2.6"/>
<text x="881.3" y="976.4" font-size="25.3" text-anchor="middle" fill="#4d4d4d">200</text>
<line x1="998.3" x2="998.3" y1="944.3" y2="952.9" stroke="#262626" stroke-width="2.6"/>
<text x="998.3" y="976.4" font-size="25.3" text-anchor="middle" fill="#4d4d4d">400</text>
<line x1="1115.3" x2="1115.3" y1="944.3" y2="952.9" stroke="#262626" stroke-width="2.6"/>
<text x="1115.3" y="976.4" font-size="25.3" text-anchor="middle" fill="#4d4d4d">600</text>
<text x="953.9" y="1007.5" font-size="27.4" letter-spacing="0.45" fill="#000" stroke="#000">Time course</text>
<text transform="translate(25.7,197.6) rotate(-90)" font-size="27.4" letter-spacing="0.3" text-anchor="middle" fill="#000" stroke="#000">Difference smooths</text>
</svg>
</body></html>
